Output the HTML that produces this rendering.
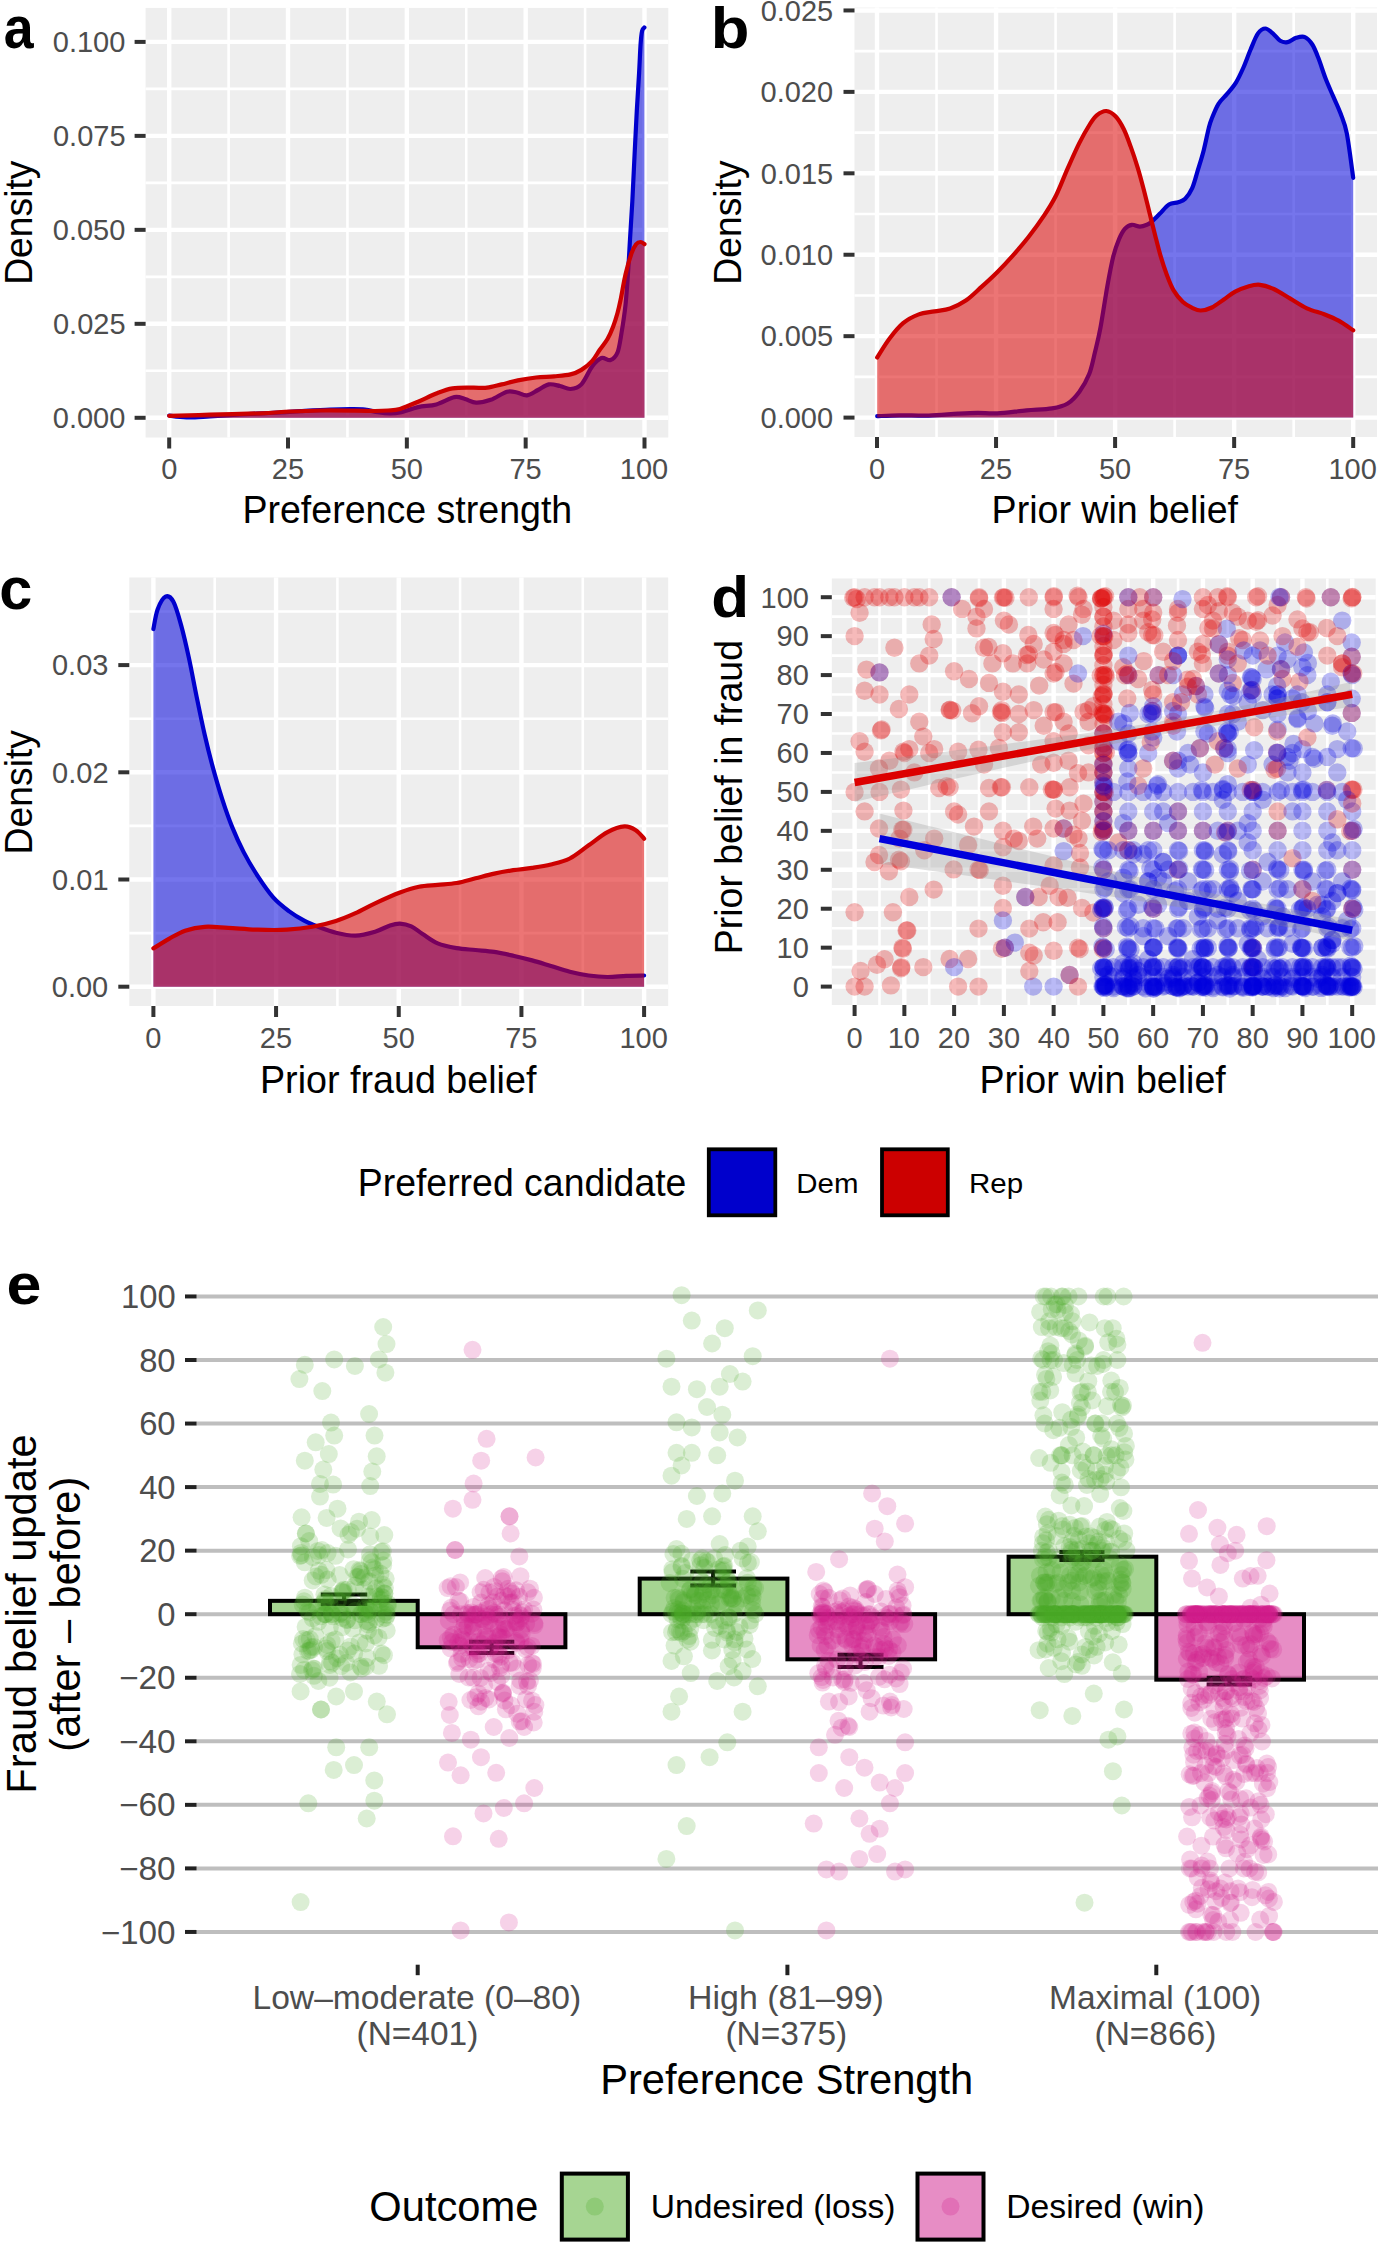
<!DOCTYPE html>
<html><head><meta charset="utf-8"><style>
html,body{margin:0;padding:0;background:#fff;overflow:hidden;}
svg{display:block;}
text{font-family:"Liberation Sans",sans-serif;}
</style></head><body>
<svg width="1378" height="2244" viewBox="0 0 1378 2244">
<rect width="1378" height="2244" fill="#fff"/>
<rect x="145.60" y="7.90" width="522.70" height="429.60" fill="#EEEEEE"/>
<line x1="228.61" y1="7.90" x2="228.61" y2="437.50" stroke="#fff" stroke-width="2.6"/>
<line x1="347.44" y1="7.90" x2="347.44" y2="437.50" stroke="#fff" stroke-width="2.6"/>
<line x1="466.26" y1="7.90" x2="466.26" y2="437.50" stroke="#fff" stroke-width="2.6"/>
<line x1="585.09" y1="7.90" x2="585.09" y2="437.50" stroke="#fff" stroke-width="2.6"/>
<line x1="145.60" y1="370.81" x2="668.30" y2="370.81" stroke="#fff" stroke-width="2.6"/>
<line x1="145.60" y1="276.84" x2="668.30" y2="276.84" stroke="#fff" stroke-width="2.6"/>
<line x1="145.60" y1="182.86" x2="668.30" y2="182.86" stroke="#fff" stroke-width="2.6"/>
<line x1="145.60" y1="88.89" x2="668.30" y2="88.89" stroke="#fff" stroke-width="2.6"/>
<line x1="169.20" y1="7.90" x2="169.20" y2="437.50" stroke="#fff" stroke-width="4.4"/>
<line x1="288.02" y1="7.90" x2="288.02" y2="437.50" stroke="#fff" stroke-width="4.4"/>
<line x1="406.85" y1="7.90" x2="406.85" y2="437.50" stroke="#fff" stroke-width="4.4"/>
<line x1="525.67" y1="7.90" x2="525.67" y2="437.50" stroke="#fff" stroke-width="4.4"/>
<line x1="644.50" y1="7.90" x2="644.50" y2="437.50" stroke="#fff" stroke-width="4.4"/>
<line x1="145.60" y1="417.80" x2="668.30" y2="417.80" stroke="#fff" stroke-width="4.4"/>
<line x1="145.60" y1="323.82" x2="668.30" y2="323.82" stroke="#fff" stroke-width="4.4"/>
<line x1="145.60" y1="229.85" x2="668.30" y2="229.85" stroke="#fff" stroke-width="4.4"/>
<line x1="145.60" y1="135.88" x2="668.30" y2="135.88" stroke="#fff" stroke-width="4.4"/>
<line x1="145.60" y1="41.90" x2="668.30" y2="41.90" stroke="#fff" stroke-width="4.4"/>
<rect x="854.50" y="7.60" width="522.50" height="429.40" fill="#EEEEEE"/>
<line x1="936.52" y1="7.60" x2="936.52" y2="437.00" stroke="#fff" stroke-width="2.6"/>
<line x1="1055.58" y1="7.60" x2="1055.58" y2="437.00" stroke="#fff" stroke-width="2.6"/>
<line x1="1174.62" y1="7.60" x2="1174.62" y2="437.00" stroke="#fff" stroke-width="2.6"/>
<line x1="1293.67" y1="7.60" x2="1293.67" y2="437.00" stroke="#fff" stroke-width="2.6"/>
<line x1="854.50" y1="376.88" x2="1377.00" y2="376.88" stroke="#fff" stroke-width="2.6"/>
<line x1="854.50" y1="295.46" x2="1377.00" y2="295.46" stroke="#fff" stroke-width="2.6"/>
<line x1="854.50" y1="214.03" x2="1377.00" y2="214.03" stroke="#fff" stroke-width="2.6"/>
<line x1="854.50" y1="132.59" x2="1377.00" y2="132.59" stroke="#fff" stroke-width="2.6"/>
<line x1="854.50" y1="51.17" x2="1377.00" y2="51.17" stroke="#fff" stroke-width="2.6"/>
<line x1="877.00" y1="7.60" x2="877.00" y2="437.00" stroke="#fff" stroke-width="4.4"/>
<line x1="996.05" y1="7.60" x2="996.05" y2="437.00" stroke="#fff" stroke-width="4.4"/>
<line x1="1115.10" y1="7.60" x2="1115.10" y2="437.00" stroke="#fff" stroke-width="4.4"/>
<line x1="1234.15" y1="7.60" x2="1234.15" y2="437.00" stroke="#fff" stroke-width="4.4"/>
<line x1="1353.20" y1="7.60" x2="1353.20" y2="437.00" stroke="#fff" stroke-width="4.4"/>
<line x1="854.50" y1="417.60" x2="1377.00" y2="417.60" stroke="#fff" stroke-width="4.4"/>
<line x1="854.50" y1="336.17" x2="1377.00" y2="336.17" stroke="#fff" stroke-width="4.4"/>
<line x1="854.50" y1="254.74" x2="1377.00" y2="254.74" stroke="#fff" stroke-width="4.4"/>
<line x1="854.50" y1="173.31" x2="1377.00" y2="173.31" stroke="#fff" stroke-width="4.4"/>
<line x1="854.50" y1="91.88" x2="1377.00" y2="91.88" stroke="#fff" stroke-width="4.4"/>
<line x1="854.50" y1="10.45" x2="1377.00" y2="10.45" stroke="#fff" stroke-width="4.4"/>
<rect x="129.30" y="577.50" width="538.90" height="428.50" fill="#EEEEEE"/>
<line x1="214.74" y1="577.50" x2="214.74" y2="1006.00" stroke="#fff" stroke-width="2.6"/>
<line x1="337.41" y1="577.50" x2="337.41" y2="1006.00" stroke="#fff" stroke-width="2.6"/>
<line x1="460.09" y1="577.50" x2="460.09" y2="1006.00" stroke="#fff" stroke-width="2.6"/>
<line x1="582.76" y1="577.50" x2="582.76" y2="1006.00" stroke="#fff" stroke-width="2.6"/>
<line x1="129.30" y1="933.10" x2="668.20" y2="933.10" stroke="#fff" stroke-width="2.6"/>
<line x1="129.30" y1="825.90" x2="668.20" y2="825.90" stroke="#fff" stroke-width="2.6"/>
<line x1="129.30" y1="718.70" x2="668.20" y2="718.70" stroke="#fff" stroke-width="2.6"/>
<line x1="129.30" y1="611.50" x2="668.20" y2="611.50" stroke="#fff" stroke-width="2.6"/>
<line x1="153.40" y1="577.50" x2="153.40" y2="1006.00" stroke="#fff" stroke-width="4.4"/>
<line x1="276.07" y1="577.50" x2="276.07" y2="1006.00" stroke="#fff" stroke-width="4.4"/>
<line x1="398.75" y1="577.50" x2="398.75" y2="1006.00" stroke="#fff" stroke-width="4.4"/>
<line x1="521.42" y1="577.50" x2="521.42" y2="1006.00" stroke="#fff" stroke-width="4.4"/>
<line x1="644.10" y1="577.50" x2="644.10" y2="1006.00" stroke="#fff" stroke-width="4.4"/>
<line x1="129.30" y1="986.70" x2="668.20" y2="986.70" stroke="#fff" stroke-width="4.4"/>
<line x1="129.30" y1="879.50" x2="668.20" y2="879.50" stroke="#fff" stroke-width="4.4"/>
<line x1="129.30" y1="772.30" x2="668.20" y2="772.30" stroke="#fff" stroke-width="4.4"/>
<line x1="129.30" y1="665.10" x2="668.20" y2="665.10" stroke="#fff" stroke-width="4.4"/>
<rect x="831.80" y="578.50" width="543.90" height="426.50" fill="#EEEEEE"/>
<line x1="879.48" y1="578.50" x2="879.48" y2="1005.00" stroke="#fff" stroke-width="2.6"/>
<line x1="929.24" y1="578.50" x2="929.24" y2="1005.00" stroke="#fff" stroke-width="2.6"/>
<line x1="979.00" y1="578.50" x2="979.00" y2="1005.00" stroke="#fff" stroke-width="2.6"/>
<line x1="1028.76" y1="578.50" x2="1028.76" y2="1005.00" stroke="#fff" stroke-width="2.6"/>
<line x1="1078.52" y1="578.50" x2="1078.52" y2="1005.00" stroke="#fff" stroke-width="2.6"/>
<line x1="1128.28" y1="578.50" x2="1128.28" y2="1005.00" stroke="#fff" stroke-width="2.6"/>
<line x1="1178.04" y1="578.50" x2="1178.04" y2="1005.00" stroke="#fff" stroke-width="2.6"/>
<line x1="1227.80" y1="578.50" x2="1227.80" y2="1005.00" stroke="#fff" stroke-width="2.6"/>
<line x1="1277.56" y1="578.50" x2="1277.56" y2="1005.00" stroke="#fff" stroke-width="2.6"/>
<line x1="1327.32" y1="578.50" x2="1327.32" y2="1005.00" stroke="#fff" stroke-width="2.6"/>
<line x1="831.80" y1="967.13" x2="1375.70" y2="967.13" stroke="#fff" stroke-width="2.6"/>
<line x1="831.80" y1="928.19" x2="1375.70" y2="928.19" stroke="#fff" stroke-width="2.6"/>
<line x1="831.80" y1="889.25" x2="1375.70" y2="889.25" stroke="#fff" stroke-width="2.6"/>
<line x1="831.80" y1="850.31" x2="1375.70" y2="850.31" stroke="#fff" stroke-width="2.6"/>
<line x1="831.80" y1="811.37" x2="1375.70" y2="811.37" stroke="#fff" stroke-width="2.6"/>
<line x1="831.80" y1="772.43" x2="1375.70" y2="772.43" stroke="#fff" stroke-width="2.6"/>
<line x1="831.80" y1="733.49" x2="1375.70" y2="733.49" stroke="#fff" stroke-width="2.6"/>
<line x1="831.80" y1="694.55" x2="1375.70" y2="694.55" stroke="#fff" stroke-width="2.6"/>
<line x1="831.80" y1="655.61" x2="1375.70" y2="655.61" stroke="#fff" stroke-width="2.6"/>
<line x1="831.80" y1="616.67" x2="1375.70" y2="616.67" stroke="#fff" stroke-width="2.6"/>
<line x1="854.60" y1="578.50" x2="854.60" y2="1005.00" stroke="#fff" stroke-width="4.4"/>
<line x1="904.36" y1="578.50" x2="904.36" y2="1005.00" stroke="#fff" stroke-width="4.4"/>
<line x1="954.12" y1="578.50" x2="954.12" y2="1005.00" stroke="#fff" stroke-width="4.4"/>
<line x1="1003.88" y1="578.50" x2="1003.88" y2="1005.00" stroke="#fff" stroke-width="4.4"/>
<line x1="1053.64" y1="578.50" x2="1053.64" y2="1005.00" stroke="#fff" stroke-width="4.4"/>
<line x1="1103.40" y1="578.50" x2="1103.40" y2="1005.00" stroke="#fff" stroke-width="4.4"/>
<line x1="1153.16" y1="578.50" x2="1153.16" y2="1005.00" stroke="#fff" stroke-width="4.4"/>
<line x1="1202.92" y1="578.50" x2="1202.92" y2="1005.00" stroke="#fff" stroke-width="4.4"/>
<line x1="1252.68" y1="578.50" x2="1252.68" y2="1005.00" stroke="#fff" stroke-width="4.4"/>
<line x1="1302.44" y1="578.50" x2="1302.44" y2="1005.00" stroke="#fff" stroke-width="4.4"/>
<line x1="1352.20" y1="578.50" x2="1352.20" y2="1005.00" stroke="#fff" stroke-width="4.4"/>
<line x1="831.80" y1="986.60" x2="1375.70" y2="986.60" stroke="#fff" stroke-width="4.4"/>
<line x1="831.80" y1="947.66" x2="1375.70" y2="947.66" stroke="#fff" stroke-width="4.4"/>
<line x1="831.80" y1="908.72" x2="1375.70" y2="908.72" stroke="#fff" stroke-width="4.4"/>
<line x1="831.80" y1="869.78" x2="1375.70" y2="869.78" stroke="#fff" stroke-width="4.4"/>
<line x1="831.80" y1="830.84" x2="1375.70" y2="830.84" stroke="#fff" stroke-width="4.4"/>
<line x1="831.80" y1="791.90" x2="1375.70" y2="791.90" stroke="#fff" stroke-width="4.4"/>
<line x1="831.80" y1="752.96" x2="1375.70" y2="752.96" stroke="#fff" stroke-width="4.4"/>
<line x1="831.80" y1="714.02" x2="1375.70" y2="714.02" stroke="#fff" stroke-width="4.4"/>
<line x1="831.80" y1="675.08" x2="1375.70" y2="675.08" stroke="#fff" stroke-width="4.4"/>
<line x1="831.80" y1="636.14" x2="1375.70" y2="636.14" stroke="#fff" stroke-width="4.4"/>
<line x1="831.80" y1="597.20" x2="1375.70" y2="597.20" stroke="#fff" stroke-width="4.4"/>
<path d="M169.20,415.50 C171.00,415.75 175.70,416.67 180.00,417.00 C184.30,417.33 190.00,417.58 195.00,417.50 C200.00,417.42 202.50,417.00 210.00,416.50 C217.50,416.00 230.00,415.08 240.00,414.50 C250.00,413.92 260.00,413.55 270.00,413.00 C280.00,412.45 290.00,411.77 300.00,411.20 C310.00,410.63 321.67,409.93 330.00,409.60 C338.33,409.27 344.17,409.20 350.00,409.20 C355.83,409.20 360.33,409.08 365.00,409.60 C369.67,410.12 373.83,411.65 378.00,412.30 C382.17,412.95 386.33,413.47 390.00,413.50 C393.67,413.53 395.32,413.57 400.00,412.50 C404.68,411.43 412.05,408.45 418.10,407.10 C424.15,405.75 430.25,406.07 436.30,404.40 C442.35,402.73 449.62,398.00 454.40,397.10 C459.18,396.20 461.37,398.08 465.00,399.00 C468.63,399.92 471.92,402.47 476.20,402.60 C480.48,402.73 485.57,401.62 490.70,399.80 C495.83,397.98 502.62,392.92 507.00,391.70 C511.38,390.48 513.67,391.90 517.00,392.50 C520.33,393.10 523.50,395.72 527.00,395.30 C530.50,394.88 534.37,391.82 538.00,390.00 C541.63,388.18 545.13,385.07 548.80,384.40 C552.47,383.73 556.38,385.23 560.00,386.00 C563.62,386.77 566.93,389.27 570.50,389.00 C574.07,388.73 577.77,388.18 581.40,384.40 C585.03,380.62 588.97,370.68 592.30,366.30 C595.63,361.92 598.37,359.15 601.40,358.10 C604.43,357.05 607.82,360.93 610.50,360.00 C613.18,359.07 615.67,357.00 617.50,352.50 C619.33,348.00 620.17,340.92 621.50,333.00 C622.83,325.08 624.38,315.50 625.50,305.00 C626.62,294.50 627.45,280.88 628.20,270.00 C628.95,259.12 629.32,251.07 630.00,239.70 C630.68,228.33 631.55,215.68 632.30,201.80 C633.05,187.92 633.75,171.55 634.50,156.40 C635.25,141.25 636.03,124.80 636.80,110.90 C637.57,97.00 638.47,84.15 639.10,73.00 C639.73,61.85 640.10,51.00 640.60,44.00 C641.10,37.00 641.47,33.75 642.10,31.00 C642.73,28.25 644.02,28.08 644.40,27.50 L644.40,417.80 L169.20,417.80 Z" fill="#0000DC" fill-opacity="0.54"/>
<path d="M169.20,415.50 C171.00,415.75 175.70,416.67 180.00,417.00 C184.30,417.33 190.00,417.58 195.00,417.50 C200.00,417.42 202.50,417.00 210.00,416.50 C217.50,416.00 230.00,415.08 240.00,414.50 C250.00,413.92 260.00,413.55 270.00,413.00 C280.00,412.45 290.00,411.77 300.00,411.20 C310.00,410.63 321.67,409.93 330.00,409.60 C338.33,409.27 344.17,409.20 350.00,409.20 C355.83,409.20 360.33,409.08 365.00,409.60 C369.67,410.12 373.83,411.65 378.00,412.30 C382.17,412.95 386.33,413.47 390.00,413.50 C393.67,413.53 395.32,413.57 400.00,412.50 C404.68,411.43 412.05,408.45 418.10,407.10 C424.15,405.75 430.25,406.07 436.30,404.40 C442.35,402.73 449.62,398.00 454.40,397.10 C459.18,396.20 461.37,398.08 465.00,399.00 C468.63,399.92 471.92,402.47 476.20,402.60 C480.48,402.73 485.57,401.62 490.70,399.80 C495.83,397.98 502.62,392.92 507.00,391.70 C511.38,390.48 513.67,391.90 517.00,392.50 C520.33,393.10 523.50,395.72 527.00,395.30 C530.50,394.88 534.37,391.82 538.00,390.00 C541.63,388.18 545.13,385.07 548.80,384.40 C552.47,383.73 556.38,385.23 560.00,386.00 C563.62,386.77 566.93,389.27 570.50,389.00 C574.07,388.73 577.77,388.18 581.40,384.40 C585.03,380.62 588.97,370.68 592.30,366.30 C595.63,361.92 598.37,359.15 601.40,358.10 C604.43,357.05 607.82,360.93 610.50,360.00 C613.18,359.07 615.67,357.00 617.50,352.50 C619.33,348.00 620.17,340.92 621.50,333.00 C622.83,325.08 624.38,315.50 625.50,305.00 C626.62,294.50 627.45,280.88 628.20,270.00 C628.95,259.12 629.32,251.07 630.00,239.70 C630.68,228.33 631.55,215.68 632.30,201.80 C633.05,187.92 633.75,171.55 634.50,156.40 C635.25,141.25 636.03,124.80 636.80,110.90 C637.57,97.00 638.47,84.15 639.10,73.00 C639.73,61.85 640.10,51.00 640.60,44.00 C641.10,37.00 641.47,33.75 642.10,31.00 C642.73,28.25 644.02,28.08 644.40,27.50" fill="none" stroke="#0000CD" stroke-width="4.2" stroke-linecap="round" stroke-linejoin="round"/>
<path d="M169.20,415.80 C176.00,415.62 194.87,415.12 210.00,414.70 C225.13,414.28 246.67,413.83 260.00,413.30 C273.33,412.77 280.00,411.97 290.00,411.50 C300.00,411.03 309.17,410.65 320.00,410.50 C330.83,410.35 345.83,410.52 355.00,410.60 C364.17,410.68 369.50,411.02 375.00,411.00 C380.50,410.98 383.83,410.85 388.00,410.50 C392.17,410.15 394.98,410.37 400.00,408.90 C405.02,407.43 412.05,404.27 418.10,401.70 C424.15,399.13 430.55,395.72 436.30,393.50 C442.05,391.28 446.55,389.37 452.60,388.40 C458.65,387.43 466.85,387.82 472.60,387.70 C478.35,387.58 482.27,388.25 487.10,387.70 C491.93,387.15 496.47,385.62 501.60,384.40 C506.73,383.18 512.15,381.55 517.90,380.40 C523.65,379.25 530.05,378.18 536.10,377.50 C542.15,376.82 548.47,376.82 554.20,376.30 C559.93,375.78 565.97,375.47 570.50,374.40 C575.03,373.33 577.77,372.17 581.40,369.90 C585.03,367.63 589.27,364.12 592.30,360.80 C595.33,357.48 597.07,353.63 599.60,350.00 C602.13,346.37 605.27,342.83 607.50,339.00 C609.73,335.17 611.33,331.33 613.00,327.00 C614.67,322.67 616.25,317.45 617.50,313.00 C618.75,308.55 619.17,306.72 620.50,300.30 C621.83,293.88 623.67,282.33 625.50,274.50 C627.33,266.67 629.73,258.35 631.50,253.30 C633.27,248.25 634.58,246.08 636.10,244.20 C637.62,242.32 639.20,242.00 640.60,242.00 C642.00,242.00 643.85,243.83 644.50,244.20 L644.50,417.80 L169.20,417.80 Z" fill="#DC0000" fill-opacity="0.54"/>
<path d="M169.20,415.80 C176.00,415.62 194.87,415.12 210.00,414.70 C225.13,414.28 246.67,413.83 260.00,413.30 C273.33,412.77 280.00,411.97 290.00,411.50 C300.00,411.03 309.17,410.65 320.00,410.50 C330.83,410.35 345.83,410.52 355.00,410.60 C364.17,410.68 369.50,411.02 375.00,411.00 C380.50,410.98 383.83,410.85 388.00,410.50 C392.17,410.15 394.98,410.37 400.00,408.90 C405.02,407.43 412.05,404.27 418.10,401.70 C424.15,399.13 430.55,395.72 436.30,393.50 C442.05,391.28 446.55,389.37 452.60,388.40 C458.65,387.43 466.85,387.82 472.60,387.70 C478.35,387.58 482.27,388.25 487.10,387.70 C491.93,387.15 496.47,385.62 501.60,384.40 C506.73,383.18 512.15,381.55 517.90,380.40 C523.65,379.25 530.05,378.18 536.10,377.50 C542.15,376.82 548.47,376.82 554.20,376.30 C559.93,375.78 565.97,375.47 570.50,374.40 C575.03,373.33 577.77,372.17 581.40,369.90 C585.03,367.63 589.27,364.12 592.30,360.80 C595.33,357.48 597.07,353.63 599.60,350.00 C602.13,346.37 605.27,342.83 607.50,339.00 C609.73,335.17 611.33,331.33 613.00,327.00 C614.67,322.67 616.25,317.45 617.50,313.00 C618.75,308.55 619.17,306.72 620.50,300.30 C621.83,293.88 623.67,282.33 625.50,274.50 C627.33,266.67 629.73,258.35 631.50,253.30 C633.27,248.25 634.58,246.08 636.10,244.20 C637.62,242.32 639.20,242.00 640.60,242.00 C642.00,242.00 643.85,243.83 644.50,244.20" fill="none" stroke="#CD0000" stroke-width="4.2" stroke-linecap="round" stroke-linejoin="round"/>
<path d="M877.20,416.20 C880.87,416.05 890.63,415.40 899.20,415.30 C907.77,415.20 918.80,415.87 928.60,415.60 C938.40,415.33 949.83,414.15 958.00,413.70 C966.17,413.25 971.07,412.97 977.60,412.90 C984.13,412.83 989.05,413.72 997.20,413.30 C1005.35,412.88 1017.37,411.22 1026.50,410.40 C1035.63,409.58 1045.13,409.55 1052.00,408.40 C1058.87,407.25 1063.13,406.28 1067.70,403.50 C1072.27,400.72 1075.82,396.60 1079.40,391.70 C1082.98,386.80 1086.60,380.72 1089.20,374.10 C1091.80,367.48 1093.13,359.68 1095.00,352.00 C1096.87,344.32 1098.33,339.03 1100.40,328.00 C1102.47,316.97 1105.27,297.68 1107.40,285.80 C1109.53,273.92 1111.27,264.45 1113.20,256.70 C1115.13,248.95 1117.07,243.93 1119.00,239.30 C1120.93,234.67 1122.67,231.32 1124.80,228.90 C1126.93,226.48 1129.28,225.18 1131.80,224.80 C1134.32,224.42 1137.38,226.60 1139.90,226.60 C1142.42,226.60 1144.97,225.58 1146.90,224.80 C1148.83,224.02 1149.37,223.73 1151.50,221.90 C1153.63,220.07 1156.78,216.70 1159.70,213.80 C1162.62,210.90 1165.92,206.43 1169.00,204.50 C1172.08,202.57 1175.50,203.17 1178.20,202.20 C1180.90,201.23 1182.87,201.03 1185.20,198.70 C1187.53,196.37 1190.07,193.03 1192.20,188.20 C1194.33,183.37 1196.07,176.08 1198.00,169.70 C1199.93,163.32 1201.97,157.02 1203.80,149.90 C1205.63,142.78 1207.58,132.43 1209.00,127.00 C1210.42,121.57 1210.72,121.17 1212.30,117.30 C1213.88,113.43 1216.03,107.70 1218.50,103.80 C1220.97,99.90 1224.22,97.40 1227.10,93.90 C1229.98,90.40 1233.12,87.12 1235.80,82.80 C1238.48,78.48 1240.73,73.55 1243.20,68.00 C1245.67,62.45 1248.13,55.27 1250.60,49.50 C1253.07,43.73 1255.53,36.90 1258.00,33.40 C1260.47,29.90 1262.93,28.50 1265.40,28.50 C1267.87,28.50 1270.33,31.35 1272.80,33.40 C1275.27,35.45 1277.73,39.35 1280.20,40.80 C1282.67,42.25 1284.93,42.60 1287.60,42.10 C1290.27,41.60 1293.32,38.63 1296.20,37.80 C1299.08,36.97 1302.22,35.98 1304.90,37.10 C1307.58,38.22 1310.05,41.00 1312.30,44.50 C1314.55,48.00 1316.15,52.33 1318.40,58.10 C1320.65,63.87 1323.33,72.72 1325.80,79.10 C1328.27,85.48 1330.73,90.65 1333.20,96.40 C1335.67,102.15 1338.33,107.43 1340.60,113.60 C1342.87,119.77 1344.70,122.70 1346.80,133.40 C1348.90,144.10 1352.13,170.40 1353.20,177.80 L1353.20,417.60 L877.20,417.60 Z" fill="#0000DC" fill-opacity="0.54"/>
<path d="M877.20,416.20 C880.87,416.05 890.63,415.40 899.20,415.30 C907.77,415.20 918.80,415.87 928.60,415.60 C938.40,415.33 949.83,414.15 958.00,413.70 C966.17,413.25 971.07,412.97 977.60,412.90 C984.13,412.83 989.05,413.72 997.20,413.30 C1005.35,412.88 1017.37,411.22 1026.50,410.40 C1035.63,409.58 1045.13,409.55 1052.00,408.40 C1058.87,407.25 1063.13,406.28 1067.70,403.50 C1072.27,400.72 1075.82,396.60 1079.40,391.70 C1082.98,386.80 1086.60,380.72 1089.20,374.10 C1091.80,367.48 1093.13,359.68 1095.00,352.00 C1096.87,344.32 1098.33,339.03 1100.40,328.00 C1102.47,316.97 1105.27,297.68 1107.40,285.80 C1109.53,273.92 1111.27,264.45 1113.20,256.70 C1115.13,248.95 1117.07,243.93 1119.00,239.30 C1120.93,234.67 1122.67,231.32 1124.80,228.90 C1126.93,226.48 1129.28,225.18 1131.80,224.80 C1134.32,224.42 1137.38,226.60 1139.90,226.60 C1142.42,226.60 1144.97,225.58 1146.90,224.80 C1148.83,224.02 1149.37,223.73 1151.50,221.90 C1153.63,220.07 1156.78,216.70 1159.70,213.80 C1162.62,210.90 1165.92,206.43 1169.00,204.50 C1172.08,202.57 1175.50,203.17 1178.20,202.20 C1180.90,201.23 1182.87,201.03 1185.20,198.70 C1187.53,196.37 1190.07,193.03 1192.20,188.20 C1194.33,183.37 1196.07,176.08 1198.00,169.70 C1199.93,163.32 1201.97,157.02 1203.80,149.90 C1205.63,142.78 1207.58,132.43 1209.00,127.00 C1210.42,121.57 1210.72,121.17 1212.30,117.30 C1213.88,113.43 1216.03,107.70 1218.50,103.80 C1220.97,99.90 1224.22,97.40 1227.10,93.90 C1229.98,90.40 1233.12,87.12 1235.80,82.80 C1238.48,78.48 1240.73,73.55 1243.20,68.00 C1245.67,62.45 1248.13,55.27 1250.60,49.50 C1253.07,43.73 1255.53,36.90 1258.00,33.40 C1260.47,29.90 1262.93,28.50 1265.40,28.50 C1267.87,28.50 1270.33,31.35 1272.80,33.40 C1275.27,35.45 1277.73,39.35 1280.20,40.80 C1282.67,42.25 1284.93,42.60 1287.60,42.10 C1290.27,41.60 1293.32,38.63 1296.20,37.80 C1299.08,36.97 1302.22,35.98 1304.90,37.10 C1307.58,38.22 1310.05,41.00 1312.30,44.50 C1314.55,48.00 1316.15,52.33 1318.40,58.10 C1320.65,63.87 1323.33,72.72 1325.80,79.10 C1328.27,85.48 1330.73,90.65 1333.20,96.40 C1335.67,102.15 1338.33,107.43 1340.60,113.60 C1342.87,119.77 1344.70,122.70 1346.80,133.40 C1348.90,144.10 1352.13,170.40 1353.20,177.80" fill="none" stroke="#0000CD" stroke-width="4.2" stroke-linecap="round" stroke-linejoin="round"/>
<path d="M877.20,357.50 C879.23,354.38 885.08,344.52 889.40,338.80 C893.72,333.08 898.20,327.27 903.10,323.20 C908.00,319.13 913.57,316.37 918.80,314.40 C924.03,312.43 929.28,312.38 934.50,311.40 C939.72,310.42 944.88,310.30 950.10,308.50 C955.32,306.70 960.57,304.20 965.80,300.60 C971.03,297.00 976.27,291.63 981.50,286.90 C986.73,282.17 991.98,277.42 997.20,272.20 C1002.42,266.98 1007.58,261.47 1012.80,255.60 C1018.02,249.73 1023.27,243.70 1028.50,237.00 C1033.73,230.30 1039.63,222.27 1044.20,215.40 C1048.77,208.53 1051.98,203.63 1055.90,195.80 C1059.82,187.97 1063.78,177.22 1067.70,168.40 C1071.62,159.58 1075.68,150.30 1079.40,142.90 C1083.12,135.50 1087.07,128.63 1090.00,124.00 C1092.93,119.37 1094.28,117.27 1097.00,115.10 C1099.72,112.93 1103.22,110.80 1106.30,111.00 C1109.38,111.20 1112.60,113.30 1115.50,116.30 C1118.40,119.30 1121.18,123.98 1123.70,129.00 C1126.22,134.02 1128.28,140.02 1130.60,146.40 C1132.92,152.78 1135.47,160.33 1137.60,167.30 C1139.73,174.27 1141.47,180.83 1143.40,188.20 C1145.33,195.57 1147.27,203.75 1149.20,211.50 C1151.13,219.25 1153.07,227.17 1155.00,234.70 C1156.93,242.23 1158.87,250.12 1160.80,256.70 C1162.73,263.28 1164.47,268.58 1166.60,274.20 C1168.73,279.82 1170.88,285.77 1173.60,290.40 C1176.32,295.03 1179.80,299.10 1182.90,302.00 C1186.00,304.90 1189.23,306.38 1192.20,307.80 C1195.17,309.22 1197.42,310.55 1200.70,310.50 C1203.98,310.45 1208.10,309.30 1211.90,307.50 C1215.70,305.70 1219.62,302.33 1223.50,299.70 C1227.38,297.07 1230.97,293.95 1235.20,291.70 C1239.43,289.45 1244.77,287.35 1248.90,286.20 C1253.03,285.05 1255.85,284.33 1260.00,284.80 C1264.15,285.27 1268.75,286.70 1273.80,289.00 C1278.85,291.30 1284.78,295.38 1290.30,298.60 C1295.82,301.82 1301.15,305.65 1306.90,308.30 C1312.65,310.95 1319.52,312.43 1324.80,314.50 C1330.08,316.57 1333.87,318.07 1338.60,320.70 C1343.33,323.33 1350.77,328.70 1353.20,330.30 L1353.20,417.60 L877.20,417.60 Z" fill="#DC0000" fill-opacity="0.54"/>
<path d="M877.20,357.50 C879.23,354.38 885.08,344.52 889.40,338.80 C893.72,333.08 898.20,327.27 903.10,323.20 C908.00,319.13 913.57,316.37 918.80,314.40 C924.03,312.43 929.28,312.38 934.50,311.40 C939.72,310.42 944.88,310.30 950.10,308.50 C955.32,306.70 960.57,304.20 965.80,300.60 C971.03,297.00 976.27,291.63 981.50,286.90 C986.73,282.17 991.98,277.42 997.20,272.20 C1002.42,266.98 1007.58,261.47 1012.80,255.60 C1018.02,249.73 1023.27,243.70 1028.50,237.00 C1033.73,230.30 1039.63,222.27 1044.20,215.40 C1048.77,208.53 1051.98,203.63 1055.90,195.80 C1059.82,187.97 1063.78,177.22 1067.70,168.40 C1071.62,159.58 1075.68,150.30 1079.40,142.90 C1083.12,135.50 1087.07,128.63 1090.00,124.00 C1092.93,119.37 1094.28,117.27 1097.00,115.10 C1099.72,112.93 1103.22,110.80 1106.30,111.00 C1109.38,111.20 1112.60,113.30 1115.50,116.30 C1118.40,119.30 1121.18,123.98 1123.70,129.00 C1126.22,134.02 1128.28,140.02 1130.60,146.40 C1132.92,152.78 1135.47,160.33 1137.60,167.30 C1139.73,174.27 1141.47,180.83 1143.40,188.20 C1145.33,195.57 1147.27,203.75 1149.20,211.50 C1151.13,219.25 1153.07,227.17 1155.00,234.70 C1156.93,242.23 1158.87,250.12 1160.80,256.70 C1162.73,263.28 1164.47,268.58 1166.60,274.20 C1168.73,279.82 1170.88,285.77 1173.60,290.40 C1176.32,295.03 1179.80,299.10 1182.90,302.00 C1186.00,304.90 1189.23,306.38 1192.20,307.80 C1195.17,309.22 1197.42,310.55 1200.70,310.50 C1203.98,310.45 1208.10,309.30 1211.90,307.50 C1215.70,305.70 1219.62,302.33 1223.50,299.70 C1227.38,297.07 1230.97,293.95 1235.20,291.70 C1239.43,289.45 1244.77,287.35 1248.90,286.20 C1253.03,285.05 1255.85,284.33 1260.00,284.80 C1264.15,285.27 1268.75,286.70 1273.80,289.00 C1278.85,291.30 1284.78,295.38 1290.30,298.60 C1295.82,301.82 1301.15,305.65 1306.90,308.30 C1312.65,310.95 1319.52,312.43 1324.80,314.50 C1330.08,316.57 1333.87,318.07 1338.60,320.70 C1343.33,323.33 1350.77,328.70 1353.20,330.30" fill="none" stroke="#CD0000" stroke-width="4.2" stroke-linecap="round" stroke-linejoin="round"/>
<path d="M153.40,629.00 C154.10,625.73 155.58,614.78 157.60,609.40 C159.62,604.02 162.88,598.00 165.50,596.70 C168.12,595.40 170.70,596.87 173.30,601.60 C175.90,606.33 178.48,615.63 181.10,625.10 C183.72,634.57 186.38,646.32 189.00,658.40 C191.62,670.48 194.18,684.87 196.80,697.60 C199.42,710.33 202.08,723.38 204.70,734.80 C207.32,746.22 209.57,755.33 212.50,766.10 C215.43,776.87 219.03,789.27 222.30,799.40 C225.57,809.53 228.52,818.07 232.10,826.90 C235.68,835.73 239.55,844.23 243.80,852.40 C248.05,860.57 252.70,868.40 257.60,875.90 C262.50,883.40 267.98,891.53 273.20,897.40 C278.42,903.27 283.67,907.18 288.90,911.10 C294.13,915.02 299.70,918.28 304.60,920.90 C309.50,923.52 313.08,924.83 318.30,926.80 C323.52,928.77 329.70,931.23 335.90,932.70 C342.10,934.17 348.97,935.77 355.50,935.60 C362.03,935.43 369.35,933.38 375.10,931.70 C380.85,930.02 385.85,926.85 390.00,925.50 C394.15,924.15 396.45,923.45 400.00,923.60 C403.55,923.75 407.53,924.67 411.30,926.40 C415.07,928.13 418.20,931.17 422.60,934.00 C427.00,936.83 432.03,941.05 437.70,943.40 C443.37,945.75 450.30,947.00 456.60,948.10 C462.90,949.20 469.22,949.37 475.50,950.00 C481.78,950.63 488.02,950.95 494.30,951.90 C500.58,952.85 506.90,954.28 513.20,955.70 C519.50,957.12 525.82,958.68 532.10,960.40 C538.38,962.12 544.62,964.12 550.90,966.00 C557.18,967.88 563.50,970.12 569.80,971.70 C576.10,973.28 582.42,974.62 588.70,975.50 C594.98,976.38 601.22,976.95 607.50,977.00 C613.78,977.05 620.30,976.05 626.40,975.80 C632.50,975.55 641.15,975.55 644.10,975.50 L644.10,986.70 L153.40,986.70 Z" fill="#0000DC" fill-opacity="0.54"/>
<path d="M153.40,629.00 C154.10,625.73 155.58,614.78 157.60,609.40 C159.62,604.02 162.88,598.00 165.50,596.70 C168.12,595.40 170.70,596.87 173.30,601.60 C175.90,606.33 178.48,615.63 181.10,625.10 C183.72,634.57 186.38,646.32 189.00,658.40 C191.62,670.48 194.18,684.87 196.80,697.60 C199.42,710.33 202.08,723.38 204.70,734.80 C207.32,746.22 209.57,755.33 212.50,766.10 C215.43,776.87 219.03,789.27 222.30,799.40 C225.57,809.53 228.52,818.07 232.10,826.90 C235.68,835.73 239.55,844.23 243.80,852.40 C248.05,860.57 252.70,868.40 257.60,875.90 C262.50,883.40 267.98,891.53 273.20,897.40 C278.42,903.27 283.67,907.18 288.90,911.10 C294.13,915.02 299.70,918.28 304.60,920.90 C309.50,923.52 313.08,924.83 318.30,926.80 C323.52,928.77 329.70,931.23 335.90,932.70 C342.10,934.17 348.97,935.77 355.50,935.60 C362.03,935.43 369.35,933.38 375.10,931.70 C380.85,930.02 385.85,926.85 390.00,925.50 C394.15,924.15 396.45,923.45 400.00,923.60 C403.55,923.75 407.53,924.67 411.30,926.40 C415.07,928.13 418.20,931.17 422.60,934.00 C427.00,936.83 432.03,941.05 437.70,943.40 C443.37,945.75 450.30,947.00 456.60,948.10 C462.90,949.20 469.22,949.37 475.50,950.00 C481.78,950.63 488.02,950.95 494.30,951.90 C500.58,952.85 506.90,954.28 513.20,955.70 C519.50,957.12 525.82,958.68 532.10,960.40 C538.38,962.12 544.62,964.12 550.90,966.00 C557.18,967.88 563.50,970.12 569.80,971.70 C576.10,973.28 582.42,974.62 588.70,975.50 C594.98,976.38 601.22,976.95 607.50,977.00 C613.78,977.05 620.30,976.05 626.40,975.80 C632.50,975.55 641.15,975.55 644.10,975.50" fill="none" stroke="#0000CD" stroke-width="4.2" stroke-linecap="round" stroke-linejoin="round"/>
<path d="M153.40,948.40 C156.07,946.77 164.12,941.55 169.40,938.60 C174.68,935.65 179.22,932.67 185.10,930.70 C190.98,928.73 197.52,927.28 204.70,926.80 C211.88,926.32 219.38,927.32 228.20,927.80 C237.02,928.28 247.80,929.38 257.60,929.70 C267.40,930.02 277.87,930.18 287.00,929.70 C296.13,929.22 304.25,928.27 312.40,926.80 C320.55,925.33 328.72,923.18 335.90,920.90 C343.08,918.62 348.97,916.03 355.50,913.10 C362.03,910.17 367.68,906.73 375.10,903.30 C382.52,899.87 392.70,895.25 400.00,892.50 C407.30,889.75 412.62,888.07 418.90,886.80 C425.18,885.53 431.42,885.53 437.70,884.90 C443.98,884.27 450.30,884.10 456.60,883.00 C462.90,881.90 469.22,879.87 475.50,878.30 C481.78,876.73 488.02,874.95 494.30,873.60 C500.58,872.25 506.90,871.15 513.20,870.20 C519.50,869.25 525.82,868.85 532.10,867.90 C538.38,866.95 544.62,866.07 550.90,864.50 C557.18,862.93 563.50,861.70 569.80,858.50 C576.10,855.30 582.42,849.70 588.70,845.30 C594.98,840.90 601.53,835.25 607.50,832.10 C613.47,828.95 619.78,826.72 624.50,826.40 C629.22,826.08 632.53,828.15 635.80,830.20 C639.07,832.25 642.72,837.28 644.10,838.70 L644.10,986.70 L153.40,986.70 Z" fill="#DC0000" fill-opacity="0.54"/>
<path d="M153.40,948.40 C156.07,946.77 164.12,941.55 169.40,938.60 C174.68,935.65 179.22,932.67 185.10,930.70 C190.98,928.73 197.52,927.28 204.70,926.80 C211.88,926.32 219.38,927.32 228.20,927.80 C237.02,928.28 247.80,929.38 257.60,929.70 C267.40,930.02 277.87,930.18 287.00,929.70 C296.13,929.22 304.25,928.27 312.40,926.80 C320.55,925.33 328.72,923.18 335.90,920.90 C343.08,918.62 348.97,916.03 355.50,913.10 C362.03,910.17 367.68,906.73 375.10,903.30 C382.52,899.87 392.70,895.25 400.00,892.50 C407.30,889.75 412.62,888.07 418.90,886.80 C425.18,885.53 431.42,885.53 437.70,884.90 C443.98,884.27 450.30,884.10 456.60,883.00 C462.90,881.90 469.22,879.87 475.50,878.30 C481.78,876.73 488.02,874.95 494.30,873.60 C500.58,872.25 506.90,871.15 513.20,870.20 C519.50,869.25 525.82,868.85 532.10,867.90 C538.38,866.95 544.62,866.07 550.90,864.50 C557.18,862.93 563.50,861.70 569.80,858.50 C576.10,855.30 582.42,849.70 588.70,845.30 C594.98,840.90 601.53,835.25 607.50,832.10 C613.47,828.95 619.78,826.72 624.50,826.40 C629.22,826.08 632.53,828.15 635.80,830.20 C639.07,832.25 642.72,837.28 644.10,838.70" fill="none" stroke="#CD0000" stroke-width="4.2" stroke-linecap="round" stroke-linejoin="round"/>
<g>
<circle cx="1153.2" cy="597.2" r="9.2" fill="#0000DC" fill-opacity="0.27"/>
<circle cx="1068.6" cy="624.5" r="9.2" fill="#DC0000" fill-opacity="0.27"/>
<circle cx="1003.9" cy="597.2" r="9.2" fill="#DC0000" fill-opacity="0.27"/>
<circle cx="1352.2" cy="967.1" r="9.2" fill="#0000DC" fill-opacity="0.27"/>
<circle cx="1138.2" cy="679.0" r="9.2" fill="#DC0000" fill-opacity="0.27"/>
<circle cx="1103.6" cy="692.9" r="9.2" fill="#DC0000" fill-opacity="0.27"/>
<circle cx="1123.3" cy="986.6" r="9.2" fill="#0000DC" fill-opacity="0.27"/>
<circle cx="1277.6" cy="889.2" r="9.2" fill="#0000DC" fill-opacity="0.27"/>
<circle cx="1128.3" cy="850.3" r="9.2" fill="#0000DC" fill-opacity="0.27"/>
<circle cx="929.2" cy="597.2" r="9.2" fill="#DC0000" fill-opacity="0.27"/>
<circle cx="1227.8" cy="947.7" r="9.2" fill="#0000DC" fill-opacity="0.27"/>
<circle cx="1178.0" cy="889.2" r="9.2" fill="#0000DC" fill-opacity="0.27"/>
<circle cx="1242.7" cy="967.1" r="9.2" fill="#0000DC" fill-opacity="0.27"/>
<circle cx="1193.0" cy="679.0" r="9.2" fill="#DC0000" fill-opacity="0.27"/>
<circle cx="1325.6" cy="969.0" r="9.2" fill="#0000DC" fill-opacity="0.27"/>
<circle cx="1353.7" cy="748.4" r="9.2" fill="#0000DC" fill-opacity="0.27"/>
<circle cx="1113.4" cy="620.6" r="9.2" fill="#DC0000" fill-opacity="0.27"/>
<circle cx="1218.8" cy="611.2" r="9.2" fill="#DC0000" fill-opacity="0.27"/>
<circle cx="1093.4" cy="912.6" r="9.2" fill="#DC0000" fill-opacity="0.27"/>
<circle cx="1128.3" cy="753.0" r="9.2" fill="#0000DC" fill-opacity="0.27"/>
<circle cx="929.2" cy="753.0" r="9.2" fill="#DC0000" fill-opacity="0.27"/>
<circle cx="1129.6" cy="967.8" r="9.2" fill="#0000DC" fill-opacity="0.27"/>
<circle cx="1342.2" cy="986.6" r="9.2" fill="#0000DC" fill-opacity="0.27"/>
<circle cx="984.0" cy="764.6" r="9.2" fill="#DC0000" fill-opacity="0.27"/>
<circle cx="854.6" cy="912.2" r="9.2" fill="#DC0000" fill-opacity="0.27"/>
<circle cx="1232.8" cy="986.6" r="9.2" fill="#0000DC" fill-opacity="0.27"/>
<circle cx="1202.9" cy="791.9" r="9.2" fill="#0000DC" fill-opacity="0.27"/>
<circle cx="1212.9" cy="986.6" r="9.2" fill="#0000DC" fill-opacity="0.27"/>
<circle cx="1148.2" cy="753.0" r="9.2" fill="#0000DC" fill-opacity="0.27"/>
<circle cx="1302.4" cy="967.1" r="9.2" fill="#0000DC" fill-opacity="0.27"/>
<circle cx="1191.6" cy="985.6" r="9.2" fill="#0000DC" fill-opacity="0.27"/>
<circle cx="1289.5" cy="760.7" r="9.2" fill="#0000DC" fill-opacity="0.27"/>
<circle cx="1329.2" cy="986.4" r="9.2" fill="#0000DC" fill-opacity="0.27"/>
<circle cx="1337.3" cy="749.1" r="9.2" fill="#0000DC" fill-opacity="0.27"/>
<circle cx="1103.4" cy="772.4" r="9.2" fill="#DC0000" fill-opacity="0.27"/>
<circle cx="1205.7" cy="985.9" r="9.2" fill="#0000DC" fill-opacity="0.27"/>
<circle cx="1002.0" cy="712.9" r="9.2" fill="#DC0000" fill-opacity="0.27"/>
<circle cx="1302.4" cy="811.4" r="9.2" fill="#0000DC" fill-opacity="0.27"/>
<circle cx="1103.4" cy="830.8" r="9.2" fill="#DC0000" fill-opacity="0.27"/>
<circle cx="1078.5" cy="597.2" r="9.2" fill="#DC0000" fill-opacity="0.27"/>
<circle cx="1250.8" cy="948.3" r="9.2" fill="#0000DC" fill-opacity="0.27"/>
<circle cx="1158.1" cy="904.8" r="9.2" fill="#0000DC" fill-opacity="0.27"/>
<circle cx="1177.0" cy="987.2" r="9.2" fill="#0000DC" fill-opacity="0.27"/>
<circle cx="1205.5" cy="987.7" r="9.2" fill="#0000DC" fill-opacity="0.27"/>
<circle cx="1302.4" cy="908.7" r="9.2" fill="#0000DC" fill-opacity="0.27"/>
<circle cx="1143.2" cy="768.5" r="9.2" fill="#DC0000" fill-opacity="0.27"/>
<circle cx="1069.6" cy="974.9" r="9.2" fill="#0000DC" fill-opacity="0.27"/>
<circle cx="1227.8" cy="651.7" r="9.2" fill="#DC0000" fill-opacity="0.27"/>
<circle cx="1073.5" cy="640.0" r="9.2" fill="#DC0000" fill-opacity="0.27"/>
<circle cx="1237.8" cy="928.2" r="9.2" fill="#0000DC" fill-opacity="0.27"/>
<circle cx="1272.6" cy="615.5" r="9.2" fill="#DC0000" fill-opacity="0.27"/>
<circle cx="1053.6" cy="651.7" r="9.2" fill="#DC0000" fill-opacity="0.27"/>
<circle cx="1352.2" cy="790.0" r="9.2" fill="#DC0000" fill-opacity="0.27"/>
<circle cx="1252.7" cy="694.5" r="9.2" fill="#0000DC" fill-opacity="0.27"/>
<circle cx="1000.9" cy="787.2" r="9.2" fill="#DC0000" fill-opacity="0.27"/>
<circle cx="1350.5" cy="986.3" r="9.2" fill="#0000DC" fill-opacity="0.27"/>
<circle cx="1083.5" cy="712.1" r="9.2" fill="#DC0000" fill-opacity="0.27"/>
<circle cx="1058.6" cy="897.0" r="9.2" fill="#DC0000" fill-opacity="0.27"/>
<circle cx="1105.5" cy="713.6" r="9.2" fill="#DC0000" fill-opacity="0.27"/>
<circle cx="1254.2" cy="750.2" r="9.2" fill="#0000DC" fill-opacity="0.27"/>
<circle cx="919.3" cy="721.8" r="9.2" fill="#DC0000" fill-opacity="0.27"/>
<circle cx="1330.8" cy="597.2" r="9.2" fill="#0000DC" fill-opacity="0.27"/>
<circle cx="1197.9" cy="982.7" r="9.2" fill="#0000DC" fill-opacity="0.27"/>
<circle cx="1326.1" cy="946.9" r="9.2" fill="#0000DC" fill-opacity="0.27"/>
<circle cx="1005.5" cy="597.8" r="9.2" fill="#DC0000" fill-opacity="0.27"/>
<circle cx="1272.6" cy="764.6" r="9.2" fill="#0000DC" fill-opacity="0.27"/>
<circle cx="1230.2" cy="869.0" r="9.2" fill="#0000DC" fill-opacity="0.27"/>
<circle cx="1204.4" cy="985.3" r="9.2" fill="#0000DC" fill-opacity="0.27"/>
<circle cx="1277.6" cy="986.6" r="9.2" fill="#0000DC" fill-opacity="0.27"/>
<circle cx="1304.0" cy="869.7" r="9.2" fill="#0000DC" fill-opacity="0.27"/>
<circle cx="1277.6" cy="655.6" r="9.2" fill="#0000DC" fill-opacity="0.27"/>
<circle cx="909.3" cy="694.5" r="9.2" fill="#DC0000" fill-opacity="0.27"/>
<circle cx="1103.4" cy="733.5" r="9.2" fill="#DC0000" fill-opacity="0.27"/>
<circle cx="1228.3" cy="851.1" r="9.2" fill="#0000DC" fill-opacity="0.27"/>
<circle cx="1312.4" cy="791.9" r="9.2" fill="#0000DC" fill-opacity="0.27"/>
<circle cx="1332.3" cy="939.9" r="9.2" fill="#0000DC" fill-opacity="0.27"/>
<circle cx="1018.8" cy="732.3" r="9.2" fill="#DC0000" fill-opacity="0.27"/>
<circle cx="1102.4" cy="828.5" r="9.2" fill="#DC0000" fill-opacity="0.27"/>
<circle cx="1201.0" cy="929.1" r="9.2" fill="#0000DC" fill-opacity="0.27"/>
<circle cx="1226.3" cy="965.7" r="9.2" fill="#0000DC" fill-opacity="0.27"/>
<circle cx="1352.2" cy="947.7" r="9.2" fill="#0000DC" fill-opacity="0.27"/>
<circle cx="988.5" cy="647.0" r="9.2" fill="#DC0000" fill-opacity="0.27"/>
<circle cx="1307.4" cy="675.1" r="9.2" fill="#0000DC" fill-opacity="0.27"/>
<circle cx="1178.6" cy="948.4" r="9.2" fill="#0000DC" fill-opacity="0.27"/>
<circle cx="1207.9" cy="947.7" r="9.2" fill="#0000DC" fill-opacity="0.27"/>
<circle cx="1063.6" cy="643.9" r="9.2" fill="#DC0000" fill-opacity="0.27"/>
<circle cx="1207.9" cy="889.2" r="9.2" fill="#0000DC" fill-opacity="0.27"/>
<circle cx="1251.7" cy="689.9" r="9.2" fill="#DC0000" fill-opacity="0.27"/>
<circle cx="1232.8" cy="893.1" r="9.2" fill="#0000DC" fill-opacity="0.27"/>
<circle cx="1153.2" cy="830.8" r="9.2" fill="#DC0000" fill-opacity="0.27"/>
<circle cx="1153.2" cy="869.8" r="9.2" fill="#0000DC" fill-opacity="0.27"/>
<circle cx="1277.6" cy="830.8" r="9.2" fill="#0000DC" fill-opacity="0.27"/>
<circle cx="1202.0" cy="967.5" r="9.2" fill="#0000DC" fill-opacity="0.27"/>
<circle cx="1227.3" cy="946.0" r="9.2" fill="#0000DC" fill-opacity="0.27"/>
<circle cx="1287.5" cy="756.9" r="9.2" fill="#0000DC" fill-opacity="0.27"/>
<circle cx="1158.6" cy="675.1" r="9.2" fill="#0000DC" fill-opacity="0.27"/>
<circle cx="1000.9" cy="712.1" r="9.2" fill="#DC0000" fill-opacity="0.27"/>
<circle cx="1232.8" cy="714.0" r="9.2" fill="#0000DC" fill-opacity="0.27"/>
<circle cx="1277.1" cy="768.5" r="9.2" fill="#DC0000" fill-opacity="0.27"/>
<circle cx="1281.0" cy="790.0" r="9.2" fill="#0000DC" fill-opacity="0.27"/>
<circle cx="1300.9" cy="929.4" r="9.2" fill="#0000DC" fill-opacity="0.27"/>
<circle cx="1291.5" cy="985.7" r="9.2" fill="#0000DC" fill-opacity="0.27"/>
<circle cx="898.9" cy="709.0" r="9.2" fill="#DC0000" fill-opacity="0.27"/>
<circle cx="1277.6" cy="694.5" r="9.2" fill="#0000DC" fill-opacity="0.27"/>
<circle cx="1043.7" cy="725.7" r="9.2" fill="#DC0000" fill-opacity="0.27"/>
<circle cx="1178.0" cy="612.8" r="9.2" fill="#DC0000" fill-opacity="0.27"/>
<circle cx="1302.4" cy="986.6" r="9.2" fill="#0000DC" fill-opacity="0.27"/>
<circle cx="1299.8" cy="909.4" r="9.2" fill="#0000DC" fill-opacity="0.27"/>
<circle cx="1342.2" cy="976.9" r="9.2" fill="#0000DC" fill-opacity="0.27"/>
<circle cx="1327.3" cy="869.8" r="9.2" fill="#0000DC" fill-opacity="0.27"/>
<circle cx="1287.5" cy="889.2" r="9.2" fill="#0000DC" fill-opacity="0.27"/>
<circle cx="1193.0" cy="959.3" r="9.2" fill="#0000DC" fill-opacity="0.27"/>
<circle cx="1262.6" cy="791.9" r="9.2" fill="#0000DC" fill-opacity="0.27"/>
<circle cx="914.3" cy="772.4" r="9.2" fill="#DC0000" fill-opacity="0.27"/>
<circle cx="1155.5" cy="928.7" r="9.2" fill="#0000DC" fill-opacity="0.27"/>
<circle cx="1277.1" cy="752.6" r="9.2" fill="#DC0000" fill-opacity="0.27"/>
<circle cx="1103.4" cy="606.9" r="9.2" fill="#DC0000" fill-opacity="0.27"/>
<circle cx="1053.6" cy="673.5" r="9.2" fill="#DC0000" fill-opacity="0.27"/>
<circle cx="1173.1" cy="702.3" r="9.2" fill="#DC0000" fill-opacity="0.27"/>
<circle cx="1351.7" cy="656.8" r="9.2" fill="#0000DC" fill-opacity="0.27"/>
<circle cx="1202.9" cy="967.1" r="9.2" fill="#0000DC" fill-opacity="0.27"/>
<circle cx="946.7" cy="786.2" r="9.2" fill="#DC0000" fill-opacity="0.27"/>
<circle cx="1033.2" cy="826.6" r="9.2" fill="#DC0000" fill-opacity="0.27"/>
<circle cx="1139.7" cy="597.2" r="9.2" fill="#DC0000" fill-opacity="0.27"/>
<circle cx="1128.9" cy="987.9" r="9.2" fill="#0000DC" fill-opacity="0.27"/>
<circle cx="1252.2" cy="889.4" r="9.2" fill="#0000DC" fill-opacity="0.27"/>
<circle cx="1173.1" cy="974.9" r="9.2" fill="#0000DC" fill-opacity="0.27"/>
<circle cx="1327.3" cy="702.3" r="9.2" fill="#0000DC" fill-opacity="0.27"/>
<circle cx="1255.5" cy="926.8" r="9.2" fill="#0000DC" fill-opacity="0.27"/>
<circle cx="1212.9" cy="889.2" r="9.2" fill="#0000DC" fill-opacity="0.27"/>
<circle cx="1352.2" cy="889.2" r="9.2" fill="#0000DC" fill-opacity="0.27"/>
<circle cx="1299.5" cy="681.7" r="9.2" fill="#DC0000" fill-opacity="0.27"/>
<circle cx="1337.3" cy="893.1" r="9.2" fill="#0000DC" fill-opacity="0.27"/>
<circle cx="1222.8" cy="976.9" r="9.2" fill="#0000DC" fill-opacity="0.27"/>
<circle cx="1274.5" cy="769.7" r="9.2" fill="#DC0000" fill-opacity="0.27"/>
<circle cx="1173.1" cy="978.8" r="9.2" fill="#0000DC" fill-opacity="0.27"/>
<circle cx="954.1" cy="811.4" r="9.2" fill="#DC0000" fill-opacity="0.27"/>
<circle cx="1302.4" cy="986.6" r="9.2" fill="#0000DC" fill-opacity="0.27"/>
<circle cx="1280.2" cy="870.3" r="9.2" fill="#0000DC" fill-opacity="0.27"/>
<circle cx="1150.4" cy="868.3" r="9.2" fill="#0000DC" fill-opacity="0.27"/>
<circle cx="1300.0" cy="985.6" r="9.2" fill="#0000DC" fill-opacity="0.27"/>
<circle cx="909.3" cy="749.1" r="9.2" fill="#DC0000" fill-opacity="0.27"/>
<circle cx="1232.8" cy="682.9" r="9.2" fill="#DC0000" fill-opacity="0.27"/>
<circle cx="1256.2" cy="621.7" r="9.2" fill="#DC0000" fill-opacity="0.27"/>
<circle cx="1218.8" cy="644.3" r="9.2" fill="#DC0000" fill-opacity="0.27"/>
<circle cx="1103.4" cy="753.0" r="9.2" fill="#DC0000" fill-opacity="0.27"/>
<circle cx="1352.2" cy="908.7" r="9.2" fill="#0000DC" fill-opacity="0.27"/>
<circle cx="1252.7" cy="791.9" r="9.2" fill="#0000DC" fill-opacity="0.27"/>
<circle cx="1342.2" cy="620.6" r="9.2" fill="#0000DC" fill-opacity="0.27"/>
<circle cx="1342.2" cy="663.4" r="9.2" fill="#DC0000" fill-opacity="0.27"/>
<circle cx="1252.9" cy="985.8" r="9.2" fill="#0000DC" fill-opacity="0.27"/>
<circle cx="1227.7" cy="966.0" r="9.2" fill="#0000DC" fill-opacity="0.27"/>
<circle cx="1173.1" cy="760.7" r="9.2" fill="#0000DC" fill-opacity="0.27"/>
<circle cx="1130.3" cy="889.0" r="9.2" fill="#0000DC" fill-opacity="0.27"/>
<circle cx="1153.2" cy="967.1" r="9.2" fill="#0000DC" fill-opacity="0.27"/>
<circle cx="1262.6" cy="976.9" r="9.2" fill="#0000DC" fill-opacity="0.27"/>
<circle cx="1327.3" cy="850.3" r="9.2" fill="#0000DC" fill-opacity="0.27"/>
<circle cx="1292.5" cy="858.1" r="9.2" fill="#DC0000" fill-opacity="0.27"/>
<circle cx="1103.4" cy="743.2" r="9.2" fill="#DC0000" fill-opacity="0.27"/>
<circle cx="1103.4" cy="675.1" r="9.2" fill="#DC0000" fill-opacity="0.27"/>
<circle cx="1325.4" cy="870.7" r="9.2" fill="#0000DC" fill-opacity="0.27"/>
<circle cx="1326.8" cy="628.0" r="9.2" fill="#DC0000" fill-opacity="0.27"/>
<circle cx="1127.3" cy="673.5" r="9.2" fill="#DC0000" fill-opacity="0.27"/>
<circle cx="1258.0" cy="620.1" r="9.2" fill="#DC0000" fill-opacity="0.27"/>
<circle cx="1254.3" cy="910.7" r="9.2" fill="#0000DC" fill-opacity="0.27"/>
<circle cx="903.4" cy="829.7" r="9.2" fill="#DC0000" fill-opacity="0.27"/>
<circle cx="1133.3" cy="976.9" r="9.2" fill="#0000DC" fill-opacity="0.27"/>
<circle cx="1143.2" cy="936.0" r="9.2" fill="#0000DC" fill-opacity="0.27"/>
<circle cx="949.6" cy="787.2" r="9.2" fill="#DC0000" fill-opacity="0.27"/>
<circle cx="1053.6" cy="950.8" r="9.2" fill="#DC0000" fill-opacity="0.27"/>
<circle cx="1103.4" cy="733.5" r="9.2" fill="#0000DC" fill-opacity="0.27"/>
<circle cx="1253.7" cy="791.7" r="9.2" fill="#0000DC" fill-opacity="0.27"/>
<circle cx="1055.8" cy="712.1" r="9.2" fill="#DC0000" fill-opacity="0.27"/>
<circle cx="1301.9" cy="790.0" r="9.2" fill="#0000DC" fill-opacity="0.27"/>
<circle cx="1183.0" cy="986.6" r="9.2" fill="#0000DC" fill-opacity="0.27"/>
<circle cx="1138.2" cy="785.7" r="9.2" fill="#DC0000" fill-opacity="0.27"/>
<circle cx="1277.6" cy="605.0" r="9.2" fill="#DC0000" fill-opacity="0.27"/>
<circle cx="1102.3" cy="712.6" r="9.2" fill="#DC0000" fill-opacity="0.27"/>
<circle cx="1276.1" cy="908.9" r="9.2" fill="#0000DC" fill-opacity="0.27"/>
<circle cx="1352.2" cy="869.8" r="9.2" fill="#DC0000" fill-opacity="0.27"/>
<circle cx="1153.2" cy="694.5" r="9.2" fill="#DC0000" fill-opacity="0.27"/>
<circle cx="1354.3" cy="946.1" r="9.2" fill="#0000DC" fill-opacity="0.27"/>
<circle cx="1278.5" cy="926.7" r="9.2" fill="#0000DC" fill-opacity="0.27"/>
<circle cx="902.2" cy="829.8" r="9.2" fill="#DC0000" fill-opacity="0.27"/>
<circle cx="1347.2" cy="731.5" r="9.2" fill="#0000DC" fill-opacity="0.27"/>
<circle cx="1038.7" cy="897.0" r="9.2" fill="#DC0000" fill-opacity="0.27"/>
<circle cx="1163.1" cy="967.1" r="9.2" fill="#0000DC" fill-opacity="0.27"/>
<circle cx="1104.4" cy="987.9" r="9.2" fill="#0000DC" fill-opacity="0.27"/>
<circle cx="1217.8" cy="908.7" r="9.2" fill="#0000DC" fill-opacity="0.27"/>
<circle cx="1337.3" cy="967.1" r="9.2" fill="#0000DC" fill-opacity="0.27"/>
<circle cx="1352.2" cy="928.2" r="9.2" fill="#0000DC" fill-opacity="0.27"/>
<circle cx="1302.4" cy="850.3" r="9.2" fill="#0000DC" fill-opacity="0.27"/>
<circle cx="1292.5" cy="986.6" r="9.2" fill="#0000DC" fill-opacity="0.27"/>
<circle cx="1302.4" cy="628.4" r="9.2" fill="#DC0000" fill-opacity="0.27"/>
<circle cx="1230.4" cy="694.8" r="9.2" fill="#0000DC" fill-opacity="0.27"/>
<circle cx="901.4" cy="967.1" r="9.2" fill="#DC0000" fill-opacity="0.27"/>
<circle cx="1242.7" cy="640.0" r="9.2" fill="#DC0000" fill-opacity="0.27"/>
<circle cx="1179.9" cy="987.6" r="9.2" fill="#0000DC" fill-opacity="0.27"/>
<circle cx="1193.0" cy="986.6" r="9.2" fill="#0000DC" fill-opacity="0.27"/>
<circle cx="914.3" cy="597.2" r="9.2" fill="#DC0000" fill-opacity="0.27"/>
<circle cx="864.6" cy="597.2" r="9.2" fill="#DC0000" fill-opacity="0.27"/>
<circle cx="1293.5" cy="744.0" r="9.2" fill="#0000DC" fill-opacity="0.27"/>
<circle cx="1312.4" cy="986.6" r="9.2" fill="#0000DC" fill-opacity="0.27"/>
<circle cx="1226.9" cy="968.3" r="9.2" fill="#0000DC" fill-opacity="0.27"/>
<circle cx="1133.3" cy="967.1" r="9.2" fill="#0000DC" fill-opacity="0.27"/>
<circle cx="1104.6" cy="715.4" r="9.2" fill="#DC0000" fill-opacity="0.27"/>
<circle cx="1312.4" cy="976.9" r="9.2" fill="#0000DC" fill-opacity="0.27"/>
<circle cx="1285.0" cy="642.4" r="9.2" fill="#0000DC" fill-opacity="0.27"/>
<circle cx="1193.0" cy="791.9" r="9.2" fill="#0000DC" fill-opacity="0.27"/>
<circle cx="1053.6" cy="986.6" r="9.2" fill="#0000DC" fill-opacity="0.27"/>
<circle cx="1202.9" cy="608.9" r="9.2" fill="#DC0000" fill-opacity="0.27"/>
<circle cx="1105.6" cy="984.8" r="9.2" fill="#0000DC" fill-opacity="0.27"/>
<circle cx="1103.4" cy="655.6" r="9.2" fill="#DC0000" fill-opacity="0.27"/>
<circle cx="1101.8" cy="696.2" r="9.2" fill="#DC0000" fill-opacity="0.27"/>
<circle cx="1202.9" cy="889.2" r="9.2" fill="#0000DC" fill-opacity="0.27"/>
<circle cx="1328.5" cy="926.4" r="9.2" fill="#0000DC" fill-opacity="0.27"/>
<circle cx="1337.3" cy="893.1" r="9.2" fill="#0000DC" fill-opacity="0.27"/>
<circle cx="1251.7" cy="677.4" r="9.2" fill="#0000DC" fill-opacity="0.27"/>
<circle cx="1133.3" cy="986.6" r="9.2" fill="#0000DC" fill-opacity="0.27"/>
<circle cx="1002.9" cy="597.6" r="9.2" fill="#DC0000" fill-opacity="0.27"/>
<circle cx="1152.9" cy="947.6" r="9.2" fill="#0000DC" fill-opacity="0.27"/>
<circle cx="901.1" cy="968.3" r="9.2" fill="#DC0000" fill-opacity="0.27"/>
<circle cx="1337.3" cy="986.6" r="9.2" fill="#0000DC" fill-opacity="0.27"/>
<circle cx="1041.2" cy="764.6" r="9.2" fill="#DC0000" fill-opacity="0.27"/>
<circle cx="1297.5" cy="717.9" r="9.2" fill="#0000DC" fill-opacity="0.27"/>
<circle cx="1104.2" cy="967.9" r="9.2" fill="#0000DC" fill-opacity="0.27"/>
<circle cx="1225.8" cy="985.5" r="9.2" fill="#0000DC" fill-opacity="0.27"/>
<circle cx="984.0" cy="608.9" r="9.2" fill="#DC0000" fill-opacity="0.27"/>
<circle cx="1352.2" cy="675.1" r="9.2" fill="#0000DC" fill-opacity="0.27"/>
<circle cx="1302.4" cy="869.8" r="9.2" fill="#0000DC" fill-opacity="0.27"/>
<circle cx="1063.6" cy="828.5" r="9.2" fill="#0000DC" fill-opacity="0.27"/>
<circle cx="1001.9" cy="948.8" r="9.2" fill="#DC0000" fill-opacity="0.27"/>
<circle cx="1228.8" cy="947.6" r="9.2" fill="#0000DC" fill-opacity="0.27"/>
<circle cx="903.4" cy="751.8" r="9.2" fill="#DC0000" fill-opacity="0.27"/>
<circle cx="1202.4" cy="967.5" r="9.2" fill="#0000DC" fill-opacity="0.27"/>
<circle cx="1277.6" cy="694.5" r="9.2" fill="#0000DC" fill-opacity="0.27"/>
<circle cx="1002.9" cy="907.9" r="9.2" fill="#DC0000" fill-opacity="0.27"/>
<circle cx="1254.2" cy="727.3" r="9.2" fill="#DC0000" fill-opacity="0.27"/>
<circle cx="1073.5" cy="683.6" r="9.2" fill="#DC0000" fill-opacity="0.27"/>
<circle cx="1307.9" cy="710.9" r="9.2" fill="#0000DC" fill-opacity="0.27"/>
<circle cx="1103.4" cy="967.6" r="9.2" fill="#0000DC" fill-opacity="0.27"/>
<circle cx="1232.8" cy="612.8" r="9.2" fill="#DC0000" fill-opacity="0.27"/>
<circle cx="1256.2" cy="597.2" r="9.2" fill="#DC0000" fill-opacity="0.27"/>
<circle cx="1227.8" cy="675.1" r="9.2" fill="#0000DC" fill-opacity="0.27"/>
<circle cx="1262.6" cy="916.5" r="9.2" fill="#0000DC" fill-opacity="0.27"/>
<circle cx="1127.0" cy="910.4" r="9.2" fill="#0000DC" fill-opacity="0.27"/>
<circle cx="1252.7" cy="790.0" r="9.2" fill="#0000DC" fill-opacity="0.27"/>
<circle cx="1148.2" cy="881.5" r="9.2" fill="#0000DC" fill-opacity="0.27"/>
<circle cx="1183.9" cy="985.4" r="9.2" fill="#0000DC" fill-opacity="0.27"/>
<circle cx="1227.8" cy="830.8" r="9.2" fill="#DC0000" fill-opacity="0.27"/>
<circle cx="1204.9" cy="850.5" r="9.2" fill="#0000DC" fill-opacity="0.27"/>
<circle cx="1262.6" cy="986.6" r="9.2" fill="#0000DC" fill-opacity="0.27"/>
<circle cx="1232.8" cy="976.9" r="9.2" fill="#0000DC" fill-opacity="0.27"/>
<circle cx="1027.3" cy="663.4" r="9.2" fill="#DC0000" fill-opacity="0.27"/>
<circle cx="951.6" cy="597.2" r="9.2" fill="#DC0000" fill-opacity="0.27"/>
<circle cx="1103.9" cy="985.0" r="9.2" fill="#0000DC" fill-opacity="0.27"/>
<circle cx="1350.6" cy="888.4" r="9.2" fill="#0000DC" fill-opacity="0.27"/>
<circle cx="1113.4" cy="640.0" r="9.2" fill="#DC0000" fill-opacity="0.27"/>
<circle cx="1104.8" cy="792.5" r="9.2" fill="#DC0000" fill-opacity="0.27"/>
<circle cx="1063.6" cy="721.8" r="9.2" fill="#DC0000" fill-opacity="0.27"/>
<circle cx="923.3" cy="736.6" r="9.2" fill="#DC0000" fill-opacity="0.27"/>
<circle cx="1183.0" cy="967.1" r="9.2" fill="#0000DC" fill-opacity="0.27"/>
<circle cx="1227.8" cy="753.0" r="9.2" fill="#0000DC" fill-opacity="0.27"/>
<circle cx="1143.2" cy="976.9" r="9.2" fill="#0000DC" fill-opacity="0.27"/>
<circle cx="1105.9" cy="752.1" r="9.2" fill="#DC0000" fill-opacity="0.27"/>
<circle cx="1322.3" cy="947.7" r="9.2" fill="#0000DC" fill-opacity="0.27"/>
<circle cx="1053.6" cy="828.5" r="9.2" fill="#DC0000" fill-opacity="0.27"/>
<circle cx="1145.6" cy="988.2" r="9.2" fill="#0000DC" fill-opacity="0.27"/>
<circle cx="1103.4" cy="762.7" r="9.2" fill="#DC0000" fill-opacity="0.27"/>
<circle cx="1347.2" cy="920.4" r="9.2" fill="#0000DC" fill-opacity="0.27"/>
<circle cx="1103.4" cy="714.0" r="9.2" fill="#DC0000" fill-opacity="0.27"/>
<circle cx="904.4" cy="597.2" r="9.2" fill="#DC0000" fill-opacity="0.27"/>
<circle cx="979.0" cy="597.2" r="9.2" fill="#DC0000" fill-opacity="0.27"/>
<circle cx="1277.1" cy="868.3" r="9.2" fill="#0000DC" fill-opacity="0.27"/>
<circle cx="1103.4" cy="616.7" r="9.2" fill="#DC0000" fill-opacity="0.27"/>
<circle cx="1078.5" cy="838.6" r="9.2" fill="#DC0000" fill-opacity="0.27"/>
<circle cx="1183.0" cy="986.6" r="9.2" fill="#0000DC" fill-opacity="0.27"/>
<circle cx="881.0" cy="730.4" r="9.2" fill="#DC0000" fill-opacity="0.27"/>
<circle cx="1163.1" cy="976.9" r="9.2" fill="#0000DC" fill-opacity="0.27"/>
<circle cx="1309.9" cy="632.2" r="9.2" fill="#DC0000" fill-opacity="0.27"/>
<circle cx="884.5" cy="959.3" r="9.2" fill="#DC0000" fill-opacity="0.27"/>
<circle cx="1227.8" cy="733.5" r="9.2" fill="#0000DC" fill-opacity="0.27"/>
<circle cx="1103.4" cy="723.8" r="9.2" fill="#DC0000" fill-opacity="0.27"/>
<circle cx="1253.5" cy="986.1" r="9.2" fill="#0000DC" fill-opacity="0.27"/>
<circle cx="1103.4" cy="753.0" r="9.2" fill="#DC0000" fill-opacity="0.27"/>
<circle cx="1197.9" cy="916.5" r="9.2" fill="#0000DC" fill-opacity="0.27"/>
<circle cx="1207.9" cy="928.2" r="9.2" fill="#0000DC" fill-opacity="0.27"/>
<circle cx="1183.0" cy="976.9" r="9.2" fill="#0000DC" fill-opacity="0.27"/>
<circle cx="1287.5" cy="659.5" r="9.2" fill="#0000DC" fill-opacity="0.27"/>
<circle cx="1202.9" cy="986.6" r="9.2" fill="#0000DC" fill-opacity="0.27"/>
<circle cx="1193.0" cy="967.1" r="9.2" fill="#0000DC" fill-opacity="0.27"/>
<circle cx="1153.2" cy="986.6" r="9.2" fill="#0000DC" fill-opacity="0.27"/>
<circle cx="1001.9" cy="787.3" r="9.2" fill="#DC0000" fill-opacity="0.27"/>
<circle cx="1303.5" cy="986.5" r="9.2" fill="#0000DC" fill-opacity="0.27"/>
<circle cx="1277.6" cy="791.9" r="9.2" fill="#0000DC" fill-opacity="0.27"/>
<circle cx="1043.2" cy="922.3" r="9.2" fill="#DC0000" fill-opacity="0.27"/>
<circle cx="1063.6" cy="640.0" r="9.2" fill="#DC0000" fill-opacity="0.27"/>
<circle cx="1173.1" cy="986.6" r="9.2" fill="#0000DC" fill-opacity="0.27"/>
<circle cx="1002.9" cy="691.8" r="9.2" fill="#DC0000" fill-opacity="0.27"/>
<circle cx="1129.6" cy="870.9" r="9.2" fill="#0000DC" fill-opacity="0.27"/>
<circle cx="1252.7" cy="967.1" r="9.2" fill="#0000DC" fill-opacity="0.27"/>
<circle cx="1128.3" cy="749.1" r="9.2" fill="#0000DC" fill-opacity="0.27"/>
<circle cx="1078.0" cy="673.5" r="9.2" fill="#0000DC" fill-opacity="0.27"/>
<circle cx="1302.4" cy="749.1" r="9.2" fill="#0000DC" fill-opacity="0.27"/>
<circle cx="1088.5" cy="710.1" r="9.2" fill="#DC0000" fill-opacity="0.27"/>
<circle cx="1178.0" cy="768.5" r="9.2" fill="#0000DC" fill-opacity="0.27"/>
<circle cx="1277.1" cy="698.4" r="9.2" fill="#0000DC" fill-opacity="0.27"/>
<circle cx="1281.0" cy="669.2" r="9.2" fill="#DC0000" fill-opacity="0.27"/>
<circle cx="1197.9" cy="694.5" r="9.2" fill="#DC0000" fill-opacity="0.27"/>
<circle cx="1351.8" cy="986.7" r="9.2" fill="#0000DC" fill-opacity="0.27"/>
<circle cx="1158.6" cy="675.1" r="9.2" fill="#DC0000" fill-opacity="0.27"/>
<circle cx="1303.9" cy="907.0" r="9.2" fill="#0000DC" fill-opacity="0.27"/>
<circle cx="1103.4" cy="782.2" r="9.2" fill="#DC0000" fill-opacity="0.27"/>
<circle cx="1205.2" cy="870.0" r="9.2" fill="#0000DC" fill-opacity="0.27"/>
<circle cx="1082.0" cy="614.7" r="9.2" fill="#DC0000" fill-opacity="0.27"/>
<circle cx="1267.6" cy="986.6" r="9.2" fill="#0000DC" fill-opacity="0.27"/>
<circle cx="1297.5" cy="619.4" r="9.2" fill="#DC0000" fill-opacity="0.27"/>
<circle cx="1252.7" cy="811.4" r="9.2" fill="#0000DC" fill-opacity="0.27"/>
<circle cx="1262.6" cy="710.1" r="9.2" fill="#0000DC" fill-opacity="0.27"/>
<circle cx="1352.0" cy="890.3" r="9.2" fill="#0000DC" fill-opacity="0.27"/>
<circle cx="1279.9" cy="888.1" r="9.2" fill="#0000DC" fill-opacity="0.27"/>
<circle cx="1163.1" cy="982.7" r="9.2" fill="#0000DC" fill-opacity="0.27"/>
<circle cx="1302.1" cy="985.7" r="9.2" fill="#0000DC" fill-opacity="0.27"/>
<circle cx="879.5" cy="597.2" r="9.2" fill="#DC0000" fill-opacity="0.27"/>
<circle cx="1227.8" cy="869.8" r="9.2" fill="#0000DC" fill-opacity="0.27"/>
<circle cx="1171.8" cy="985.9" r="9.2" fill="#0000DC" fill-opacity="0.27"/>
<circle cx="903.4" cy="810.6" r="9.2" fill="#DC0000" fill-opacity="0.27"/>
<circle cx="1025.3" cy="897.0" r="9.2" fill="#DC0000" fill-opacity="0.27"/>
<circle cx="1001.7" cy="710.2" r="9.2" fill="#DC0000" fill-opacity="0.27"/>
<circle cx="1153.2" cy="706.2" r="9.2" fill="#0000DC" fill-opacity="0.27"/>
<circle cx="1329.7" cy="985.8" r="9.2" fill="#0000DC" fill-opacity="0.27"/>
<circle cx="1123.3" cy="978.8" r="9.2" fill="#0000DC" fill-opacity="0.27"/>
<circle cx="1113.4" cy="986.6" r="9.2" fill="#0000DC" fill-opacity="0.27"/>
<circle cx="1103.4" cy="791.9" r="9.2" fill="#0000DC" fill-opacity="0.27"/>
<circle cx="1352.2" cy="597.2" r="9.2" fill="#DC0000" fill-opacity="0.27"/>
<circle cx="1266.6" cy="669.2" r="9.2" fill="#0000DC" fill-opacity="0.27"/>
<circle cx="1302.4" cy="967.1" r="9.2" fill="#0000DC" fill-opacity="0.27"/>
<circle cx="1101.0" cy="598.7" r="9.2" fill="#DC0000" fill-opacity="0.27"/>
<circle cx="874.5" cy="597.2" r="9.2" fill="#DC0000" fill-opacity="0.27"/>
<circle cx="864.6" cy="690.7" r="9.2" fill="#DC0000" fill-opacity="0.27"/>
<circle cx="1327.3" cy="702.3" r="9.2" fill="#0000DC" fill-opacity="0.27"/>
<circle cx="1104.7" cy="907.1" r="9.2" fill="#0000DC" fill-opacity="0.27"/>
<circle cx="1188.0" cy="881.5" r="9.2" fill="#0000DC" fill-opacity="0.27"/>
<circle cx="1306.5" cy="598.6" r="9.2" fill="#DC0000" fill-opacity="0.27"/>
<circle cx="1213.1" cy="988.1" r="9.2" fill="#0000DC" fill-opacity="0.27"/>
<circle cx="1101.2" cy="968.2" r="9.2" fill="#0000DC" fill-opacity="0.27"/>
<circle cx="1196.0" cy="686.0" r="9.2" fill="#0000DC" fill-opacity="0.27"/>
<circle cx="1292.5" cy="698.4" r="9.2" fill="#0000DC" fill-opacity="0.27"/>
<circle cx="1113.6" cy="988.1" r="9.2" fill="#0000DC" fill-opacity="0.27"/>
<circle cx="1037.2" cy="838.6" r="9.2" fill="#DC0000" fill-opacity="0.27"/>
<circle cx="1153.2" cy="928.2" r="9.2" fill="#0000DC" fill-opacity="0.27"/>
<circle cx="1351.7" cy="642.4" r="9.2" fill="#0000DC" fill-opacity="0.27"/>
<circle cx="1025.3" cy="897.0" r="9.2" fill="#0000DC" fill-opacity="0.27"/>
<circle cx="1103.9" cy="828.9" r="9.2" fill="#DC0000" fill-opacity="0.27"/>
<circle cx="1102.4" cy="946.5" r="9.2" fill="#0000DC" fill-opacity="0.27"/>
<circle cx="1178.5" cy="966.2" r="9.2" fill="#0000DC" fill-opacity="0.27"/>
<circle cx="879.5" cy="672.4" r="9.2" fill="#DC0000" fill-opacity="0.27"/>
<circle cx="1153.2" cy="976.9" r="9.2" fill="#0000DC" fill-opacity="0.27"/>
<circle cx="1352.2" cy="811.4" r="9.2" fill="#0000DC" fill-opacity="0.27"/>
<circle cx="1229.8" cy="731.7" r="9.2" fill="#0000DC" fill-opacity="0.27"/>
<circle cx="1202.9" cy="643.9" r="9.2" fill="#DC0000" fill-opacity="0.27"/>
<circle cx="1073.5" cy="834.7" r="9.2" fill="#DC0000" fill-opacity="0.27"/>
<circle cx="1230.2" cy="889.0" r="9.2" fill="#0000DC" fill-opacity="0.27"/>
<circle cx="1252.7" cy="967.1" r="9.2" fill="#DC0000" fill-opacity="0.27"/>
<circle cx="1326.8" cy="790.0" r="9.2" fill="#DC0000" fill-opacity="0.27"/>
<circle cx="1053.6" cy="865.5" r="9.2" fill="#DC0000" fill-opacity="0.27"/>
<circle cx="1183.0" cy="928.2" r="9.2" fill="#0000DC" fill-opacity="0.27"/>
<circle cx="859.6" cy="741.3" r="9.2" fill="#DC0000" fill-opacity="0.27"/>
<circle cx="854.6" cy="986.6" r="9.2" fill="#DC0000" fill-opacity="0.27"/>
<circle cx="1322.3" cy="986.6" r="9.2" fill="#0000DC" fill-opacity="0.27"/>
<circle cx="1229.7" cy="988.5" r="9.2" fill="#0000DC" fill-opacity="0.27"/>
<circle cx="1252.7" cy="790.0" r="9.2" fill="#DC0000" fill-opacity="0.27"/>
<circle cx="1232.8" cy="967.1" r="9.2" fill="#0000DC" fill-opacity="0.27"/>
<circle cx="907.3" cy="930.5" r="9.2" fill="#DC0000" fill-opacity="0.27"/>
<circle cx="1277.6" cy="811.4" r="9.2" fill="#DC0000" fill-opacity="0.27"/>
<circle cx="1350.3" cy="946.9" r="9.2" fill="#0000DC" fill-opacity="0.27"/>
<circle cx="1279.3" cy="927.5" r="9.2" fill="#0000DC" fill-opacity="0.27"/>
<circle cx="1103.4" cy="655.6" r="9.2" fill="#DC0000" fill-opacity="0.27"/>
<circle cx="1103.4" cy="597.2" r="9.2" fill="#DC0000" fill-opacity="0.27"/>
<circle cx="1252.7" cy="986.6" r="9.2" fill="#0000DC" fill-opacity="0.27"/>
<circle cx="1069.6" cy="810.6" r="9.2" fill="#DC0000" fill-opacity="0.27"/>
<circle cx="1125.0" cy="675.3" r="9.2" fill="#DC0000" fill-opacity="0.27"/>
<circle cx="1152.7" cy="966.3" r="9.2" fill="#0000DC" fill-opacity="0.27"/>
<circle cx="1148.2" cy="850.3" r="9.2" fill="#0000DC" fill-opacity="0.27"/>
<circle cx="1138.2" cy="974.9" r="9.2" fill="#0000DC" fill-opacity="0.27"/>
<circle cx="1352.2" cy="986.6" r="9.2" fill="#0000DC" fill-opacity="0.27"/>
<circle cx="1143.2" cy="620.6" r="9.2" fill="#DC0000" fill-opacity="0.27"/>
<circle cx="1228.6" cy="985.2" r="9.2" fill="#0000DC" fill-opacity="0.27"/>
<circle cx="1302.4" cy="889.2" r="9.2" fill="#0000DC" fill-opacity="0.27"/>
<circle cx="1205.4" cy="968.5" r="9.2" fill="#0000DC" fill-opacity="0.27"/>
<circle cx="1151.6" cy="967.9" r="9.2" fill="#0000DC" fill-opacity="0.27"/>
<circle cx="1272.6" cy="967.1" r="9.2" fill="#0000DC" fill-opacity="0.27"/>
<circle cx="1179.7" cy="969.0" r="9.2" fill="#0000DC" fill-opacity="0.27"/>
<circle cx="1118.3" cy="842.5" r="9.2" fill="#DC0000" fill-opacity="0.27"/>
<circle cx="1203.9" cy="986.5" r="9.2" fill="#0000DC" fill-opacity="0.27"/>
<circle cx="889.4" cy="597.2" r="9.2" fill="#DC0000" fill-opacity="0.27"/>
<circle cx="1183.0" cy="694.5" r="9.2" fill="#0000DC" fill-opacity="0.27"/>
<circle cx="1168.1" cy="936.0" r="9.2" fill="#0000DC" fill-opacity="0.27"/>
<circle cx="1122.0" cy="986.0" r="9.2" fill="#0000DC" fill-opacity="0.27"/>
<circle cx="1153.2" cy="612.8" r="9.2" fill="#DC0000" fill-opacity="0.27"/>
<circle cx="1225.0" cy="832.4" r="9.2" fill="#DC0000" fill-opacity="0.27"/>
<circle cx="1168.1" cy="823.1" r="9.2" fill="#0000DC" fill-opacity="0.27"/>
<circle cx="1103.4" cy="616.7" r="9.2" fill="#DC0000" fill-opacity="0.27"/>
<circle cx="1227.8" cy="986.6" r="9.2" fill="#0000DC" fill-opacity="0.27"/>
<circle cx="1275.3" cy="985.3" r="9.2" fill="#0000DC" fill-opacity="0.27"/>
<circle cx="1178.0" cy="811.4" r="9.2" fill="#DC0000" fill-opacity="0.27"/>
<circle cx="969.0" cy="679.0" r="9.2" fill="#DC0000" fill-opacity="0.27"/>
<circle cx="1178.0" cy="967.1" r="9.2" fill="#0000DC" fill-opacity="0.27"/>
<circle cx="1279.3" cy="988.4" r="9.2" fill="#0000DC" fill-opacity="0.27"/>
<circle cx="1083.5" cy="803.6" r="9.2" fill="#DC0000" fill-opacity="0.27"/>
<circle cx="1108.4" cy="850.3" r="9.2" fill="#0000DC" fill-opacity="0.27"/>
<circle cx="1252.7" cy="869.8" r="9.2" fill="#DC0000" fill-opacity="0.27"/>
<circle cx="1128.3" cy="753.0" r="9.2" fill="#0000DC" fill-opacity="0.27"/>
<circle cx="1307.4" cy="737.4" r="9.2" fill="#DC0000" fill-opacity="0.27"/>
<circle cx="1278.6" cy="985.3" r="9.2" fill="#0000DC" fill-opacity="0.27"/>
<circle cx="866.5" cy="669.6" r="9.2" fill="#DC0000" fill-opacity="0.27"/>
<circle cx="1222.8" cy="854.2" r="9.2" fill="#0000DC" fill-opacity="0.27"/>
<circle cx="1287.5" cy="772.4" r="9.2" fill="#0000DC" fill-opacity="0.27"/>
<circle cx="1153.2" cy="737.4" r="9.2" fill="#0000DC" fill-opacity="0.27"/>
<circle cx="1143.7" cy="661.1" r="9.2" fill="#DC0000" fill-opacity="0.27"/>
<circle cx="1227.8" cy="850.3" r="9.2" fill="#0000DC" fill-opacity="0.27"/>
<circle cx="1152.0" cy="906.9" r="9.2" fill="#0000DC" fill-opacity="0.27"/>
<circle cx="1281.0" cy="597.2" r="9.2" fill="#0000DC" fill-opacity="0.27"/>
<circle cx="1204.4" cy="694.5" r="9.2" fill="#0000DC" fill-opacity="0.27"/>
<circle cx="1178.0" cy="655.6" r="9.2" fill="#0000DC" fill-opacity="0.27"/>
<circle cx="1262.6" cy="986.6" r="9.2" fill="#0000DC" fill-opacity="0.27"/>
<circle cx="1327.1" cy="985.3" r="9.2" fill="#0000DC" fill-opacity="0.27"/>
<circle cx="934.2" cy="838.6" r="9.2" fill="#DC0000" fill-opacity="0.27"/>
<circle cx="1168.1" cy="869.8" r="9.2" fill="#0000DC" fill-opacity="0.27"/>
<circle cx="1103.4" cy="947.7" r="9.2" fill="#DC0000" fill-opacity="0.27"/>
<circle cx="1242.7" cy="976.9" r="9.2" fill="#0000DC" fill-opacity="0.27"/>
<circle cx="1133.3" cy="963.2" r="9.2" fill="#0000DC" fill-opacity="0.27"/>
<circle cx="1274.7" cy="985.3" r="9.2" fill="#0000DC" fill-opacity="0.27"/>
<circle cx="1202.9" cy="772.4" r="9.2" fill="#0000DC" fill-opacity="0.27"/>
<circle cx="1153.2" cy="597.2" r="9.2" fill="#DC0000" fill-opacity="0.27"/>
<circle cx="1143.2" cy="967.1" r="9.2" fill="#0000DC" fill-opacity="0.27"/>
<circle cx="1152.2" cy="710.9" r="9.2" fill="#DC0000" fill-opacity="0.27"/>
<circle cx="1227.8" cy="655.6" r="9.2" fill="#DC0000" fill-opacity="0.27"/>
<circle cx="1274.6" cy="949.0" r="9.2" fill="#0000DC" fill-opacity="0.27"/>
<circle cx="998.9" cy="747.9" r="9.2" fill="#DC0000" fill-opacity="0.27"/>
<circle cx="1203.1" cy="909.9" r="9.2" fill="#0000DC" fill-opacity="0.27"/>
<circle cx="1013.8" cy="838.6" r="9.2" fill="#DC0000" fill-opacity="0.27"/>
<circle cx="1128.3" cy="597.2" r="9.2" fill="#DC0000" fill-opacity="0.27"/>
<circle cx="853.2" cy="597.7" r="9.2" fill="#DC0000" fill-opacity="0.27"/>
<circle cx="1297.5" cy="694.5" r="9.2" fill="#0000DC" fill-opacity="0.27"/>
<circle cx="1222.8" cy="799.7" r="9.2" fill="#0000DC" fill-opacity="0.27"/>
<circle cx="1128.3" cy="908.7" r="9.2" fill="#0000DC" fill-opacity="0.27"/>
<circle cx="1053.9" cy="596.1" r="9.2" fill="#DC0000" fill-opacity="0.27"/>
<circle cx="1163.1" cy="986.6" r="9.2" fill="#0000DC" fill-opacity="0.27"/>
<circle cx="1322.3" cy="904.8" r="9.2" fill="#0000DC" fill-opacity="0.27"/>
<circle cx="1227.8" cy="889.2" r="9.2" fill="#0000DC" fill-opacity="0.27"/>
<circle cx="1103.4" cy="645.9" r="9.2" fill="#DC0000" fill-opacity="0.27"/>
<circle cx="1150.7" cy="742.1" r="9.2" fill="#DC0000" fill-opacity="0.27"/>
<circle cx="904.4" cy="753.0" r="9.2" fill="#DC0000" fill-opacity="0.27"/>
<circle cx="1227.8" cy="659.5" r="9.2" fill="#0000DC" fill-opacity="0.27"/>
<circle cx="1267.6" cy="862.0" r="9.2" fill="#0000DC" fill-opacity="0.27"/>
<circle cx="1202.9" cy="908.7" r="9.2" fill="#0000DC" fill-opacity="0.27"/>
<circle cx="1351.7" cy="712.9" r="9.2" fill="#0000DC" fill-opacity="0.27"/>
<circle cx="1155.8" cy="987.1" r="9.2" fill="#0000DC" fill-opacity="0.27"/>
<circle cx="1152.2" cy="619.4" r="9.2" fill="#DC0000" fill-opacity="0.27"/>
<circle cx="1237.8" cy="721.8" r="9.2" fill="#0000DC" fill-opacity="0.27"/>
<circle cx="1218.8" cy="673.5" r="9.2" fill="#DC0000" fill-opacity="0.27"/>
<circle cx="1143.2" cy="791.9" r="9.2" fill="#0000DC" fill-opacity="0.27"/>
<circle cx="1014.8" cy="942.6" r="9.2" fill="#0000DC" fill-opacity="0.27"/>
<circle cx="1239.2" cy="638.1" r="9.2" fill="#DC0000" fill-opacity="0.27"/>
<circle cx="1103.4" cy="811.4" r="9.2" fill="#DC0000" fill-opacity="0.27"/>
<circle cx="1126.5" cy="987.0" r="9.2" fill="#0000DC" fill-opacity="0.27"/>
<circle cx="1133.3" cy="978.8" r="9.2" fill="#0000DC" fill-opacity="0.27"/>
<circle cx="1292.5" cy="811.4" r="9.2" fill="#0000DC" fill-opacity="0.27"/>
<circle cx="1227.8" cy="830.8" r="9.2" fill="#0000DC" fill-opacity="0.27"/>
<circle cx="1178.0" cy="608.9" r="9.2" fill="#DC0000" fill-opacity="0.27"/>
<circle cx="1327.3" cy="655.6" r="9.2" fill="#DC0000" fill-opacity="0.27"/>
<circle cx="1350.2" cy="830.9" r="9.2" fill="#DC0000" fill-opacity="0.27"/>
<circle cx="1228.5" cy="948.3" r="9.2" fill="#0000DC" fill-opacity="0.27"/>
<circle cx="1028.3" cy="635.0" r="9.2" fill="#DC0000" fill-opacity="0.27"/>
<circle cx="1127.3" cy="698.4" r="9.2" fill="#DC0000" fill-opacity="0.27"/>
<circle cx="1103.4" cy="967.1" r="9.2" fill="#0000DC" fill-opacity="0.27"/>
<circle cx="1153.2" cy="967.1" r="9.2" fill="#0000DC" fill-opacity="0.27"/>
<circle cx="1103.4" cy="821.1" r="9.2" fill="#DC0000" fill-opacity="0.27"/>
<circle cx="1277.6" cy="830.8" r="9.2" fill="#DC0000" fill-opacity="0.27"/>
<circle cx="923.3" cy="967.1" r="9.2" fill="#DC0000" fill-opacity="0.27"/>
<circle cx="1349.8" cy="985.3" r="9.2" fill="#0000DC" fill-opacity="0.27"/>
<circle cx="949.6" cy="710.1" r="9.2" fill="#DC0000" fill-opacity="0.27"/>
<circle cx="1327.3" cy="908.7" r="9.2" fill="#0000DC" fill-opacity="0.27"/>
<circle cx="931.7" cy="624.5" r="9.2" fill="#DC0000" fill-opacity="0.27"/>
<circle cx="1113.4" cy="967.1" r="9.2" fill="#0000DC" fill-opacity="0.27"/>
<circle cx="1088.5" cy="721.8" r="9.2" fill="#DC0000" fill-opacity="0.27"/>
<circle cx="1103.4" cy="636.1" r="9.2" fill="#DC0000" fill-opacity="0.27"/>
<circle cx="1234.1" cy="985.9" r="9.2" fill="#0000DC" fill-opacity="0.27"/>
<circle cx="1153.2" cy="830.8" r="9.2" fill="#0000DC" fill-opacity="0.27"/>
<circle cx="1003.9" cy="620.6" r="9.2" fill="#DC0000" fill-opacity="0.27"/>
<circle cx="1103.4" cy="801.6" r="9.2" fill="#0000DC" fill-opacity="0.27"/>
<circle cx="1250.0" cy="870.7" r="9.2" fill="#0000DC" fill-opacity="0.27"/>
<circle cx="1173.1" cy="976.9" r="9.2" fill="#0000DC" fill-opacity="0.27"/>
<circle cx="1260.1" cy="650.5" r="9.2" fill="#0000DC" fill-opacity="0.27"/>
<circle cx="1033.2" cy="986.6" r="9.2" fill="#0000DC" fill-opacity="0.27"/>
<circle cx="1125.8" cy="927.0" r="9.2" fill="#0000DC" fill-opacity="0.27"/>
<circle cx="1204.8" cy="907.4" r="9.2" fill="#0000DC" fill-opacity="0.27"/>
<circle cx="1153.2" cy="889.2" r="9.2" fill="#0000DC" fill-opacity="0.27"/>
<circle cx="1104.6" cy="908.0" r="9.2" fill="#0000DC" fill-opacity="0.27"/>
<circle cx="1351.7" cy="673.5" r="9.2" fill="#DC0000" fill-opacity="0.27"/>
<circle cx="1243.1" cy="987.8" r="9.2" fill="#0000DC" fill-opacity="0.27"/>
<circle cx="1128.3" cy="675.1" r="9.2" fill="#0000DC" fill-opacity="0.27"/>
<circle cx="950.0" cy="709.8" r="9.2" fill="#DC0000" fill-opacity="0.27"/>
<circle cx="1275.3" cy="907.5" r="9.2" fill="#0000DC" fill-opacity="0.27"/>
<circle cx="1152.2" cy="710.9" r="9.2" fill="#0000DC" fill-opacity="0.27"/>
<circle cx="881.6" cy="729.5" r="9.2" fill="#DC0000" fill-opacity="0.27"/>
<circle cx="951.6" cy="597.2" r="9.2" fill="#0000DC" fill-opacity="0.27"/>
<circle cx="1104.7" cy="887.8" r="9.2" fill="#0000DC" fill-opacity="0.27"/>
<circle cx="1105.1" cy="674.6" r="9.2" fill="#DC0000" fill-opacity="0.27"/>
<circle cx="1342.2" cy="663.4" r="9.2" fill="#DC0000" fill-opacity="0.27"/>
<circle cx="1168.1" cy="978.8" r="9.2" fill="#0000DC" fill-opacity="0.27"/>
<circle cx="1282.5" cy="679.0" r="9.2" fill="#DC0000" fill-opacity="0.27"/>
<circle cx="1100.7" cy="675.6" r="9.2" fill="#DC0000" fill-opacity="0.27"/>
<circle cx="958.1" cy="814.5" r="9.2" fill="#DC0000" fill-opacity="0.27"/>
<circle cx="1103.4" cy="801.6" r="9.2" fill="#DC0000" fill-opacity="0.27"/>
<circle cx="1272.6" cy="976.9" r="9.2" fill="#0000DC" fill-opacity="0.27"/>
<circle cx="1342.2" cy="928.2" r="9.2" fill="#0000DC" fill-opacity="0.27"/>
<circle cx="1118.3" cy="721.8" r="9.2" fill="#0000DC" fill-opacity="0.27"/>
<circle cx="1202.9" cy="967.1" r="9.2" fill="#0000DC" fill-opacity="0.27"/>
<circle cx="1103.4" cy="633.8" r="9.2" fill="#0000DC" fill-opacity="0.27"/>
<circle cx="1326.2" cy="909.8" r="9.2" fill="#0000DC" fill-opacity="0.27"/>
<circle cx="1353.2" cy="906.9" r="9.2" fill="#0000DC" fill-opacity="0.27"/>
<circle cx="902.9" cy="948.7" r="9.2" fill="#DC0000" fill-opacity="0.27"/>
<circle cx="1103.4" cy="967.1" r="9.2" fill="#0000DC" fill-opacity="0.27"/>
<circle cx="1188.0" cy="900.9" r="9.2" fill="#0000DC" fill-opacity="0.27"/>
<circle cx="1332.8" cy="723.4" r="9.2" fill="#0000DC" fill-opacity="0.27"/>
<circle cx="1322.3" cy="976.9" r="9.2" fill="#0000DC" fill-opacity="0.27"/>
<circle cx="1103.4" cy="772.4" r="9.2" fill="#0000DC" fill-opacity="0.27"/>
<circle cx="1326.8" cy="946.3" r="9.2" fill="#0000DC" fill-opacity="0.27"/>
<circle cx="1127.3" cy="781.4" r="9.2" fill="#0000DC" fill-opacity="0.27"/>
<circle cx="1201.9" cy="869.2" r="9.2" fill="#0000DC" fill-opacity="0.27"/>
<circle cx="1212.9" cy="967.1" r="9.2" fill="#0000DC" fill-opacity="0.27"/>
<circle cx="1197.9" cy="651.7" r="9.2" fill="#DC0000" fill-opacity="0.27"/>
<circle cx="1227.8" cy="811.4" r="9.2" fill="#0000DC" fill-opacity="0.27"/>
<circle cx="1103.4" cy="748.3" r="9.2" fill="#0000DC" fill-opacity="0.27"/>
<circle cx="1029.3" cy="928.6" r="9.2" fill="#DC0000" fill-opacity="0.27"/>
<circle cx="1163.1" cy="862.0" r="9.2" fill="#0000DC" fill-opacity="0.27"/>
<circle cx="1178.0" cy="655.6" r="9.2" fill="#0000DC" fill-opacity="0.27"/>
<circle cx="874.5" cy="862.0" r="9.2" fill="#DC0000" fill-opacity="0.27"/>
<circle cx="1053.6" cy="712.1" r="9.2" fill="#DC0000" fill-opacity="0.27"/>
<circle cx="1222.8" cy="967.1" r="9.2" fill="#0000DC" fill-opacity="0.27"/>
<circle cx="976.5" cy="616.7" r="9.2" fill="#DC0000" fill-opacity="0.27"/>
<circle cx="1212.9" cy="791.9" r="9.2" fill="#0000DC" fill-opacity="0.27"/>
<circle cx="1352.2" cy="986.6" r="9.2" fill="#0000DC" fill-opacity="0.27"/>
<circle cx="1217.8" cy="741.3" r="9.2" fill="#DC0000" fill-opacity="0.27"/>
<circle cx="1302.8" cy="907.4" r="9.2" fill="#0000DC" fill-opacity="0.27"/>
<circle cx="1273.5" cy="988.1" r="9.2" fill="#0000DC" fill-opacity="0.27"/>
<circle cx="1105.8" cy="986.3" r="9.2" fill="#0000DC" fill-opacity="0.27"/>
<circle cx="1101.5" cy="598.4" r="9.2" fill="#DC0000" fill-opacity="0.27"/>
<circle cx="1252.7" cy="850.3" r="9.2" fill="#0000DC" fill-opacity="0.27"/>
<circle cx="854.6" cy="597.2" r="9.2" fill="#DC0000" fill-opacity="0.27"/>
<circle cx="1105.1" cy="596.3" r="9.2" fill="#DC0000" fill-opacity="0.27"/>
<circle cx="1224.9" cy="907.8" r="9.2" fill="#0000DC" fill-opacity="0.27"/>
<circle cx="1103.4" cy="684.8" r="9.2" fill="#DC0000" fill-opacity="0.27"/>
<circle cx="1204.8" cy="947.1" r="9.2" fill="#0000DC" fill-opacity="0.27"/>
<circle cx="1347.2" cy="986.6" r="9.2" fill="#0000DC" fill-opacity="0.27"/>
<circle cx="962.1" cy="608.9" r="9.2" fill="#DC0000" fill-opacity="0.27"/>
<circle cx="1103.4" cy="748.3" r="9.2" fill="#DC0000" fill-opacity="0.27"/>
<circle cx="1252.7" cy="889.2" r="9.2" fill="#0000DC" fill-opacity="0.27"/>
<circle cx="968.1" cy="959.0" r="9.2" fill="#DC0000" fill-opacity="0.27"/>
<circle cx="1153.2" cy="908.7" r="9.2" fill="#DC0000" fill-opacity="0.27"/>
<circle cx="1002.9" cy="847.2" r="9.2" fill="#DC0000" fill-opacity="0.27"/>
<circle cx="1305.3" cy="967.5" r="9.2" fill="#0000DC" fill-opacity="0.27"/>
<circle cx="1051.8" cy="789.4" r="9.2" fill="#DC0000" fill-opacity="0.27"/>
<circle cx="1207.9" cy="733.5" r="9.2" fill="#0000DC" fill-opacity="0.27"/>
<circle cx="1069.6" cy="787.2" r="9.2" fill="#DC0000" fill-opacity="0.27"/>
<circle cx="1292.5" cy="978.8" r="9.2" fill="#0000DC" fill-opacity="0.27"/>
<circle cx="1053.6" cy="608.9" r="9.2" fill="#DC0000" fill-opacity="0.27"/>
<circle cx="1237.8" cy="663.4" r="9.2" fill="#DC0000" fill-opacity="0.27"/>
<circle cx="1250.7" cy="790.0" r="9.2" fill="#DC0000" fill-opacity="0.27"/>
<circle cx="1128.3" cy="967.1" r="9.2" fill="#0000DC" fill-opacity="0.27"/>
<circle cx="1302.4" cy="830.8" r="9.2" fill="#0000DC" fill-opacity="0.27"/>
<circle cx="1332.3" cy="943.8" r="9.2" fill="#0000DC" fill-opacity="0.27"/>
<circle cx="1106.1" cy="987.0" r="9.2" fill="#0000DC" fill-opacity="0.27"/>
<circle cx="949.6" cy="959.0" r="9.2" fill="#DC0000" fill-opacity="0.27"/>
<circle cx="1063.6" cy="851.1" r="9.2" fill="#0000DC" fill-opacity="0.27"/>
<circle cx="1250.0" cy="910.2" r="9.2" fill="#0000DC" fill-opacity="0.27"/>
<circle cx="1163.1" cy="791.9" r="9.2" fill="#0000DC" fill-opacity="0.27"/>
<circle cx="1325.2" cy="984.7" r="9.2" fill="#0000DC" fill-opacity="0.27"/>
<circle cx="1349.3" cy="987.2" r="9.2" fill="#0000DC" fill-opacity="0.27"/>
<circle cx="1103.4" cy="986.6" r="9.2" fill="#0000DC" fill-opacity="0.27"/>
<circle cx="1153.2" cy="850.3" r="9.2" fill="#0000DC" fill-opacity="0.27"/>
<circle cx="900.9" cy="789.6" r="9.2" fill="#DC0000" fill-opacity="0.27"/>
<circle cx="1303.0" cy="986.4" r="9.2" fill="#0000DC" fill-opacity="0.27"/>
<circle cx="1302.4" cy="772.4" r="9.2" fill="#0000DC" fill-opacity="0.27"/>
<circle cx="1078.0" cy="986.6" r="9.2" fill="#DC0000" fill-opacity="0.27"/>
<circle cx="1351.7" cy="748.3" r="9.2" fill="#0000DC" fill-opacity="0.27"/>
<circle cx="1123.3" cy="667.3" r="9.2" fill="#DC0000" fill-opacity="0.27"/>
<circle cx="1103.4" cy="694.5" r="9.2" fill="#DC0000" fill-opacity="0.27"/>
<circle cx="1176.2" cy="986.9" r="9.2" fill="#0000DC" fill-opacity="0.27"/>
<circle cx="1252.7" cy="830.8" r="9.2" fill="#0000DC" fill-opacity="0.27"/>
<circle cx="1281.0" cy="597.2" r="9.2" fill="#DC0000" fill-opacity="0.27"/>
<circle cx="1154.0" cy="947.3" r="9.2" fill="#0000DC" fill-opacity="0.27"/>
<circle cx="1277.6" cy="869.8" r="9.2" fill="#0000DC" fill-opacity="0.27"/>
<circle cx="1168.1" cy="675.1" r="9.2" fill="#DC0000" fill-opacity="0.27"/>
<circle cx="1292.5" cy="976.9" r="9.2" fill="#0000DC" fill-opacity="0.27"/>
<circle cx="1176.9" cy="987.7" r="9.2" fill="#0000DC" fill-opacity="0.27"/>
<circle cx="1352.2" cy="869.8" r="9.2" fill="#0000DC" fill-opacity="0.27"/>
<circle cx="1133.3" cy="986.6" r="9.2" fill="#0000DC" fill-opacity="0.27"/>
<circle cx="854.6" cy="791.9" r="9.2" fill="#DC0000" fill-opacity="0.27"/>
<circle cx="1128.3" cy="608.9" r="9.2" fill="#DC0000" fill-opacity="0.27"/>
<circle cx="1312.4" cy="881.5" r="9.2" fill="#0000DC" fill-opacity="0.27"/>
<circle cx="1252.7" cy="947.7" r="9.2" fill="#DC0000" fill-opacity="0.27"/>
<circle cx="859.6" cy="612.8" r="9.2" fill="#DC0000" fill-opacity="0.27"/>
<circle cx="1327.3" cy="791.9" r="9.2" fill="#0000DC" fill-opacity="0.27"/>
<circle cx="933.7" cy="889.6" r="9.2" fill="#DC0000" fill-opacity="0.27"/>
<circle cx="1227.8" cy="597.2" r="9.2" fill="#DC0000" fill-opacity="0.27"/>
<circle cx="1173.1" cy="967.1" r="9.2" fill="#0000DC" fill-opacity="0.27"/>
<circle cx="1237.8" cy="900.9" r="9.2" fill="#0000DC" fill-opacity="0.27"/>
<circle cx="1068.6" cy="733.5" r="9.2" fill="#DC0000" fill-opacity="0.27"/>
<circle cx="1128.3" cy="633.0" r="9.2" fill="#DC0000" fill-opacity="0.27"/>
<circle cx="1068.6" cy="760.7" r="9.2" fill="#DC0000" fill-opacity="0.27"/>
<circle cx="1267.6" cy="928.2" r="9.2" fill="#0000DC" fill-opacity="0.27"/>
<circle cx="1275.2" cy="947.3" r="9.2" fill="#0000DC" fill-opacity="0.27"/>
<circle cx="1302.4" cy="976.9" r="9.2" fill="#0000DC" fill-opacity="0.27"/>
<circle cx="953.6" cy="869.4" r="9.2" fill="#DC0000" fill-opacity="0.27"/>
<circle cx="1128.3" cy="655.6" r="9.2" fill="#0000DC" fill-opacity="0.27"/>
<circle cx="1327.3" cy="811.4" r="9.2" fill="#0000DC" fill-opacity="0.27"/>
<circle cx="1277.1" cy="752.6" r="9.2" fill="#0000DC" fill-opacity="0.27"/>
<circle cx="1230.3" cy="887.7" r="9.2" fill="#0000DC" fill-opacity="0.27"/>
<circle cx="1337.3" cy="636.1" r="9.2" fill="#DC0000" fill-opacity="0.27"/>
<circle cx="877.0" cy="964.8" r="9.2" fill="#DC0000" fill-opacity="0.27"/>
<circle cx="1029.3" cy="787.2" r="9.2" fill="#DC0000" fill-opacity="0.27"/>
<circle cx="906.6" cy="930.4" r="9.2" fill="#DC0000" fill-opacity="0.27"/>
<circle cx="978.5" cy="869.4" r="9.2" fill="#DC0000" fill-opacity="0.27"/>
<circle cx="1157.9" cy="784.2" r="9.2" fill="#0000DC" fill-opacity="0.27"/>
<circle cx="1262.6" cy="967.1" r="9.2" fill="#0000DC" fill-opacity="0.27"/>
<circle cx="1217.8" cy="597.2" r="9.2" fill="#DC0000" fill-opacity="0.27"/>
<circle cx="1227.8" cy="784.1" r="9.2" fill="#0000DC" fill-opacity="0.27"/>
<circle cx="1105.5" cy="984.7" r="9.2" fill="#0000DC" fill-opacity="0.27"/>
<circle cx="1252.4" cy="987.6" r="9.2" fill="#0000DC" fill-opacity="0.27"/>
<circle cx="1130.5" cy="949.4" r="9.2" fill="#0000DC" fill-opacity="0.27"/>
<circle cx="1103.4" cy="665.3" r="9.2" fill="#DC0000" fill-opacity="0.27"/>
<circle cx="1103.4" cy="597.2" r="9.2" fill="#DC0000" fill-opacity="0.27"/>
<circle cx="1173.1" cy="725.7" r="9.2" fill="#DC0000" fill-opacity="0.27"/>
<circle cx="1251.6" cy="948.4" r="9.2" fill="#0000DC" fill-opacity="0.27"/>
<circle cx="1250.9" cy="677.0" r="9.2" fill="#0000DC" fill-opacity="0.27"/>
<circle cx="1178.0" cy="850.3" r="9.2" fill="#0000DC" fill-opacity="0.27"/>
<circle cx="1033.7" cy="955.4" r="9.2" fill="#DC0000" fill-opacity="0.27"/>
<circle cx="1123.3" cy="823.1" r="9.2" fill="#0000DC" fill-opacity="0.27"/>
<circle cx="1103.4" cy="850.3" r="9.2" fill="#0000DC" fill-opacity="0.27"/>
<circle cx="1353.6" cy="829.0" r="9.2" fill="#0000DC" fill-opacity="0.27"/>
<circle cx="1188.0" cy="686.8" r="9.2" fill="#DC0000" fill-opacity="0.27"/>
<circle cx="1292.5" cy="791.9" r="9.2" fill="#0000DC" fill-opacity="0.27"/>
<circle cx="1127.1" cy="988.2" r="9.2" fill="#0000DC" fill-opacity="0.27"/>
<circle cx="1153.2" cy="791.9" r="9.2" fill="#0000DC" fill-opacity="0.27"/>
<circle cx="1152.2" cy="731.5" r="9.2" fill="#0000DC" fill-opacity="0.27"/>
<circle cx="1129.0" cy="968.9" r="9.2" fill="#0000DC" fill-opacity="0.27"/>
<circle cx="1128.3" cy="811.4" r="9.2" fill="#0000DC" fill-opacity="0.27"/>
<circle cx="1178.0" cy="928.2" r="9.2" fill="#0000DC" fill-opacity="0.27"/>
<circle cx="1227.8" cy="733.5" r="9.2" fill="#0000DC" fill-opacity="0.27"/>
<circle cx="1152.7" cy="986.3" r="9.2" fill="#0000DC" fill-opacity="0.27"/>
<circle cx="1321.2" cy="987.9" r="9.2" fill="#0000DC" fill-opacity="0.27"/>
<circle cx="1178.0" cy="811.4" r="9.2" fill="#0000DC" fill-opacity="0.27"/>
<circle cx="1314.4" cy="723.4" r="9.2" fill="#0000DC" fill-opacity="0.27"/>
<circle cx="1188.0" cy="753.0" r="9.2" fill="#0000DC" fill-opacity="0.27"/>
<circle cx="1128.3" cy="947.7" r="9.2" fill="#0000DC" fill-opacity="0.27"/>
<circle cx="1083.0" cy="636.1" r="9.2" fill="#0000DC" fill-opacity="0.27"/>
<circle cx="1351.1" cy="967.4" r="9.2" fill="#0000DC" fill-opacity="0.27"/>
<circle cx="968.1" cy="844.9" r="9.2" fill="#DC0000" fill-opacity="0.27"/>
<circle cx="1153.9" cy="988.3" r="9.2" fill="#0000DC" fill-opacity="0.27"/>
<circle cx="1128.3" cy="986.6" r="9.2" fill="#0000DC" fill-opacity="0.27"/>
<circle cx="1103.4" cy="636.1" r="9.2" fill="#DC0000" fill-opacity="0.27"/>
<circle cx="1002.9" cy="653.3" r="9.2" fill="#DC0000" fill-opacity="0.27"/>
<circle cx="1272.6" cy="694.5" r="9.2" fill="#0000DC" fill-opacity="0.27"/>
<circle cx="879.0" cy="828.5" r="9.2" fill="#DC0000" fill-opacity="0.27"/>
<circle cx="1156.0" cy="986.5" r="9.2" fill="#0000DC" fill-opacity="0.27"/>
<circle cx="1123.3" cy="723.4" r="9.2" fill="#0000DC" fill-opacity="0.27"/>
<circle cx="1153.2" cy="986.6" r="9.2" fill="#0000DC" fill-opacity="0.27"/>
<circle cx="1018.8" cy="714.0" r="9.2" fill="#DC0000" fill-opacity="0.27"/>
<circle cx="1254.4" cy="967.6" r="9.2" fill="#0000DC" fill-opacity="0.27"/>
<circle cx="1277.6" cy="729.6" r="9.2" fill="#0000DC" fill-opacity="0.27"/>
<circle cx="1287.5" cy="928.2" r="9.2" fill="#0000DC" fill-opacity="0.27"/>
<circle cx="1207.9" cy="605.0" r="9.2" fill="#DC0000" fill-opacity="0.27"/>
<circle cx="856.8" cy="599.0" r="9.2" fill="#DC0000" fill-opacity="0.27"/>
<circle cx="1105.7" cy="676.5" r="9.2" fill="#DC0000" fill-opacity="0.27"/>
<circle cx="1247.7" cy="764.6" r="9.2" fill="#0000DC" fill-opacity="0.27"/>
<circle cx="1153.2" cy="714.0" r="9.2" fill="#0000DC" fill-opacity="0.27"/>
<circle cx="1279.5" cy="597.0" r="9.2" fill="#0000DC" fill-opacity="0.27"/>
<circle cx="1332.3" cy="967.1" r="9.2" fill="#0000DC" fill-opacity="0.27"/>
<circle cx="1102.5" cy="986.3" r="9.2" fill="#0000DC" fill-opacity="0.27"/>
<circle cx="1148.2" cy="632.2" r="9.2" fill="#DC0000" fill-opacity="0.27"/>
<circle cx="1103.1" cy="926.5" r="9.2" fill="#0000DC" fill-opacity="0.27"/>
<circle cx="1104.3" cy="636.4" r="9.2" fill="#DC0000" fill-opacity="0.27"/>
<circle cx="1178.0" cy="760.7" r="9.2" fill="#0000DC" fill-opacity="0.27"/>
<circle cx="924.3" cy="850.3" r="9.2" fill="#DC0000" fill-opacity="0.27"/>
<circle cx="1202.9" cy="986.6" r="9.2" fill="#0000DC" fill-opacity="0.27"/>
<circle cx="1237.8" cy="830.8" r="9.2" fill="#0000DC" fill-opacity="0.27"/>
<circle cx="1102.8" cy="949.0" r="9.2" fill="#DC0000" fill-opacity="0.27"/>
<circle cx="1138.2" cy="904.8" r="9.2" fill="#0000DC" fill-opacity="0.27"/>
<circle cx="1163.1" cy="651.7" r="9.2" fill="#DC0000" fill-opacity="0.27"/>
<circle cx="1128.3" cy="850.3" r="9.2" fill="#DC0000" fill-opacity="0.27"/>
<circle cx="879.5" cy="791.9" r="9.2" fill="#DC0000" fill-opacity="0.27"/>
<circle cx="1233.3" cy="696.1" r="9.2" fill="#0000DC" fill-opacity="0.27"/>
<circle cx="1251.8" cy="947.1" r="9.2" fill="#0000DC" fill-opacity="0.27"/>
<circle cx="1143.2" cy="986.6" r="9.2" fill="#0000DC" fill-opacity="0.27"/>
<circle cx="1350.3" cy="929.1" r="9.2" fill="#0000DC" fill-opacity="0.27"/>
<circle cx="1285.1" cy="988.0" r="9.2" fill="#0000DC" fill-opacity="0.27"/>
<circle cx="1279.8" cy="968.4" r="9.2" fill="#0000DC" fill-opacity="0.27"/>
<circle cx="919.3" cy="597.2" r="9.2" fill="#DC0000" fill-opacity="0.27"/>
<circle cx="1082.0" cy="820.7" r="9.2" fill="#DC0000" fill-opacity="0.27"/>
<circle cx="1018.8" cy="841.0" r="9.2" fill="#DC0000" fill-opacity="0.27"/>
<circle cx="1251.3" cy="889.1" r="9.2" fill="#0000DC" fill-opacity="0.27"/>
<circle cx="1177.0" cy="731.5" r="9.2" fill="#0000DC" fill-opacity="0.27"/>
<circle cx="1279.2" cy="968.9" r="9.2" fill="#0000DC" fill-opacity="0.27"/>
<circle cx="1350.7" cy="965.7" r="9.2" fill="#0000DC" fill-opacity="0.27"/>
<circle cx="1352.2" cy="850.3" r="9.2" fill="#0000DC" fill-opacity="0.27"/>
<circle cx="1118.3" cy="741.3" r="9.2" fill="#0000DC" fill-opacity="0.27"/>
<circle cx="1237.8" cy="616.7" r="9.2" fill="#DC0000" fill-opacity="0.27"/>
<circle cx="979.8" cy="869.9" r="9.2" fill="#DC0000" fill-opacity="0.27"/>
<circle cx="1277.6" cy="947.7" r="9.2" fill="#0000DC" fill-opacity="0.27"/>
<circle cx="1351.7" cy="656.8" r="9.2" fill="#DC0000" fill-opacity="0.27"/>
<circle cx="1163.1" cy="881.5" r="9.2" fill="#0000DC" fill-opacity="0.27"/>
<circle cx="1028.8" cy="654.1" r="9.2" fill="#DC0000" fill-opacity="0.27"/>
<circle cx="1123.3" cy="893.1" r="9.2" fill="#0000DC" fill-opacity="0.27"/>
<circle cx="1353.4" cy="789.8" r="9.2" fill="#DC0000" fill-opacity="0.27"/>
<circle cx="1204.4" cy="706.6" r="9.2" fill="#0000DC" fill-opacity="0.27"/>
<circle cx="1325.4" cy="967.7" r="9.2" fill="#0000DC" fill-opacity="0.27"/>
<circle cx="1157.1" cy="785.7" r="9.2" fill="#0000DC" fill-opacity="0.27"/>
<circle cx="1079.7" cy="949.0" r="9.2" fill="#DC0000" fill-opacity="0.27"/>
<circle cx="1317.4" cy="904.8" r="9.2" fill="#0000DC" fill-opacity="0.27"/>
<circle cx="1227.3" cy="596.3" r="9.2" fill="#DC0000" fill-opacity="0.27"/>
<circle cx="1252.7" cy="869.8" r="9.2" fill="#0000DC" fill-opacity="0.27"/>
<circle cx="1012.8" cy="663.4" r="9.2" fill="#DC0000" fill-opacity="0.27"/>
<circle cx="1104.5" cy="984.9" r="9.2" fill="#0000DC" fill-opacity="0.27"/>
<circle cx="1103.4" cy="733.5" r="9.2" fill="#DC0000" fill-opacity="0.27"/>
<circle cx="1103.4" cy="947.7" r="9.2" fill="#0000DC" fill-opacity="0.27"/>
<circle cx="1123.3" cy="967.1" r="9.2" fill="#0000DC" fill-opacity="0.27"/>
<circle cx="1101.7" cy="832.1" r="9.2" fill="#DC0000" fill-opacity="0.27"/>
<circle cx="1178.0" cy="869.8" r="9.2" fill="#DC0000" fill-opacity="0.27"/>
<circle cx="1275.1" cy="968.7" r="9.2" fill="#0000DC" fill-opacity="0.27"/>
<circle cx="1330.8" cy="681.7" r="9.2" fill="#0000DC" fill-opacity="0.27"/>
<circle cx="1252.7" cy="908.7" r="9.2" fill="#0000DC" fill-opacity="0.27"/>
<circle cx="1282.5" cy="976.9" r="9.2" fill="#0000DC" fill-opacity="0.27"/>
<circle cx="1212.9" cy="976.9" r="9.2" fill="#0000DC" fill-opacity="0.27"/>
<circle cx="1063.6" cy="663.4" r="9.2" fill="#DC0000" fill-opacity="0.27"/>
<circle cx="1205.2" cy="984.7" r="9.2" fill="#0000DC" fill-opacity="0.27"/>
<circle cx="1027.0" cy="655.0" r="9.2" fill="#DC0000" fill-opacity="0.27"/>
<circle cx="1123.3" cy="877.6" r="9.2" fill="#0000DC" fill-opacity="0.27"/>
<circle cx="1057.6" cy="922.3" r="9.2" fill="#DC0000" fill-opacity="0.27"/>
<circle cx="1128.3" cy="791.9" r="9.2" fill="#0000DC" fill-opacity="0.27"/>
<circle cx="1130.4" cy="926.3" r="9.2" fill="#0000DC" fill-opacity="0.27"/>
<circle cx="1277.6" cy="967.1" r="9.2" fill="#0000DC" fill-opacity="0.27"/>
<circle cx="1193.0" cy="976.9" r="9.2" fill="#0000DC" fill-opacity="0.27"/>
<circle cx="1153.2" cy="811.4" r="9.2" fill="#0000DC" fill-opacity="0.27"/>
<circle cx="1227.8" cy="791.9" r="9.2" fill="#0000DC" fill-opacity="0.27"/>
<circle cx="1253.2" cy="948.2" r="9.2" fill="#0000DC" fill-opacity="0.27"/>
<circle cx="1342.2" cy="881.5" r="9.2" fill="#0000DC" fill-opacity="0.27"/>
<circle cx="1069.6" cy="974.9" r="9.2" fill="#DC0000" fill-opacity="0.27"/>
<circle cx="1250.2" cy="928.2" r="9.2" fill="#0000DC" fill-opacity="0.27"/>
<circle cx="1133.3" cy="982.7" r="9.2" fill="#0000DC" fill-opacity="0.27"/>
<circle cx="1103.4" cy="791.9" r="9.2" fill="#DC0000" fill-opacity="0.27"/>
<circle cx="1304.9" cy="986.5" r="9.2" fill="#0000DC" fill-opacity="0.27"/>
<circle cx="1262.6" cy="799.7" r="9.2" fill="#0000DC" fill-opacity="0.27"/>
<circle cx="1128.3" cy="624.5" r="9.2" fill="#DC0000" fill-opacity="0.27"/>
<circle cx="1123.3" cy="986.6" r="9.2" fill="#0000DC" fill-opacity="0.27"/>
<circle cx="1128.3" cy="928.2" r="9.2" fill="#0000DC" fill-opacity="0.27"/>
<circle cx="1277.6" cy="698.4" r="9.2" fill="#0000DC" fill-opacity="0.27"/>
<circle cx="1104.2" cy="787.0" r="9.2" fill="#0000DC" fill-opacity="0.27"/>
<circle cx="1179.1" cy="850.9" r="9.2" fill="#0000DC" fill-opacity="0.27"/>
<circle cx="1252.7" cy="985.8" r="9.2" fill="#0000DC" fill-opacity="0.27"/>
<circle cx="1155.8" cy="967.1" r="9.2" fill="#0000DC" fill-opacity="0.27"/>
<circle cx="1332.3" cy="976.9" r="9.2" fill="#0000DC" fill-opacity="0.27"/>
<circle cx="1103.4" cy="811.4" r="9.2" fill="#0000DC" fill-opacity="0.27"/>
<circle cx="1327.2" cy="967.6" r="9.2" fill="#0000DC" fill-opacity="0.27"/>
<circle cx="1267.6" cy="986.6" r="9.2" fill="#0000DC" fill-opacity="0.27"/>
<circle cx="1103.4" cy="782.2" r="9.2" fill="#0000DC" fill-opacity="0.27"/>
<circle cx="978.5" cy="749.8" r="9.2" fill="#DC0000" fill-opacity="0.27"/>
<circle cx="1128.3" cy="675.1" r="9.2" fill="#DC0000" fill-opacity="0.27"/>
<circle cx="1113.4" cy="791.9" r="9.2" fill="#0000DC" fill-opacity="0.27"/>
<circle cx="1128.3" cy="830.8" r="9.2" fill="#DC0000" fill-opacity="0.27"/>
<circle cx="1242.7" cy="986.6" r="9.2" fill="#0000DC" fill-opacity="0.27"/>
<circle cx="1237.8" cy="768.5" r="9.2" fill="#DC0000" fill-opacity="0.27"/>
<circle cx="1049.7" cy="885.7" r="9.2" fill="#DC0000" fill-opacity="0.27"/>
<circle cx="989.0" cy="811.4" r="9.2" fill="#DC0000" fill-opacity="0.27"/>
<circle cx="1351.7" cy="712.9" r="9.2" fill="#DC0000" fill-opacity="0.27"/>
<circle cx="1150.7" cy="712.9" r="9.2" fill="#0000DC" fill-opacity="0.27"/>
<circle cx="1153.5" cy="947.2" r="9.2" fill="#0000DC" fill-opacity="0.27"/>
<circle cx="1303.9" cy="652.5" r="9.2" fill="#0000DC" fill-opacity="0.27"/>
<circle cx="1252.7" cy="947.7" r="9.2" fill="#0000DC" fill-opacity="0.27"/>
<circle cx="1128.3" cy="869.8" r="9.2" fill="#0000DC" fill-opacity="0.27"/>
<circle cx="864.6" cy="751.8" r="9.2" fill="#DC0000" fill-opacity="0.27"/>
<circle cx="1302.4" cy="947.7" r="9.2" fill="#0000DC" fill-opacity="0.27"/>
<circle cx="929.2" cy="655.6" r="9.2" fill="#DC0000" fill-opacity="0.27"/>
<circle cx="1292.5" cy="943.8" r="9.2" fill="#0000DC" fill-opacity="0.27"/>
<circle cx="1188.0" cy="986.6" r="9.2" fill="#0000DC" fill-opacity="0.27"/>
<circle cx="1033.7" cy="643.9" r="9.2" fill="#DC0000" fill-opacity="0.27"/>
<circle cx="1330.8" cy="597.2" r="9.2" fill="#DC0000" fill-opacity="0.27"/>
<circle cx="1128.3" cy="889.2" r="9.2" fill="#0000DC" fill-opacity="0.27"/>
<circle cx="972.0" cy="713.2" r="9.2" fill="#DC0000" fill-opacity="0.27"/>
<circle cx="1164.7" cy="985.6" r="9.2" fill="#0000DC" fill-opacity="0.27"/>
<circle cx="1029.3" cy="971.0" r="9.2" fill="#DC0000" fill-opacity="0.27"/>
<circle cx="1053.6" cy="762.7" r="9.2" fill="#DC0000" fill-opacity="0.27"/>
<circle cx="1178.0" cy="714.0" r="9.2" fill="#0000DC" fill-opacity="0.27"/>
<circle cx="1322.3" cy="967.1" r="9.2" fill="#0000DC" fill-opacity="0.27"/>
<circle cx="1152.2" cy="635.0" r="9.2" fill="#DC0000" fill-opacity="0.27"/>
<circle cx="1337.3" cy="850.3" r="9.2" fill="#0000DC" fill-opacity="0.27"/>
<circle cx="1088.5" cy="772.4" r="9.2" fill="#DC0000" fill-opacity="0.27"/>
<circle cx="1202.9" cy="663.4" r="9.2" fill="#DC0000" fill-opacity="0.27"/>
<circle cx="1103.4" cy="830.8" r="9.2" fill="#DC0000" fill-opacity="0.27"/>
<circle cx="1228.0" cy="985.4" r="9.2" fill="#0000DC" fill-opacity="0.27"/>
<circle cx="1053.6" cy="597.2" r="9.2" fill="#DC0000" fill-opacity="0.27"/>
<circle cx="1224.3" cy="748.3" r="9.2" fill="#DC0000" fill-opacity="0.27"/>
<circle cx="1163.1" cy="862.0" r="9.2" fill="#0000DC" fill-opacity="0.27"/>
<circle cx="1128.3" cy="768.5" r="9.2" fill="#0000DC" fill-opacity="0.27"/>
<circle cx="1342.2" cy="667.3" r="9.2" fill="#DC0000" fill-opacity="0.27"/>
<circle cx="1230.3" cy="985.4" r="9.2" fill="#0000DC" fill-opacity="0.27"/>
<circle cx="1352.2" cy="830.8" r="9.2" fill="#DC0000" fill-opacity="0.27"/>
<circle cx="1133.3" cy="854.2" r="9.2" fill="#0000DC" fill-opacity="0.27"/>
<circle cx="1002.9" cy="920.4" r="9.2" fill="#0000DC" fill-opacity="0.27"/>
<circle cx="1113.4" cy="976.9" r="9.2" fill="#0000DC" fill-opacity="0.27"/>
<circle cx="1004.9" cy="947.7" r="9.2" fill="#DC0000" fill-opacity="0.27"/>
<circle cx="1226.8" cy="731.5" r="9.2" fill="#0000DC" fill-opacity="0.27"/>
<circle cx="1300.9" cy="947.2" r="9.2" fill="#0000DC" fill-opacity="0.27"/>
<circle cx="1154.3" cy="635.2" r="9.2" fill="#DC0000" fill-opacity="0.27"/>
<circle cx="1250.4" cy="929.9" r="9.2" fill="#0000DC" fill-opacity="0.27"/>
<circle cx="1218.8" cy="644.3" r="9.2" fill="#0000DC" fill-opacity="0.27"/>
<circle cx="1226.2" cy="832.5" r="9.2" fill="#0000DC" fill-opacity="0.27"/>
<circle cx="1187.5" cy="679.8" r="9.2" fill="#DC0000" fill-opacity="0.27"/>
<circle cx="1262.6" cy="978.8" r="9.2" fill="#0000DC" fill-opacity="0.27"/>
<circle cx="1152.2" cy="689.9" r="9.2" fill="#DC0000" fill-opacity="0.27"/>
<circle cx="900.9" cy="861.2" r="9.2" fill="#DC0000" fill-opacity="0.27"/>
<circle cx="1327.3" cy="928.2" r="9.2" fill="#0000DC" fill-opacity="0.27"/>
<circle cx="952.3" cy="710.6" r="9.2" fill="#DC0000" fill-opacity="0.27"/>
<circle cx="1327.3" cy="830.8" r="9.2" fill="#0000DC" fill-opacity="0.27"/>
<circle cx="890.9" cy="985.4" r="9.2" fill="#DC0000" fill-opacity="0.27"/>
<circle cx="1178.0" cy="640.0" r="9.2" fill="#DC0000" fill-opacity="0.27"/>
<circle cx="1055.5" cy="672.0" r="9.2" fill="#DC0000" fill-opacity="0.27"/>
<circle cx="1179.2" cy="988.2" r="9.2" fill="#0000DC" fill-opacity="0.27"/>
<circle cx="1128.3" cy="597.2" r="9.2" fill="#0000DC" fill-opacity="0.27"/>
<circle cx="1204.4" cy="731.5" r="9.2" fill="#0000DC" fill-opacity="0.27"/>
<circle cx="1351.7" cy="789.4" r="9.2" fill="#DC0000" fill-opacity="0.27"/>
<circle cx="1351.7" cy="673.5" r="9.2" fill="#0000DC" fill-opacity="0.27"/>
<circle cx="1103.4" cy="764.6" r="9.2" fill="#DC0000" fill-opacity="0.27"/>
<circle cx="1130.6" cy="965.3" r="9.2" fill="#0000DC" fill-opacity="0.27"/>
<circle cx="1242.7" cy="791.9" r="9.2" fill="#0000DC" fill-opacity="0.27"/>
<circle cx="1332.3" cy="986.6" r="9.2" fill="#0000DC" fill-opacity="0.27"/>
<circle cx="1128.3" cy="830.8" r="9.2" fill="#0000DC" fill-opacity="0.27"/>
<circle cx="1243.7" cy="650.5" r="9.2" fill="#0000DC" fill-opacity="0.27"/>
<circle cx="1226.8" cy="628.7" r="9.2" fill="#0000DC" fill-opacity="0.27"/>
<circle cx="1103.4" cy="830.8" r="9.2" fill="#0000DC" fill-opacity="0.27"/>
<circle cx="1053.8" cy="789.7" r="9.2" fill="#DC0000" fill-opacity="0.27"/>
<circle cx="1229.7" cy="871.6" r="9.2" fill="#0000DC" fill-opacity="0.27"/>
<circle cx="854.6" cy="636.1" r="9.2" fill="#DC0000" fill-opacity="0.27"/>
<circle cx="1250.1" cy="986.9" r="9.2" fill="#0000DC" fill-opacity="0.27"/>
<circle cx="958.1" cy="751.8" r="9.2" fill="#DC0000" fill-opacity="0.27"/>
<circle cx="1327.3" cy="889.2" r="9.2" fill="#0000DC" fill-opacity="0.27"/>
<circle cx="1327.3" cy="986.6" r="9.2" fill="#0000DC" fill-opacity="0.27"/>
<circle cx="1002.9" cy="830.8" r="9.2" fill="#DC0000" fill-opacity="0.27"/>
<circle cx="1277.1" cy="686.0" r="9.2" fill="#0000DC" fill-opacity="0.27"/>
<circle cx="1250.4" cy="966.9" r="9.2" fill="#0000DC" fill-opacity="0.27"/>
<circle cx="1251.9" cy="966.7" r="9.2" fill="#0000DC" fill-opacity="0.27"/>
<circle cx="1325.5" cy="888.9" r="9.2" fill="#0000DC" fill-opacity="0.27"/>
<circle cx="1204.7" cy="948.3" r="9.2" fill="#0000DC" fill-opacity="0.27"/>
<circle cx="1103.4" cy="976.9" r="9.2" fill="#0000DC" fill-opacity="0.27"/>
<circle cx="1178.0" cy="791.9" r="9.2" fill="#0000DC" fill-opacity="0.27"/>
<circle cx="1103.4" cy="714.0" r="9.2" fill="#DC0000" fill-opacity="0.27"/>
<circle cx="1312.4" cy="900.9" r="9.2" fill="#DC0000" fill-opacity="0.27"/>
<circle cx="1279.0" cy="947.4" r="9.2" fill="#0000DC" fill-opacity="0.27"/>
<circle cx="974.0" cy="826.6" r="9.2" fill="#DC0000" fill-opacity="0.27"/>
<circle cx="1337.3" cy="819.2" r="9.2" fill="#DC0000" fill-opacity="0.27"/>
<circle cx="1326.3" cy="966.1" r="9.2" fill="#0000DC" fill-opacity="0.27"/>
<circle cx="1247.7" cy="620.6" r="9.2" fill="#DC0000" fill-opacity="0.27"/>
<circle cx="1103.4" cy="908.7" r="9.2" fill="#DC0000" fill-opacity="0.27"/>
<circle cx="1327.2" cy="986.2" r="9.2" fill="#0000DC" fill-opacity="0.27"/>
<circle cx="1252.7" cy="967.1" r="9.2" fill="#0000DC" fill-opacity="0.27"/>
<circle cx="1327.3" cy="756.9" r="9.2" fill="#0000DC" fill-opacity="0.27"/>
<circle cx="1002.9" cy="732.3" r="9.2" fill="#DC0000" fill-opacity="0.27"/>
<circle cx="1053.6" cy="633.0" r="9.2" fill="#DC0000" fill-opacity="0.27"/>
<circle cx="1322.3" cy="916.5" r="9.2" fill="#0000DC" fill-opacity="0.27"/>
<circle cx="1128.9" cy="988.4" r="9.2" fill="#0000DC" fill-opacity="0.27"/>
<circle cx="1067.6" cy="897.8" r="9.2" fill="#DC0000" fill-opacity="0.27"/>
<circle cx="1002.9" cy="885.7" r="9.2" fill="#DC0000" fill-opacity="0.27"/>
<circle cx="1177.0" cy="625.6" r="9.2" fill="#DC0000" fill-opacity="0.27"/>
<circle cx="1247.7" cy="842.5" r="9.2" fill="#0000DC" fill-opacity="0.27"/>
<circle cx="864.6" cy="811.4" r="9.2" fill="#DC0000" fill-opacity="0.27"/>
<circle cx="892.9" cy="912.2" r="9.2" fill="#DC0000" fill-opacity="0.27"/>
<circle cx="1102.4" cy="907.9" r="9.2" fill="#0000DC" fill-opacity="0.27"/>
<circle cx="1127.7" cy="949.0" r="9.2" fill="#0000DC" fill-opacity="0.27"/>
<circle cx="1250.2" cy="968.4" r="9.2" fill="#0000DC" fill-opacity="0.27"/>
<circle cx="1178.0" cy="830.8" r="9.2" fill="#DC0000" fill-opacity="0.27"/>
<circle cx="1352.4" cy="596.9" r="9.2" fill="#DC0000" fill-opacity="0.27"/>
<circle cx="1176.8" cy="967.6" r="9.2" fill="#0000DC" fill-opacity="0.27"/>
<circle cx="1305.9" cy="597.2" r="9.2" fill="#DC0000" fill-opacity="0.27"/>
<circle cx="1138.2" cy="971.0" r="9.2" fill="#0000DC" fill-opacity="0.27"/>
<circle cx="1303.9" cy="968.5" r="9.2" fill="#0000DC" fill-opacity="0.27"/>
<circle cx="1251.7" cy="689.9" r="9.2" fill="#0000DC" fill-opacity="0.27"/>
<circle cx="1133.3" cy="850.3" r="9.2" fill="#0000DC" fill-opacity="0.27"/>
<circle cx="1262.6" cy="986.6" r="9.2" fill="#0000DC" fill-opacity="0.27"/>
<circle cx="1252.7" cy="928.2" r="9.2" fill="#0000DC" fill-opacity="0.27"/>
<circle cx="1202.9" cy="850.3" r="9.2" fill="#0000DC" fill-opacity="0.27"/>
<circle cx="1351.6" cy="598.4" r="9.2" fill="#DC0000" fill-opacity="0.27"/>
<circle cx="1177.3" cy="947.3" r="9.2" fill="#0000DC" fill-opacity="0.27"/>
<circle cx="1301.9" cy="702.3" r="9.2" fill="#0000DC" fill-opacity="0.27"/>
<circle cx="1322.3" cy="947.7" r="9.2" fill="#0000DC" fill-opacity="0.27"/>
<circle cx="1352.2" cy="967.1" r="9.2" fill="#0000DC" fill-opacity="0.27"/>
<circle cx="1212.9" cy="628.4" r="9.2" fill="#DC0000" fill-opacity="0.27"/>
<circle cx="1063.6" cy="828.5" r="9.2" fill="#DC0000" fill-opacity="0.27"/>
<circle cx="1163.1" cy="811.4" r="9.2" fill="#0000DC" fill-opacity="0.27"/>
<circle cx="1252.2" cy="985.8" r="9.2" fill="#0000DC" fill-opacity="0.27"/>
<circle cx="1128.3" cy="984.7" r="9.2" fill="#0000DC" fill-opacity="0.27"/>
<circle cx="1028.8" cy="597.2" r="9.2" fill="#DC0000" fill-opacity="0.27"/>
<circle cx="1281.0" cy="669.2" r="9.2" fill="#0000DC" fill-opacity="0.27"/>
<circle cx="1103.4" cy="694.5" r="9.2" fill="#DC0000" fill-opacity="0.27"/>
<circle cx="1179.3" cy="868.9" r="9.2" fill="#0000DC" fill-opacity="0.27"/>
<circle cx="1307.9" cy="663.0" r="9.2" fill="#0000DC" fill-opacity="0.27"/>
<circle cx="1252.3" cy="987.1" r="9.2" fill="#0000DC" fill-opacity="0.27"/>
<circle cx="1205.2" cy="708.3" r="9.2" fill="#0000DC" fill-opacity="0.27"/>
<circle cx="1222.8" cy="987.2" r="9.2" fill="#0000DC" fill-opacity="0.27"/>
<circle cx="1282.5" cy="916.5" r="9.2" fill="#0000DC" fill-opacity="0.27"/>
<circle cx="1232.8" cy="974.9" r="9.2" fill="#0000DC" fill-opacity="0.27"/>
<circle cx="1103.4" cy="811.4" r="9.2" fill="#DC0000" fill-opacity="0.27"/>
<circle cx="1332.3" cy="939.9" r="9.2" fill="#0000DC" fill-opacity="0.27"/>
<circle cx="1317.4" cy="978.8" r="9.2" fill="#0000DC" fill-opacity="0.27"/>
<circle cx="1312.4" cy="967.1" r="9.2" fill="#0000DC" fill-opacity="0.27"/>
<circle cx="1176.6" cy="928.4" r="9.2" fill="#0000DC" fill-opacity="0.27"/>
<circle cx="934.2" cy="749.1" r="9.2" fill="#DC0000" fill-opacity="0.27"/>
<circle cx="1148.2" cy="959.3" r="9.2" fill="#0000DC" fill-opacity="0.27"/>
<circle cx="1103.4" cy="772.4" r="9.2" fill="#DC0000" fill-opacity="0.27"/>
<circle cx="1202.9" cy="830.8" r="9.2" fill="#DC0000" fill-opacity="0.27"/>
<circle cx="894.4" cy="597.2" r="9.2" fill="#DC0000" fill-opacity="0.27"/>
<circle cx="1148.2" cy="881.5" r="9.2" fill="#0000DC" fill-opacity="0.27"/>
<circle cx="1282.5" cy="967.1" r="9.2" fill="#0000DC" fill-opacity="0.27"/>
<circle cx="1080.0" cy="853.0" r="9.2" fill="#DC0000" fill-opacity="0.27"/>
<circle cx="1201.9" cy="654.8" r="9.2" fill="#DC0000" fill-opacity="0.27"/>
<circle cx="1353.2" cy="673.6" r="9.2" fill="#DC0000" fill-opacity="0.27"/>
<circle cx="1282.5" cy="636.1" r="9.2" fill="#DC0000" fill-opacity="0.27"/>
<circle cx="984.0" cy="647.8" r="9.2" fill="#DC0000" fill-opacity="0.27"/>
<circle cx="1202.9" cy="830.8" r="9.2" fill="#0000DC" fill-opacity="0.27"/>
<circle cx="933.7" cy="638.9" r="9.2" fill="#DC0000" fill-opacity="0.27"/>
<circle cx="1153.2" cy="947.7" r="9.2" fill="#0000DC" fill-opacity="0.27"/>
<circle cx="1280.3" cy="986.3" r="9.2" fill="#0000DC" fill-opacity="0.27"/>
<circle cx="1202.9" cy="928.2" r="9.2" fill="#0000DC" fill-opacity="0.27"/>
<circle cx="1225.8" cy="929.0" r="9.2" fill="#0000DC" fill-opacity="0.27"/>
<circle cx="1303.5" cy="789.6" r="9.2" fill="#0000DC" fill-opacity="0.27"/>
<circle cx="1197.9" cy="967.1" r="9.2" fill="#0000DC" fill-opacity="0.27"/>
<circle cx="1143.2" cy="854.2" r="9.2" fill="#0000DC" fill-opacity="0.27"/>
<circle cx="1201.7" cy="987.2" r="9.2" fill="#0000DC" fill-opacity="0.27"/>
<circle cx="1302.4" cy="928.2" r="9.2" fill="#0000DC" fill-opacity="0.27"/>
<circle cx="1224.3" cy="748.3" r="9.2" fill="#0000DC" fill-opacity="0.27"/>
<circle cx="1103.8" cy="653.8" r="9.2" fill="#DC0000" fill-opacity="0.27"/>
<circle cx="1304.8" cy="988.0" r="9.2" fill="#0000DC" fill-opacity="0.27"/>
<circle cx="1227.8" cy="928.2" r="9.2" fill="#0000DC" fill-opacity="0.27"/>
<circle cx="1201.3" cy="890.7" r="9.2" fill="#0000DC" fill-opacity="0.27"/>
<circle cx="1103.4" cy="821.1" r="9.2" fill="#0000DC" fill-opacity="0.27"/>
<circle cx="1272.6" cy="986.6" r="9.2" fill="#0000DC" fill-opacity="0.27"/>
<circle cx="1103.4" cy="764.6" r="9.2" fill="#0000DC" fill-opacity="0.27"/>
<circle cx="1302.4" cy="667.3" r="9.2" fill="#0000DC" fill-opacity="0.27"/>
<circle cx="1018.8" cy="694.5" r="9.2" fill="#DC0000" fill-opacity="0.27"/>
<circle cx="1322.3" cy="974.9" r="9.2" fill="#0000DC" fill-opacity="0.27"/>
<circle cx="1327.3" cy="947.7" r="9.2" fill="#0000DC" fill-opacity="0.27"/>
<circle cx="1202.9" cy="597.2" r="9.2" fill="#DC0000" fill-opacity="0.27"/>
<circle cx="1148.2" cy="714.0" r="9.2" fill="#0000DC" fill-opacity="0.27"/>
<circle cx="1130.9" cy="985.1" r="9.2" fill="#0000DC" fill-opacity="0.27"/>
<circle cx="1055.6" cy="808.6" r="9.2" fill="#DC0000" fill-opacity="0.27"/>
<circle cx="1314.4" cy="758.8" r="9.2" fill="#0000DC" fill-opacity="0.27"/>
<circle cx="976.5" cy="628.4" r="9.2" fill="#DC0000" fill-opacity="0.27"/>
<circle cx="1158.1" cy="877.6" r="9.2" fill="#0000DC" fill-opacity="0.27"/>
<circle cx="1178.0" cy="947.7" r="9.2" fill="#0000DC" fill-opacity="0.27"/>
<circle cx="989.0" cy="788.0" r="9.2" fill="#DC0000" fill-opacity="0.27"/>
<circle cx="1301.5" cy="948.0" r="9.2" fill="#0000DC" fill-opacity="0.27"/>
<circle cx="1201.9" cy="790.0" r="9.2" fill="#0000DC" fill-opacity="0.27"/>
<circle cx="1227.8" cy="690.7" r="9.2" fill="#0000DC" fill-opacity="0.27"/>
<circle cx="1101.1" cy="598.1" r="9.2" fill="#DC0000" fill-opacity="0.27"/>
<circle cx="1277.6" cy="850.3" r="9.2" fill="#0000DC" fill-opacity="0.27"/>
<circle cx="1123.3" cy="963.2" r="9.2" fill="#0000DC" fill-opacity="0.27"/>
<circle cx="1173.1" cy="721.8" r="9.2" fill="#DC0000" fill-opacity="0.27"/>
<circle cx="1103.4" cy="986.6" r="9.2" fill="#0000DC" fill-opacity="0.27"/>
<circle cx="1105.7" cy="949.2" r="9.2" fill="#0000DC" fill-opacity="0.27"/>
<circle cx="1202.9" cy="811.4" r="9.2" fill="#0000DC" fill-opacity="0.27"/>
<circle cx="1329.4" cy="987.0" r="9.2" fill="#0000DC" fill-opacity="0.27"/>
<circle cx="1078.0" cy="773.2" r="9.2" fill="#DC0000" fill-opacity="0.27"/>
<circle cx="1217.8" cy="830.8" r="9.2" fill="#0000DC" fill-opacity="0.27"/>
<circle cx="1242.7" cy="986.6" r="9.2" fill="#0000DC" fill-opacity="0.27"/>
<circle cx="909.3" cy="897.0" r="9.2" fill="#DC0000" fill-opacity="0.27"/>
<circle cx="1100.6" cy="636.1" r="9.2" fill="#DC0000" fill-opacity="0.27"/>
<circle cx="1254.5" cy="986.1" r="9.2" fill="#0000DC" fill-opacity="0.27"/>
<circle cx="1103.4" cy="908.7" r="9.2" fill="#0000DC" fill-opacity="0.27"/>
<circle cx="1143.2" cy="608.9" r="9.2" fill="#DC0000" fill-opacity="0.27"/>
<circle cx="1307.4" cy="908.7" r="9.2" fill="#0000DC" fill-opacity="0.27"/>
<circle cx="1252.7" cy="679.0" r="9.2" fill="#0000DC" fill-opacity="0.27"/>
<circle cx="1260.7" cy="985.1" r="9.2" fill="#0000DC" fill-opacity="0.27"/>
<circle cx="1352.7" cy="985.9" r="9.2" fill="#0000DC" fill-opacity="0.27"/>
<circle cx="1303.6" cy="966.1" r="9.2" fill="#0000DC" fill-opacity="0.27"/>
<circle cx="1227.8" cy="714.0" r="9.2" fill="#0000DC" fill-opacity="0.27"/>
<circle cx="1297.5" cy="646.7" r="9.2" fill="#DC0000" fill-opacity="0.27"/>
<circle cx="939.2" cy="788.0" r="9.2" fill="#DC0000" fill-opacity="0.27"/>
<circle cx="992.4" cy="663.4" r="9.2" fill="#DC0000" fill-opacity="0.27"/>
<circle cx="1347.2" cy="799.7" r="9.2" fill="#0000DC" fill-opacity="0.27"/>
<circle cx="1332.3" cy="725.7" r="9.2" fill="#0000DC" fill-opacity="0.27"/>
<circle cx="958.1" cy="986.6" r="9.2" fill="#DC0000" fill-opacity="0.27"/>
<circle cx="1292.5" cy="967.1" r="9.2" fill="#0000DC" fill-opacity="0.27"/>
<circle cx="899.4" cy="838.6" r="9.2" fill="#DC0000" fill-opacity="0.27"/>
<circle cx="894.4" cy="647.8" r="9.2" fill="#DC0000" fill-opacity="0.27"/>
<circle cx="1103.4" cy="928.2" r="9.2" fill="#DC0000" fill-opacity="0.27"/>
<circle cx="1200.7" cy="948.5" r="9.2" fill="#0000DC" fill-opacity="0.27"/>
<circle cx="1353.6" cy="968.7" r="9.2" fill="#0000DC" fill-opacity="0.27"/>
<circle cx="1217.8" cy="974.9" r="9.2" fill="#0000DC" fill-opacity="0.27"/>
<circle cx="1103.4" cy="889.2" r="9.2" fill="#0000DC" fill-opacity="0.27"/>
<circle cx="1103.4" cy="791.9" r="9.2" fill="#DC0000" fill-opacity="0.27"/>
<circle cx="1227.8" cy="967.1" r="9.2" fill="#0000DC" fill-opacity="0.27"/>
<circle cx="1277.1" cy="731.5" r="9.2" fill="#DC0000" fill-opacity="0.27"/>
<circle cx="1080.0" cy="867.4" r="9.2" fill="#DC0000" fill-opacity="0.27"/>
<circle cx="1178.0" cy="986.6" r="9.2" fill="#0000DC" fill-opacity="0.27"/>
<circle cx="1102.4" cy="849.1" r="9.2" fill="#0000DC" fill-opacity="0.27"/>
<circle cx="860.6" cy="971.0" r="9.2" fill="#DC0000" fill-opacity="0.27"/>
<circle cx="1208.4" cy="628.0" r="9.2" fill="#DC0000" fill-opacity="0.27"/>
<circle cx="1218.8" cy="673.5" r="9.2" fill="#0000DC" fill-opacity="0.27"/>
<circle cx="1252.7" cy="986.6" r="9.2" fill="#0000DC" fill-opacity="0.27"/>
<circle cx="1103.4" cy="704.3" r="9.2" fill="#DC0000" fill-opacity="0.27"/>
<circle cx="1307.4" cy="632.2" r="9.2" fill="#DC0000" fill-opacity="0.27"/>
<circle cx="1083.5" cy="608.9" r="9.2" fill="#DC0000" fill-opacity="0.27"/>
<circle cx="1351.7" cy="698.4" r="9.2" fill="#0000DC" fill-opacity="0.27"/>
<circle cx="1223.0" cy="789.0" r="9.2" fill="#0000DC" fill-opacity="0.27"/>
<circle cx="919.3" cy="663.4" r="9.2" fill="#DC0000" fill-opacity="0.27"/>
<circle cx="1150.3" cy="986.1" r="9.2" fill="#0000DC" fill-opacity="0.27"/>
<circle cx="1262.6" cy="881.5" r="9.2" fill="#0000DC" fill-opacity="0.27"/>
<circle cx="1178.0" cy="908.7" r="9.2" fill="#0000DC" fill-opacity="0.27"/>
<circle cx="989.0" cy="682.9" r="9.2" fill="#DC0000" fill-opacity="0.27"/>
<circle cx="1302.4" cy="791.9" r="9.2" fill="#0000DC" fill-opacity="0.27"/>
<circle cx="1196.0" cy="686.0" r="9.2" fill="#DC0000" fill-opacity="0.27"/>
<circle cx="1008.9" cy="624.5" r="9.2" fill="#DC0000" fill-opacity="0.27"/>
<circle cx="1353.6" cy="987.1" r="9.2" fill="#0000DC" fill-opacity="0.27"/>
<circle cx="1103.4" cy="675.1" r="9.2" fill="#DC0000" fill-opacity="0.27"/>
<circle cx="1197.9" cy="982.7" r="9.2" fill="#0000DC" fill-opacity="0.27"/>
<circle cx="1123.3" cy="850.3" r="9.2" fill="#0000DC" fill-opacity="0.27"/>
<circle cx="1193.0" cy="986.6" r="9.2" fill="#0000DC" fill-opacity="0.27"/>
<circle cx="1217.8" cy="920.4" r="9.2" fill="#0000DC" fill-opacity="0.27"/>
<circle cx="1204.7" cy="948.6" r="9.2" fill="#0000DC" fill-opacity="0.27"/>
<circle cx="1173.1" cy="675.1" r="9.2" fill="#0000DC" fill-opacity="0.27"/>
<circle cx="1254.0" cy="967.6" r="9.2" fill="#0000DC" fill-opacity="0.27"/>
<circle cx="1277.6" cy="908.7" r="9.2" fill="#0000DC" fill-opacity="0.27"/>
<circle cx="954.1" cy="967.1" r="9.2" fill="#0000DC" fill-opacity="0.27"/>
<circle cx="1108.4" cy="974.9" r="9.2" fill="#0000DC" fill-opacity="0.27"/>
<circle cx="1332.3" cy="842.5" r="9.2" fill="#0000DC" fill-opacity="0.27"/>
<circle cx="1153.2" cy="908.7" r="9.2" fill="#0000DC" fill-opacity="0.27"/>
<circle cx="1214.9" cy="764.6" r="9.2" fill="#DC0000" fill-opacity="0.27"/>
<circle cx="1202.9" cy="947.7" r="9.2" fill="#0000DC" fill-opacity="0.27"/>
<circle cx="1313.3" cy="986.8" r="9.2" fill="#0000DC" fill-opacity="0.27"/>
<circle cx="1178.0" cy="655.6" r="9.2" fill="#0000DC" fill-opacity="0.27"/>
<circle cx="1202.9" cy="869.8" r="9.2" fill="#0000DC" fill-opacity="0.27"/>
<circle cx="1093.4" cy="706.2" r="9.2" fill="#DC0000" fill-opacity="0.27"/>
<circle cx="1354.3" cy="909.7" r="9.2" fill="#0000DC" fill-opacity="0.27"/>
<circle cx="1127.0" cy="946.6" r="9.2" fill="#0000DC" fill-opacity="0.27"/>
<circle cx="1182.5" cy="599.1" r="9.2" fill="#0000DC" fill-opacity="0.27"/>
<circle cx="1258.0" cy="596.2" r="9.2" fill="#DC0000" fill-opacity="0.27"/>
<circle cx="1277.6" cy="714.0" r="9.2" fill="#0000DC" fill-opacity="0.27"/>
<circle cx="899.0" cy="859.7" r="9.2" fill="#DC0000" fill-opacity="0.27"/>
<circle cx="1173.1" cy="760.7" r="9.2" fill="#DC0000" fill-opacity="0.27"/>
<circle cx="1004.9" cy="947.7" r="9.2" fill="#0000DC" fill-opacity="0.27"/>
<circle cx="1102.8" cy="907.5" r="9.2" fill="#0000DC" fill-opacity="0.27"/>
<circle cx="1257.7" cy="959.3" r="9.2" fill="#0000DC" fill-opacity="0.27"/>
<circle cx="1352.2" cy="976.9" r="9.2" fill="#0000DC" fill-opacity="0.27"/>
<circle cx="1177.2" cy="948.4" r="9.2" fill="#0000DC" fill-opacity="0.27"/>
<circle cx="1178.0" cy="869.8" r="9.2" fill="#0000DC" fill-opacity="0.27"/>
<circle cx="888.9" cy="871.3" r="9.2" fill="#DC0000" fill-opacity="0.27"/>
<circle cx="1173.1" cy="710.9" r="9.2" fill="#0000DC" fill-opacity="0.27"/>
<circle cx="1300.0" cy="967.1" r="9.2" fill="#0000DC" fill-opacity="0.27"/>
<circle cx="1277.6" cy="928.2" r="9.2" fill="#0000DC" fill-opacity="0.27"/>
<circle cx="1326.8" cy="790.0" r="9.2" fill="#0000DC" fill-opacity="0.27"/>
<circle cx="864.6" cy="986.6" r="9.2" fill="#DC0000" fill-opacity="0.27"/>
<circle cx="1043.7" cy="659.5" r="9.2" fill="#DC0000" fill-opacity="0.27"/>
<circle cx="1352.2" cy="908.7" r="9.2" fill="#DC0000" fill-opacity="0.27"/>
<circle cx="1304.0" cy="948.1" r="9.2" fill="#0000DC" fill-opacity="0.27"/>
<circle cx="1342.2" cy="791.9" r="9.2" fill="#0000DC" fill-opacity="0.27"/>
<circle cx="1212.9" cy="620.6" r="9.2" fill="#DC0000" fill-opacity="0.27"/>
<circle cx="1029.3" cy="952.7" r="9.2" fill="#DC0000" fill-opacity="0.27"/>
<circle cx="1181.0" cy="702.3" r="9.2" fill="#DC0000" fill-opacity="0.27"/>
<circle cx="1332.3" cy="900.9" r="9.2" fill="#0000DC" fill-opacity="0.27"/>
<circle cx="1173.1" cy="661.1" r="9.2" fill="#DC0000" fill-opacity="0.27"/>
<circle cx="1088.5" cy="745.2" r="9.2" fill="#DC0000" fill-opacity="0.27"/>
<circle cx="1077.6" cy="595.8" r="9.2" fill="#DC0000" fill-opacity="0.27"/>
<circle cx="1327.8" cy="948.6" r="9.2" fill="#0000DC" fill-opacity="0.27"/>
<circle cx="979.0" cy="598.2" r="9.2" fill="#DC0000" fill-opacity="0.27"/>
<circle cx="1039.2" cy="685.6" r="9.2" fill="#DC0000" fill-opacity="0.27"/>
<circle cx="1302.3" cy="986.0" r="9.2" fill="#0000DC" fill-opacity="0.27"/>
<circle cx="879.0" cy="768.5" r="9.2" fill="#DC0000" fill-opacity="0.27"/>
<circle cx="1337.3" cy="772.4" r="9.2" fill="#0000DC" fill-opacity="0.27"/>
<circle cx="954.1" cy="671.2" r="9.2" fill="#DC0000" fill-opacity="0.27"/>
<circle cx="1352.2" cy="803.6" r="9.2" fill="#DC0000" fill-opacity="0.27"/>
<circle cx="1200.0" cy="965.4" r="9.2" fill="#0000DC" fill-opacity="0.27"/>
<circle cx="1053.6" cy="789.6" r="9.2" fill="#DC0000" fill-opacity="0.27"/>
<circle cx="1327.3" cy="967.1" r="9.2" fill="#0000DC" fill-opacity="0.27"/>
<circle cx="1222.8" cy="986.6" r="9.2" fill="#0000DC" fill-opacity="0.27"/>
<circle cx="1153.4" cy="988.5" r="9.2" fill="#0000DC" fill-opacity="0.27"/>
<circle cx="979.0" cy="706.2" r="9.2" fill="#DC0000" fill-opacity="0.27"/>
<circle cx="1282.5" cy="986.6" r="9.2" fill="#0000DC" fill-opacity="0.27"/>
<circle cx="1055.3" cy="634.9" r="9.2" fill="#DC0000" fill-opacity="0.27"/>
<circle cx="1190.0" cy="764.6" r="9.2" fill="#0000DC" fill-opacity="0.27"/>
<circle cx="1227.8" cy="749.1" r="9.2" fill="#0000DC" fill-opacity="0.27"/>
<circle cx="902.4" cy="947.7" r="9.2" fill="#DC0000" fill-opacity="0.27"/>
<circle cx="1128.3" cy="733.5" r="9.2" fill="#0000DC" fill-opacity="0.27"/>
<circle cx="978.5" cy="928.6" r="9.2" fill="#DC0000" fill-opacity="0.27"/>
<circle cx="1351.0" cy="987.2" r="9.2" fill="#0000DC" fill-opacity="0.27"/>
<circle cx="1252.7" cy="655.6" r="9.2" fill="#0000DC" fill-opacity="0.27"/>
<circle cx="1103.4" cy="626.4" r="9.2" fill="#DC0000" fill-opacity="0.27"/>
<circle cx="1327.2" cy="985.7" r="9.2" fill="#0000DC" fill-opacity="0.27"/>
<circle cx="1103.4" cy="869.8" r="9.2" fill="#0000DC" fill-opacity="0.27"/>
<circle cx="1078.0" cy="947.7" r="9.2" fill="#DC0000" fill-opacity="0.27"/>
<circle cx="1103.4" cy="785.7" r="9.2" fill="#0000DC" fill-opacity="0.27"/>
<circle cx="1302.4" cy="889.2" r="9.2" fill="#DC0000" fill-opacity="0.27"/>
<circle cx="1301.6" cy="948.1" r="9.2" fill="#0000DC" fill-opacity="0.27"/>
<circle cx="1250.2" cy="690.9" r="9.2" fill="#0000DC" fill-opacity="0.27"/>
<circle cx="1178.0" cy="830.8" r="9.2" fill="#0000DC" fill-opacity="0.27"/>
<circle cx="1199.9" cy="748.3" r="9.2" fill="#0000DC" fill-opacity="0.27"/>
<circle cx="1205.0" cy="851.6" r="9.2" fill="#0000DC" fill-opacity="0.27"/>
<circle cx="879.5" cy="672.4" r="9.2" fill="#0000DC" fill-opacity="0.27"/>
<circle cx="1153.9" cy="986.7" r="9.2" fill="#0000DC" fill-opacity="0.27"/>
<circle cx="1260.1" cy="640.4" r="9.2" fill="#DC0000" fill-opacity="0.27"/>
<circle cx="1103.4" cy="928.2" r="9.2" fill="#0000DC" fill-opacity="0.27"/>
<circle cx="1175.2" cy="891.0" r="9.2" fill="#0000DC" fill-opacity="0.27"/>
<circle cx="1343.8" cy="986.4" r="9.2" fill="#0000DC" fill-opacity="0.27"/>
<circle cx="1247.7" cy="702.3" r="9.2" fill="#0000DC" fill-opacity="0.27"/>
<circle cx="1327.3" cy="694.5" r="9.2" fill="#0000DC" fill-opacity="0.27"/>
<circle cx="1127.3" cy="750.2" r="9.2" fill="#0000DC" fill-opacity="0.27"/>
<circle cx="1252.7" cy="791.9" r="9.2" fill="#0000DC" fill-opacity="0.27"/>
<circle cx="1143.2" cy="928.2" r="9.2" fill="#0000DC" fill-opacity="0.27"/>
<circle cx="978.5" cy="986.6" r="9.2" fill="#DC0000" fill-opacity="0.27"/>
<circle cx="1252.7" cy="976.9" r="9.2" fill="#0000DC" fill-opacity="0.27"/>
<circle cx="879.0" cy="855.0" r="9.2" fill="#DC0000" fill-opacity="0.27"/>
<circle cx="1123.3" cy="976.9" r="9.2" fill="#0000DC" fill-opacity="0.27"/>
<circle cx="1202.9" cy="976.9" r="9.2" fill="#0000DC" fill-opacity="0.27"/>
<circle cx="1101.2" cy="909.8" r="9.2" fill="#0000DC" fill-opacity="0.27"/>
<circle cx="1227.8" cy="908.7" r="9.2" fill="#0000DC" fill-opacity="0.27"/>
<circle cx="1277.6" cy="753.0" r="9.2" fill="#0000DC" fill-opacity="0.27"/>
<circle cx="1202.5" cy="984.8" r="9.2" fill="#0000DC" fill-opacity="0.27"/>
<circle cx="1292.5" cy="753.0" r="9.2" fill="#0000DC" fill-opacity="0.27"/>
<circle cx="1303.7" cy="871.3" r="9.2" fill="#0000DC" fill-opacity="0.27"/>
<circle cx="1352.2" cy="830.8" r="9.2" fill="#0000DC" fill-opacity="0.27"/>
<circle cx="1082.0" cy="907.9" r="9.2" fill="#DC0000" fill-opacity="0.27"/>
<circle cx="879.5" cy="694.5" r="9.2" fill="#DC0000" fill-opacity="0.27"/>
<circle cx="1179.1" cy="906.9" r="9.2" fill="#0000DC" fill-opacity="0.27"/>
<circle cx="1247.7" cy="823.1" r="9.2" fill="#0000DC" fill-opacity="0.27"/>
<circle cx="1247.7" cy="943.8" r="9.2" fill="#0000DC" fill-opacity="0.27"/>
<circle cx="1297.5" cy="719.1" r="9.2" fill="#0000DC" fill-opacity="0.27"/>
<circle cx="1103.4" cy="869.8" r="9.2" fill="#DC0000" fill-opacity="0.27"/>
<circle cx="1033.7" cy="710.1" r="9.2" fill="#DC0000" fill-opacity="0.27"/>
<circle cx="1222.8" cy="790.0" r="9.2" fill="#0000DC" fill-opacity="0.27"/>
<circle cx="1267.6" cy="655.6" r="9.2" fill="#DC0000" fill-opacity="0.27"/>
<circle cx="1108.4" cy="881.5" r="9.2" fill="#0000DC" fill-opacity="0.27"/>
<circle cx="1102.4" cy="867.4" r="9.2" fill="#0000DC" fill-opacity="0.27"/>
<circle cx="1312.4" cy="756.9" r="9.2" fill="#0000DC" fill-opacity="0.27"/>
<circle cx="1053.6" cy="741.3" r="9.2" fill="#DC0000" fill-opacity="0.27"/>
<circle cx="1342.2" cy="967.1" r="9.2" fill="#0000DC" fill-opacity="0.27"/>
<circle cx="1199.9" cy="748.3" r="9.2" fill="#DC0000" fill-opacity="0.27"/>
<circle cx="889.4" cy="760.7" r="9.2" fill="#DC0000" fill-opacity="0.27"/>
<circle cx="1129.8" cy="712.9" r="9.2" fill="#0000DC" fill-opacity="0.27"/>
<circle cx="1106.2" cy="967.4" r="9.2" fill="#0000DC" fill-opacity="0.27"/>
</g>
<path d="M854.6,763.0 L867.0,761.4 L879.5,759.9 L891.9,758.4 L904.4,756.8 L916.8,755.3 L929.2,753.7 L941.7,752.2 L954.1,750.6 L966.6,749.0 L979.0,747.5 L991.4,745.9 L1003.9,744.3 L1016.3,742.6 L1028.8,741.0 L1041.2,739.3 L1053.6,737.7 L1066.1,736.0 L1078.5,734.2 L1091.0,732.4 L1103.4,730.6 L1115.8,728.7 L1128.3,726.8 L1140.7,724.8 L1153.2,722.8 L1165.6,720.6 L1178.0,718.4 L1190.5,716.1 L1202.9,713.8 L1215.4,711.3 L1227.8,708.8 L1240.2,706.3 L1252.7,703.7 L1265.1,701.0 L1277.6,698.4 L1290.0,695.7 L1302.4,692.9 L1314.9,690.2 L1327.3,687.4 L1339.8,684.6 L1352.2,681.8 L1352.2,706.8 L1339.8,708.4 L1327.3,710.0 L1314.9,711.7 L1302.4,713.3 L1290.0,715.0 L1277.6,716.7 L1265.1,718.4 L1252.7,720.2 L1240.2,722.0 L1227.8,723.9 L1215.4,725.8 L1202.9,727.8 L1190.5,729.8 L1178.0,731.9 L1165.6,734.1 L1153.2,736.4 L1140.7,738.7 L1128.3,741.2 L1115.8,743.6 L1103.4,746.2 L1091.0,748.8 L1078.5,751.4 L1066.1,754.1 L1053.6,756.8 L1041.2,759.5 L1028.8,762.3 L1016.3,765.0 L1003.9,767.8 L991.4,770.6 L979.0,773.4 L966.6,776.3 L954.1,779.1 L941.7,782.0 L929.2,784.8 L916.8,787.7 L904.4,790.5 L891.9,793.4 L879.5,796.3 L867.0,799.1 L854.6,802.0 Z" fill="#999999" fill-opacity="0.3"/>
<path d="M879.5,813.5 L891.3,816.5 L903.1,819.5 L915.0,822.4 L926.8,825.4 L938.6,828.3 L950.4,831.3 L962.2,834.2 L974.0,837.1 L985.9,840.1 L997.7,843.0 L1009.5,845.9 L1021.3,848.8 L1033.1,851.7 L1044.9,854.6 L1056.8,857.5 L1068.6,860.4 L1080.4,863.2 L1092.2,866.1 L1104.0,868.9 L1115.8,871.7 L1127.7,874.5 L1139.5,877.2 L1151.3,879.9 L1163.1,882.6 L1174.9,885.3 L1186.8,887.9 L1198.6,890.5 L1210.4,893.1 L1222.2,895.6 L1234.0,898.0 L1245.8,900.4 L1257.7,902.7 L1269.5,905.0 L1281.3,907.2 L1293.1,909.4 L1304.9,911.5 L1316.7,913.5 L1328.6,915.6 L1340.4,917.5 L1352.2,919.5 L1352.2,941.1 L1340.4,938.5 L1328.6,935.9 L1316.7,933.3 L1304.9,930.8 L1293.1,928.3 L1281.3,925.9 L1269.5,923.5 L1257.7,921.2 L1245.8,918.9 L1234.0,916.7 L1222.2,914.6 L1210.4,912.5 L1198.6,910.5 L1186.8,908.5 L1174.9,906.5 L1163.1,904.6 L1151.3,902.7 L1139.5,900.9 L1127.7,899.0 L1115.8,897.2 L1104.0,895.4 L1092.2,893.7 L1080.4,891.9 L1068.6,890.2 L1056.8,888.5 L1044.9,886.8 L1033.1,885.1 L1021.3,883.4 L1009.5,881.7 L997.7,880.1 L985.9,878.4 L974.0,876.7 L962.2,875.1 L950.4,873.4 L938.6,871.8 L926.8,870.2 L915.0,868.5 L903.1,866.9 L891.3,865.3 L879.5,863.7 Z" fill="#999999" fill-opacity="0.3"/>
<line x1="854.60" y1="782.50" x2="1352.20" y2="694.30" stroke="#DC0000" stroke-width="7.5"/>
<line x1="879.50" y1="838.60" x2="1352.20" y2="930.30" stroke="#0000DC" stroke-width="7.5"/>
<line x1="134.60" y1="417.80" x2="145.60" y2="417.80" stroke="#333333" stroke-width="4"/>
<text x="52.81" y="428.10" font-size="29.00" fill="#4D4D4D">0.000</text>
<line x1="134.60" y1="323.82" x2="145.60" y2="323.82" stroke="#333333" stroke-width="4"/>
<text x="52.96" y="334.12" font-size="29.00" fill="#4D4D4D">0.025</text>
<line x1="134.60" y1="229.85" x2="145.60" y2="229.85" stroke="#333333" stroke-width="4"/>
<text x="52.81" y="240.14" font-size="29.00" fill="#4D4D4D">0.050</text>
<line x1="134.60" y1="135.88" x2="145.60" y2="135.88" stroke="#333333" stroke-width="4"/>
<text x="52.96" y="146.17" font-size="29.00" fill="#4D4D4D">0.075</text>
<line x1="134.60" y1="41.90" x2="145.60" y2="41.90" stroke="#333333" stroke-width="4"/>
<text x="52.81" y="52.19" font-size="29.00" fill="#4D4D4D">0.100</text>
<line x1="169.20" y1="437.50" x2="169.20" y2="448.50" stroke="#333333" stroke-width="4"/>
<text x="161.15" y="478.60" font-size="29.00" fill="#4D4D4D">0</text>
<line x1="288.02" y1="437.50" x2="288.02" y2="448.50" stroke="#333333" stroke-width="4"/>
<text x="271.78" y="478.60" font-size="29.00" fill="#4D4D4D">25</text>
<line x1="406.85" y1="437.50" x2="406.85" y2="448.50" stroke="#333333" stroke-width="4"/>
<text x="390.68" y="478.60" font-size="29.00" fill="#4D4D4D">50</text>
<line x1="525.67" y1="437.50" x2="525.67" y2="448.50" stroke="#333333" stroke-width="4"/>
<text x="509.43" y="478.60" font-size="29.00" fill="#4D4D4D">75</text>
<line x1="644.50" y1="437.50" x2="644.50" y2="448.50" stroke="#333333" stroke-width="4"/>
<text x="619.78" y="478.60" font-size="29.00" fill="#4D4D4D">100</text>
<line x1="843.50" y1="417.60" x2="854.50" y2="417.60" stroke="#333333" stroke-width="4"/>
<text x="760.51" y="427.90" font-size="29.00" fill="#4D4D4D">0.000</text>
<line x1="843.50" y1="336.17" x2="854.50" y2="336.17" stroke="#333333" stroke-width="4"/>
<text x="760.66" y="346.47" font-size="29.00" fill="#4D4D4D">0.005</text>
<line x1="843.50" y1="254.74" x2="854.50" y2="254.74" stroke="#333333" stroke-width="4"/>
<text x="760.51" y="265.04" font-size="29.00" fill="#4D4D4D">0.010</text>
<line x1="843.50" y1="173.31" x2="854.50" y2="173.31" stroke="#333333" stroke-width="4"/>
<text x="760.66" y="183.61" font-size="29.00" fill="#4D4D4D">0.015</text>
<line x1="843.50" y1="91.88" x2="854.50" y2="91.88" stroke="#333333" stroke-width="4"/>
<text x="760.51" y="102.17" font-size="29.00" fill="#4D4D4D">0.020</text>
<line x1="843.50" y1="10.45" x2="854.50" y2="10.45" stroke="#333333" stroke-width="4"/>
<text x="760.66" y="20.74" font-size="29.00" fill="#4D4D4D">0.025</text>
<line x1="877.00" y1="437.00" x2="877.00" y2="448.00" stroke="#333333" stroke-width="4"/>
<text x="868.95" y="478.60" font-size="29.00" fill="#4D4D4D">0</text>
<line x1="996.05" y1="437.00" x2="996.05" y2="448.00" stroke="#333333" stroke-width="4"/>
<text x="979.81" y="478.60" font-size="29.00" fill="#4D4D4D">25</text>
<line x1="1115.10" y1="437.00" x2="1115.10" y2="448.00" stroke="#333333" stroke-width="4"/>
<text x="1098.93" y="478.60" font-size="29.00" fill="#4D4D4D">50</text>
<line x1="1234.15" y1="437.00" x2="1234.15" y2="448.00" stroke="#333333" stroke-width="4"/>
<text x="1217.91" y="478.60" font-size="29.00" fill="#4D4D4D">75</text>
<line x1="1353.20" y1="437.00" x2="1353.20" y2="448.00" stroke="#333333" stroke-width="4"/>
<text x="1328.48" y="478.60" font-size="29.00" fill="#4D4D4D">100</text>
<line x1="118.30" y1="986.70" x2="129.30" y2="986.70" stroke="#333333" stroke-width="4"/>
<text x="51.81" y="997.00" font-size="29.00" fill="#4D4D4D">0.00</text>
<line x1="118.30" y1="879.50" x2="129.30" y2="879.50" stroke="#333333" stroke-width="4"/>
<text x="52.10" y="889.79" font-size="29.00" fill="#4D4D4D">0.01</text>
<line x1="118.30" y1="772.30" x2="129.30" y2="772.30" stroke="#333333" stroke-width="4"/>
<text x="52.10" y="782.60" font-size="29.00" fill="#4D4D4D">0.02</text>
<line x1="118.30" y1="665.10" x2="129.30" y2="665.10" stroke="#333333" stroke-width="4"/>
<text x="51.96" y="675.40" font-size="29.00" fill="#4D4D4D">0.03</text>
<line x1="153.40" y1="1006.00" x2="153.40" y2="1017.00" stroke="#333333" stroke-width="4"/>
<text x="145.35" y="1048.00" font-size="29.00" fill="#4D4D4D">0</text>
<line x1="276.07" y1="1006.00" x2="276.07" y2="1017.00" stroke="#333333" stroke-width="4"/>
<text x="259.83" y="1048.00" font-size="29.00" fill="#4D4D4D">25</text>
<line x1="398.75" y1="1006.00" x2="398.75" y2="1017.00" stroke="#333333" stroke-width="4"/>
<text x="382.58" y="1048.00" font-size="29.00" fill="#4D4D4D">50</text>
<line x1="521.42" y1="1006.00" x2="521.42" y2="1017.00" stroke="#333333" stroke-width="4"/>
<text x="505.18" y="1048.00" font-size="29.00" fill="#4D4D4D">75</text>
<line x1="644.10" y1="1006.00" x2="644.10" y2="1017.00" stroke="#333333" stroke-width="4"/>
<text x="619.38" y="1048.00" font-size="29.00" fill="#4D4D4D">100</text>
<line x1="820.80" y1="986.60" x2="831.80" y2="986.60" stroke="#333333" stroke-width="4"/>
<text x="792.72" y="996.89" font-size="29.00" fill="#4D4D4D">0</text>
<line x1="820.80" y1="947.66" x2="831.80" y2="947.66" stroke="#333333" stroke-width="4"/>
<text x="776.62" y="957.96" font-size="29.00" fill="#4D4D4D">10</text>
<line x1="820.80" y1="908.72" x2="831.80" y2="908.72" stroke="#333333" stroke-width="4"/>
<text x="776.62" y="919.01" font-size="29.00" fill="#4D4D4D">20</text>
<line x1="820.80" y1="869.78" x2="831.80" y2="869.78" stroke="#333333" stroke-width="4"/>
<text x="776.62" y="880.07" font-size="29.00" fill="#4D4D4D">30</text>
<line x1="820.80" y1="830.84" x2="831.80" y2="830.84" stroke="#333333" stroke-width="4"/>
<text x="776.62" y="841.13" font-size="29.00" fill="#4D4D4D">40</text>
<line x1="820.80" y1="791.90" x2="831.80" y2="791.90" stroke="#333333" stroke-width="4"/>
<text x="776.62" y="802.19" font-size="29.00" fill="#4D4D4D">50</text>
<line x1="820.80" y1="752.96" x2="831.80" y2="752.96" stroke="#333333" stroke-width="4"/>
<text x="776.62" y="763.25" font-size="29.00" fill="#4D4D4D">60</text>
<line x1="820.80" y1="714.02" x2="831.80" y2="714.02" stroke="#333333" stroke-width="4"/>
<text x="776.62" y="724.31" font-size="29.00" fill="#4D4D4D">70</text>
<line x1="820.80" y1="675.08" x2="831.80" y2="675.08" stroke="#333333" stroke-width="4"/>
<text x="776.62" y="685.38" font-size="29.00" fill="#4D4D4D">80</text>
<line x1="820.80" y1="636.14" x2="831.80" y2="636.14" stroke="#333333" stroke-width="4"/>
<text x="776.62" y="646.43" font-size="29.00" fill="#4D4D4D">90</text>
<line x1="820.80" y1="597.20" x2="831.80" y2="597.20" stroke="#333333" stroke-width="4"/>
<text x="760.53" y="607.50" font-size="29.00" fill="#4D4D4D">100</text>
<line x1="854.60" y1="1005.00" x2="854.60" y2="1016.00" stroke="#333333" stroke-width="4"/>
<text x="846.55" y="1047.80" font-size="29.00" fill="#4D4D4D">0</text>
<line x1="904.36" y1="1005.00" x2="904.36" y2="1016.00" stroke="#333333" stroke-width="4"/>
<text x="887.69" y="1047.80" font-size="29.00" fill="#4D4D4D">10</text>
<line x1="954.12" y1="1005.00" x2="954.12" y2="1016.00" stroke="#333333" stroke-width="4"/>
<text x="937.81" y="1047.80" font-size="29.00" fill="#4D4D4D">20</text>
<line x1="1003.88" y1="1005.00" x2="1003.88" y2="1016.00" stroke="#333333" stroke-width="4"/>
<text x="987.78" y="1047.80" font-size="29.00" fill="#4D4D4D">30</text>
<line x1="1053.64" y1="1005.00" x2="1053.64" y2="1016.00" stroke="#333333" stroke-width="4"/>
<text x="1037.76" y="1047.80" font-size="29.00" fill="#4D4D4D">40</text>
<line x1="1103.40" y1="1005.00" x2="1103.40" y2="1016.00" stroke="#333333" stroke-width="4"/>
<text x="1087.23" y="1047.80" font-size="29.00" fill="#4D4D4D">50</text>
<line x1="1153.16" y1="1005.00" x2="1153.16" y2="1016.00" stroke="#333333" stroke-width="4"/>
<text x="1136.85" y="1047.80" font-size="29.00" fill="#4D4D4D">60</text>
<line x1="1202.92" y1="1005.00" x2="1202.92" y2="1016.00" stroke="#333333" stroke-width="4"/>
<text x="1186.61" y="1047.80" font-size="29.00" fill="#4D4D4D">70</text>
<line x1="1252.68" y1="1005.00" x2="1252.68" y2="1016.00" stroke="#333333" stroke-width="4"/>
<text x="1236.51" y="1047.80" font-size="29.00" fill="#4D4D4D">80</text>
<line x1="1302.44" y1="1005.00" x2="1302.44" y2="1016.00" stroke="#333333" stroke-width="4"/>
<text x="1286.20" y="1047.80" font-size="29.00" fill="#4D4D4D">90</text>
<line x1="1352.20" y1="1005.00" x2="1352.20" y2="1016.00" stroke="#333333" stroke-width="4"/>
<text x="1327.48" y="1047.80" font-size="29.00" fill="#4D4D4D">100</text>
<text x="242.40" y="523.30" font-size="38.50" fill="#000" textLength="329.87" lengthAdjust="spacingAndGlyphs">Preference strength</text>
<text x="991.59" y="523.30" font-size="38.50" fill="#000" textLength="246.44" lengthAdjust="spacingAndGlyphs">Prior win belief</text>
<text x="259.99" y="1092.70" font-size="38.50" fill="#000" textLength="276.41" lengthAdjust="spacingAndGlyphs">Prior fraud belief</text>
<text x="979.40" y="1092.50" font-size="38.50" fill="#000" textLength="246.34" lengthAdjust="spacingAndGlyphs">Prior win belief</text>
<text transform="translate(32.30,0) rotate(-90)" x="-284.83" y="0" font-size="38.50" fill="#000" textLength="124.26" lengthAdjust="spacingAndGlyphs">Density</text>
<text transform="translate(740.90,0) rotate(-90)" x="-284.78" y="0" font-size="38.50" fill="#000" textLength="124.37" lengthAdjust="spacingAndGlyphs">Density</text>
<text transform="translate(32.20,0) rotate(-90)" x="-854.44" y="0" font-size="38.50" fill="#000" textLength="124.47" lengthAdjust="spacingAndGlyphs">Density</text>
<text transform="translate(741.90,0) rotate(-90)" x="-954.19" y="0" font-size="38.50" fill="#000" textLength="314.17" lengthAdjust="spacingAndGlyphs">Prior belief in fraud</text>
<text x="3.86" y="48.21" font-size="59.09" fill="#000" font-weight="bold" textLength="29.87" lengthAdjust="spacingAndGlyphs">a</text>
<text x="710.88" y="48.42" font-size="57.82" fill="#000" font-weight="bold" textLength="38.71" lengthAdjust="spacingAndGlyphs">b</text>
<text x="-0.78" y="609.01" font-size="59.27" fill="#000" font-weight="bold" textLength="33.03" lengthAdjust="spacingAndGlyphs">c</text>
<text x="711.22" y="617.13" font-size="56.87" fill="#000" font-weight="bold" textLength="37.86" lengthAdjust="spacingAndGlyphs">d</text>
<text x="6.50" y="1304.42" font-size="58.18" fill="#000" font-weight="bold" textLength="34.96" lengthAdjust="spacingAndGlyphs">e</text>
<text x="357.71" y="1195.90" font-size="38.50" fill="#000" textLength="328.72" lengthAdjust="spacingAndGlyphs">Preferred candidate</text>
<rect x="708.80" y="1149.30" width="66.50" height="66.00" fill="#0000CC" stroke="#000" stroke-width="3.8"/>
<rect x="882.00" y="1149.30" width="65.80" height="66.00" fill="#CC0000" stroke="#000" stroke-width="3.8"/>
<text x="796.34" y="1193.00" font-size="27.00" fill="#000" textLength="62.16" lengthAdjust="spacingAndGlyphs">Dem</text>
<text x="969.04" y="1193.00" font-size="27.00" fill="#000" textLength="54.13" lengthAdjust="spacingAndGlyphs">Rep</text>
<line x1="196.60" y1="1931.95" x2="1378.00" y2="1931.95" stroke="#BEBEBE" stroke-width="4"/>
<line x1="196.60" y1="1868.40" x2="1378.00" y2="1868.40" stroke="#BEBEBE" stroke-width="4"/>
<line x1="196.60" y1="1804.85" x2="1378.00" y2="1804.85" stroke="#BEBEBE" stroke-width="4"/>
<line x1="196.60" y1="1741.30" x2="1378.00" y2="1741.30" stroke="#BEBEBE" stroke-width="4"/>
<line x1="196.60" y1="1677.75" x2="1378.00" y2="1677.75" stroke="#BEBEBE" stroke-width="4"/>
<line x1="196.60" y1="1614.20" x2="1378.00" y2="1614.20" stroke="#BEBEBE" stroke-width="4"/>
<line x1="196.60" y1="1550.65" x2="1378.00" y2="1550.65" stroke="#BEBEBE" stroke-width="4"/>
<line x1="196.60" y1="1487.10" x2="1378.00" y2="1487.10" stroke="#BEBEBE" stroke-width="4"/>
<line x1="196.60" y1="1423.55" x2="1378.00" y2="1423.55" stroke="#BEBEBE" stroke-width="4"/>
<line x1="196.60" y1="1360.00" x2="1378.00" y2="1360.00" stroke="#BEBEBE" stroke-width="4"/>
<line x1="196.60" y1="1296.45" x2="1378.00" y2="1296.45" stroke="#BEBEBE" stroke-width="4"/>
<line x1="185.00" y1="1931.95" x2="196.60" y2="1931.95" stroke="#222" stroke-width="4"/>
<text x="100.70" y="1943.59" font-size="32.80" fill="#4D4D4D" textLength="74.94" lengthAdjust="spacingAndGlyphs">−100</text>
<line x1="185.00" y1="1868.40" x2="196.60" y2="1868.40" stroke="#222" stroke-width="4"/>
<text x="119.00" y="1880.04" font-size="32.80" fill="#4D4D4D" textLength="56.61" lengthAdjust="spacingAndGlyphs">−80</text>
<line x1="185.00" y1="1804.85" x2="196.60" y2="1804.85" stroke="#222" stroke-width="4"/>
<text x="119.00" y="1816.49" font-size="32.80" fill="#4D4D4D" textLength="56.61" lengthAdjust="spacingAndGlyphs">−60</text>
<line x1="185.00" y1="1741.30" x2="196.60" y2="1741.30" stroke="#222" stroke-width="4"/>
<text x="119.00" y="1752.94" font-size="32.80" fill="#4D4D4D" textLength="56.61" lengthAdjust="spacingAndGlyphs">−40</text>
<line x1="185.00" y1="1677.75" x2="196.60" y2="1677.75" stroke="#222" stroke-width="4"/>
<text x="119.00" y="1689.39" font-size="32.80" fill="#4D4D4D" textLength="56.61" lengthAdjust="spacingAndGlyphs">−20</text>
<line x1="185.00" y1="1614.20" x2="196.60" y2="1614.20" stroke="#222" stroke-width="4"/>
<text x="157.34" y="1625.84" font-size="32.80" fill="#4D4D4D">0</text>
<line x1="185.00" y1="1550.65" x2="196.60" y2="1550.65" stroke="#222" stroke-width="4"/>
<text x="139.14" y="1562.29" font-size="32.80" fill="#4D4D4D">20</text>
<line x1="185.00" y1="1487.10" x2="196.60" y2="1487.10" stroke="#222" stroke-width="4"/>
<text x="139.14" y="1498.74" font-size="32.80" fill="#4D4D4D">40</text>
<line x1="185.00" y1="1423.55" x2="196.60" y2="1423.55" stroke="#222" stroke-width="4"/>
<text x="139.14" y="1435.19" font-size="32.80" fill="#4D4D4D">60</text>
<line x1="185.00" y1="1360.00" x2="196.60" y2="1360.00" stroke="#222" stroke-width="4"/>
<text x="139.14" y="1371.64" font-size="32.80" fill="#4D4D4D">80</text>
<line x1="185.00" y1="1296.45" x2="196.60" y2="1296.45" stroke="#222" stroke-width="4"/>
<text x="120.94" y="1308.09" font-size="32.80" fill="#4D4D4D">100</text>
<rect x="270.00" y="1600.85" width="147.70" height="13.35" fill="#4DAC26" fill-opacity="0.5" stroke="#000" stroke-width="4"/>
<rect x="417.70" y="1614.20" width="147.70" height="33.05" fill="#D01C8B" fill-opacity="0.5" stroke="#000" stroke-width="4"/>
<rect x="639.70" y="1578.61" width="147.70" height="35.59" fill="#4DAC26" fill-opacity="0.5" stroke="#000" stroke-width="4"/>
<rect x="787.40" y="1614.20" width="147.70" height="45.12" fill="#D01C8B" fill-opacity="0.5" stroke="#000" stroke-width="4"/>
<rect x="1008.60" y="1556.69" width="147.70" height="57.51" fill="#4DAC26" fill-opacity="0.5" stroke="#000" stroke-width="4"/>
<rect x="1156.30" y="1614.20" width="147.70" height="65.46" fill="#D01C8B" fill-opacity="0.5" stroke="#000" stroke-width="4"/>
<path d="M320.8,1594.4 H367.3 M320.8,1604.1 H367.3 M344.1,1594.4 V1604.1" stroke="#000" stroke-width="4" fill="none"/>
<path d="M469.0,1641.7 H514.3 M469.0,1652.9 H514.3 M491.6,1641.7 V1652.9" stroke="#000" stroke-width="4" fill="none"/>
<path d="M690.3,1571.6 H736.0 M690.3,1585.6 H736.0 M713.1,1571.6 V1585.6" stroke="#000" stroke-width="4" fill="none"/>
<path d="M837.6,1654.7 H883.5 M837.6,1667.1 H883.5 M860.5,1654.7 V1667.1" stroke="#000" stroke-width="4" fill="none"/>
<path d="M1059.4,1552.0 H1104.5 M1059.4,1560.0 H1104.5 M1082.0,1552.0 V1560.0" stroke="#000" stroke-width="4" fill="none"/>
<path d="M1206.7,1677.7 H1252.2 M1206.7,1684.4 H1252.2 M1229.5,1677.7 V1684.4" stroke="#000" stroke-width="4" fill="none"/>
<circle cx="386.3" cy="1611.8" r="9" fill="#4DAC26" fill-opacity="0.2"/>
<circle cx="347.3" cy="1619.6" r="9" fill="#4DAC26" fill-opacity="0.2"/>
<circle cx="342.2" cy="1627.2" r="9" fill="#4DAC26" fill-opacity="0.2"/>
<circle cx="376.5" cy="1618.8" r="9" fill="#4DAC26" fill-opacity="0.2"/>
<circle cx="1261.5" cy="1724.9" r="9" fill="#D01C8B" fill-opacity="0.2"/>
<circle cx="1204.0" cy="1682.0" r="9" fill="#D01C8B" fill-opacity="0.2"/>
<circle cx="342.6" cy="1614.2" r="9" fill="#4DAC26" fill-opacity="0.2"/>
<circle cx="1045.3" cy="1516.5" r="9" fill="#4DAC26" fill-opacity="0.2"/>
<circle cx="1237.2" cy="1614.2" r="9" fill="#D01C8B" fill-opacity="0.2"/>
<circle cx="1241.1" cy="1839.5" r="9" fill="#D01C8B" fill-opacity="0.2"/>
<circle cx="311.0" cy="1647.0" r="9" fill="#4DAC26" fill-opacity="0.2"/>
<circle cx="467.5" cy="1613.1" r="9" fill="#D01C8B" fill-opacity="0.2"/>
<circle cx="1265.8" cy="1814.2" r="9" fill="#D01C8B" fill-opacity="0.2"/>
<circle cx="825.5" cy="1636.0" r="9" fill="#D01C8B" fill-opacity="0.2"/>
<circle cx="1195.6" cy="1614.2" r="9" fill="#D01C8B" fill-opacity="0.2"/>
<circle cx="1225.9" cy="1750.6" r="9" fill="#D01C8B" fill-opacity="0.2"/>
<circle cx="1195.5" cy="1662.4" r="9" fill="#D01C8B" fill-opacity="0.2"/>
<circle cx="1246.8" cy="1662.0" r="9" fill="#D01C8B" fill-opacity="0.2"/>
<circle cx="1222.8" cy="1698.1" r="9" fill="#D01C8B" fill-opacity="0.2"/>
<circle cx="1225.3" cy="1654.9" r="9" fill="#D01C8B" fill-opacity="0.2"/>
<circle cx="1243.4" cy="1691.1" r="9" fill="#D01C8B" fill-opacity="0.2"/>
<circle cx="1044.0" cy="1614.2" r="9" fill="#4DAC26" fill-opacity="0.2"/>
<circle cx="1225.1" cy="1614.2" r="9" fill="#D01C8B" fill-opacity="0.2"/>
<circle cx="489.0" cy="1699.4" r="9" fill="#D01C8B" fill-opacity="0.2"/>
<circle cx="378.5" cy="1637.7" r="9" fill="#4DAC26" fill-opacity="0.2"/>
<circle cx="455.9" cy="1587.0" r="9" fill="#D01C8B" fill-opacity="0.2"/>
<circle cx="1098.5" cy="1614.2" r="9" fill="#4DAC26" fill-opacity="0.2"/>
<circle cx="1119.8" cy="1565.3" r="9" fill="#4DAC26" fill-opacity="0.2"/>
<circle cx="483.6" cy="1589.8" r="9" fill="#D01C8B" fill-opacity="0.2"/>
<circle cx="1088.9" cy="1631.2" r="9" fill="#4DAC26" fill-opacity="0.2"/>
<circle cx="1261.0" cy="1653.4" r="9" fill="#D01C8B" fill-opacity="0.2"/>
<circle cx="857.8" cy="1631.7" r="9" fill="#D01C8B" fill-opacity="0.2"/>
<circle cx="1251.6" cy="1614.2" r="9" fill="#D01C8B" fill-opacity="0.2"/>
<circle cx="300.6" cy="1691.4" r="9" fill="#4DAC26" fill-opacity="0.2"/>
<circle cx="724.8" cy="1328.2" r="9" fill="#4DAC26" fill-opacity="0.2"/>
<circle cx="1044.1" cy="1597.2" r="9" fill="#4DAC26" fill-opacity="0.2"/>
<circle cx="1105.2" cy="1642.5" r="9" fill="#4DAC26" fill-opacity="0.2"/>
<circle cx="503.2" cy="1637.8" r="9" fill="#D01C8B" fill-opacity="0.2"/>
<circle cx="493.1" cy="1602.3" r="9" fill="#D01C8B" fill-opacity="0.2"/>
<circle cx="533.4" cy="1609.5" r="9" fill="#D01C8B" fill-opacity="0.2"/>
<circle cx="828.7" cy="1597.8" r="9" fill="#D01C8B" fill-opacity="0.2"/>
<circle cx="1244.2" cy="1619.8" r="9" fill="#D01C8B" fill-opacity="0.2"/>
<circle cx="455.1" cy="1550.0" r="9" fill="#D01C8B" fill-opacity="0.2"/>
<circle cx="534.3" cy="1788.0" r="9" fill="#D01C8B" fill-opacity="0.2"/>
<circle cx="503.8" cy="1808.0" r="9" fill="#D01C8B" fill-opacity="0.2"/>
<circle cx="722.3" cy="1414.7" r="9" fill="#4DAC26" fill-opacity="0.2"/>
<circle cx="1115.4" cy="1600.3" r="9" fill="#4DAC26" fill-opacity="0.2"/>
<circle cx="385.7" cy="1578.8" r="9" fill="#4DAC26" fill-opacity="0.2"/>
<circle cx="854.3" cy="1639.1" r="9" fill="#D01C8B" fill-opacity="0.2"/>
<circle cx="1046.0" cy="1540.3" r="9" fill="#4DAC26" fill-opacity="0.2"/>
<circle cx="1236.6" cy="1534.8" r="9" fill="#D01C8B" fill-opacity="0.2"/>
<circle cx="1079.4" cy="1617.4" r="9" fill="#4DAC26" fill-opacity="0.2"/>
<circle cx="1044.9" cy="1557.2" r="9" fill="#4DAC26" fill-opacity="0.2"/>
<circle cx="1059.7" cy="1495.4" r="9" fill="#4DAC26" fill-opacity="0.2"/>
<circle cx="862.9" cy="1645.5" r="9" fill="#D01C8B" fill-opacity="0.2"/>
<circle cx="897.5" cy="1574.5" r="9" fill="#D01C8B" fill-opacity="0.2"/>
<circle cx="1227.9" cy="1816.9" r="9" fill="#D01C8B" fill-opacity="0.2"/>
<circle cx="1057.5" cy="1309.7" r="9" fill="#4DAC26" fill-opacity="0.2"/>
<circle cx="473.6" cy="1483.6" r="9" fill="#D01C8B" fill-opacity="0.2"/>
<circle cx="1097.4" cy="1614.2" r="9" fill="#4DAC26" fill-opacity="0.2"/>
<circle cx="1084.4" cy="1614.2" r="9" fill="#4DAC26" fill-opacity="0.2"/>
<circle cx="309.4" cy="1650.7" r="9" fill="#4DAC26" fill-opacity="0.2"/>
<circle cx="1062.7" cy="1296.5" r="9" fill="#4DAC26" fill-opacity="0.2"/>
<circle cx="1117.4" cy="1614.2" r="9" fill="#4DAC26" fill-opacity="0.2"/>
<circle cx="1062.0" cy="1614.2" r="9" fill="#4DAC26" fill-opacity="0.2"/>
<circle cx="1247.6" cy="1614.2" r="9" fill="#D01C8B" fill-opacity="0.2"/>
<circle cx="1122.7" cy="1589.1" r="9" fill="#4DAC26" fill-opacity="0.2"/>
<circle cx="455.1" cy="1550.0" r="9" fill="#D01C8B" fill-opacity="0.2"/>
<circle cx="826.8" cy="1624.6" r="9" fill="#D01C8B" fill-opacity="0.2"/>
<circle cx="1046.6" cy="1552.4" r="9" fill="#4DAC26" fill-opacity="0.2"/>
<circle cx="1079.8" cy="1402.8" r="9" fill="#4DAC26" fill-opacity="0.2"/>
<circle cx="1097.1" cy="1365.9" r="9" fill="#4DAC26" fill-opacity="0.2"/>
<circle cx="682.9" cy="1578.7" r="9" fill="#4DAC26" fill-opacity="0.2"/>
<circle cx="1211.8" cy="1799.9" r="9" fill="#D01C8B" fill-opacity="0.2"/>
<circle cx="1191.2" cy="1702.8" r="9" fill="#D01C8B" fill-opacity="0.2"/>
<circle cx="1105.2" cy="1600.2" r="9" fill="#4DAC26" fill-opacity="0.2"/>
<circle cx="1056.6" cy="1535.9" r="9" fill="#4DAC26" fill-opacity="0.2"/>
<circle cx="528.0" cy="1685.9" r="9" fill="#D01C8B" fill-opacity="0.2"/>
<circle cx="354.0" cy="1691.4" r="9" fill="#4DAC26" fill-opacity="0.2"/>
<circle cx="477.4" cy="1654.3" r="9" fill="#D01C8B" fill-opacity="0.2"/>
<circle cx="494.5" cy="1659.6" r="9" fill="#D01C8B" fill-opacity="0.2"/>
<circle cx="327.1" cy="1651.1" r="9" fill="#4DAC26" fill-opacity="0.2"/>
<circle cx="383.9" cy="1655.2" r="9" fill="#4DAC26" fill-opacity="0.2"/>
<circle cx="467.8" cy="1614.2" r="9" fill="#D01C8B" fill-opacity="0.2"/>
<circle cx="1204.0" cy="1614.2" r="9" fill="#D01C8B" fill-opacity="0.2"/>
<circle cx="329.8" cy="1665.0" r="9" fill="#4DAC26" fill-opacity="0.2"/>
<circle cx="1102.5" cy="1614.2" r="9" fill="#4DAC26" fill-opacity="0.2"/>
<circle cx="1067.0" cy="1614.2" r="9" fill="#4DAC26" fill-opacity="0.2"/>
<circle cx="305.9" cy="1533.5" r="9" fill="#4DAC26" fill-opacity="0.2"/>
<circle cx="696.9" cy="1389.2" r="9" fill="#4DAC26" fill-opacity="0.2"/>
<circle cx="1111.4" cy="1455.3" r="9" fill="#4DAC26" fill-opacity="0.2"/>
<circle cx="877.2" cy="1854.1" r="9" fill="#D01C8B" fill-opacity="0.2"/>
<circle cx="1080.5" cy="1392.7" r="9" fill="#4DAC26" fill-opacity="0.2"/>
<circle cx="674.6" cy="1597.8" r="9" fill="#4DAC26" fill-opacity="0.2"/>
<circle cx="890.0" cy="1621.3" r="9" fill="#D01C8B" fill-opacity="0.2"/>
<circle cx="1087.0" cy="1485.0" r="9" fill="#4DAC26" fill-opacity="0.2"/>
<circle cx="746.9" cy="1649.5" r="9" fill="#4DAC26" fill-opacity="0.2"/>
<circle cx="1101.4" cy="1614.2" r="9" fill="#4DAC26" fill-opacity="0.2"/>
<circle cx="1225.4" cy="1614.2" r="9" fill="#D01C8B" fill-opacity="0.2"/>
<circle cx="461.1" cy="1614.2" r="9" fill="#D01C8B" fill-opacity="0.2"/>
<circle cx="1273.2" cy="1649.6" r="9" fill="#D01C8B" fill-opacity="0.2"/>
<circle cx="472.8" cy="1623.1" r="9" fill="#D01C8B" fill-opacity="0.2"/>
<circle cx="710.7" cy="1614.2" r="9" fill="#4DAC26" fill-opacity="0.2"/>
<circle cx="1237.3" cy="1633.3" r="9" fill="#D01C8B" fill-opacity="0.2"/>
<circle cx="462.7" cy="1630.4" r="9" fill="#D01C8B" fill-opacity="0.2"/>
<circle cx="1254.7" cy="1828.6" r="9" fill="#D01C8B" fill-opacity="0.2"/>
<circle cx="1242.1" cy="1718.6" r="9" fill="#D01C8B" fill-opacity="0.2"/>
<circle cx="1052.2" cy="1570.0" r="9" fill="#4DAC26" fill-opacity="0.2"/>
<circle cx="1047.5" cy="1533.2" r="9" fill="#4DAC26" fill-opacity="0.2"/>
<circle cx="1266.9" cy="1676.2" r="9" fill="#D01C8B" fill-opacity="0.2"/>
<circle cx="1239.7" cy="1755.3" r="9" fill="#D01C8B" fill-opacity="0.2"/>
<circle cx="472.7" cy="1626.5" r="9" fill="#D01C8B" fill-opacity="0.2"/>
<circle cx="1104.8" cy="1328.2" r="9" fill="#4DAC26" fill-opacity="0.2"/>
<circle cx="325.3" cy="1614.2" r="9" fill="#4DAC26" fill-opacity="0.2"/>
<circle cx="1119.3" cy="1538.8" r="9" fill="#4DAC26" fill-opacity="0.2"/>
<circle cx="520.4" cy="1576.2" r="9" fill="#D01C8B" fill-opacity="0.2"/>
<circle cx="1249.5" cy="1868.4" r="9" fill="#D01C8B" fill-opacity="0.2"/>
<circle cx="511.1" cy="1705.2" r="9" fill="#D01C8B" fill-opacity="0.2"/>
<circle cx="384.5" cy="1593.6" r="9" fill="#4DAC26" fill-opacity="0.2"/>
<circle cx="1252.8" cy="1632.4" r="9" fill="#D01C8B" fill-opacity="0.2"/>
<circle cx="1049.1" cy="1328.2" r="9" fill="#4DAC26" fill-opacity="0.2"/>
<circle cx="1221.8" cy="1719.5" r="9" fill="#D01C8B" fill-opacity="0.2"/>
<circle cx="734.7" cy="1642.5" r="9" fill="#4DAC26" fill-opacity="0.2"/>
<circle cx="1075.5" cy="1373.6" r="9" fill="#4DAC26" fill-opacity="0.2"/>
<circle cx="1089.6" cy="1322.4" r="9" fill="#4DAC26" fill-opacity="0.2"/>
<circle cx="1250.5" cy="1576.1" r="9" fill="#D01C8B" fill-opacity="0.2"/>
<circle cx="889.9" cy="1803.3" r="9" fill="#D01C8B" fill-opacity="0.2"/>
<circle cx="1078.4" cy="1296.5" r="9" fill="#4DAC26" fill-opacity="0.2"/>
<circle cx="313.9" cy="1675.8" r="9" fill="#4DAC26" fill-opacity="0.2"/>
<circle cx="1068.6" cy="1296.5" r="9" fill="#4DAC26" fill-opacity="0.2"/>
<circle cx="522.5" cy="1612.2" r="9" fill="#D01C8B" fill-opacity="0.2"/>
<circle cx="821.2" cy="1616.9" r="9" fill="#D01C8B" fill-opacity="0.2"/>
<circle cx="1191.9" cy="1868.4" r="9" fill="#D01C8B" fill-opacity="0.2"/>
<circle cx="1061.6" cy="1296.5" r="9" fill="#4DAC26" fill-opacity="0.2"/>
<circle cx="478.4" cy="1693.6" r="9" fill="#D01C8B" fill-opacity="0.2"/>
<circle cx="888.7" cy="1655.9" r="9" fill="#D01C8B" fill-opacity="0.2"/>
<circle cx="1194.0" cy="1653.2" r="9" fill="#D01C8B" fill-opacity="0.2"/>
<circle cx="724.5" cy="1590.1" r="9" fill="#4DAC26" fill-opacity="0.2"/>
<circle cx="1106.2" cy="1542.3" r="9" fill="#4DAC26" fill-opacity="0.2"/>
<circle cx="1072.5" cy="1614.2" r="9" fill="#4DAC26" fill-opacity="0.2"/>
<circle cx="1223.7" cy="1773.2" r="9" fill="#D01C8B" fill-opacity="0.2"/>
<circle cx="1100.6" cy="1478.9" r="9" fill="#4DAC26" fill-opacity="0.2"/>
<circle cx="712.0" cy="1589.6" r="9" fill="#4DAC26" fill-opacity="0.2"/>
<circle cx="1071.0" cy="1314.1" r="9" fill="#4DAC26" fill-opacity="0.2"/>
<circle cx="1048.8" cy="1519.8" r="9" fill="#4DAC26" fill-opacity="0.2"/>
<circle cx="386.5" cy="1344.1" r="9" fill="#4DAC26" fill-opacity="0.2"/>
<circle cx="695.2" cy="1594.4" r="9" fill="#4DAC26" fill-opacity="0.2"/>
<circle cx="859.4" cy="1818.5" r="9" fill="#D01C8B" fill-opacity="0.2"/>
<circle cx="821.7" cy="1677.1" r="9" fill="#D01C8B" fill-opacity="0.2"/>
<circle cx="1047.5" cy="1601.2" r="9" fill="#4DAC26" fill-opacity="0.2"/>
<circle cx="1038.6" cy="1650.2" r="9" fill="#4DAC26" fill-opacity="0.2"/>
<circle cx="357.0" cy="1528.7" r="9" fill="#4DAC26" fill-opacity="0.2"/>
<circle cx="757.8" cy="1686.3" r="9" fill="#4DAC26" fill-opacity="0.2"/>
<circle cx="327.6" cy="1553.1" r="9" fill="#4DAC26" fill-opacity="0.2"/>
<circle cx="1118.1" cy="1614.2" r="9" fill="#4DAC26" fill-opacity="0.2"/>
<circle cx="1269.3" cy="1782.1" r="9" fill="#D01C8B" fill-opacity="0.2"/>
<circle cx="1050.5" cy="1360.0" r="9" fill="#4DAC26" fill-opacity="0.2"/>
<circle cx="1190.9" cy="1614.2" r="9" fill="#D01C8B" fill-opacity="0.2"/>
<circle cx="1075.5" cy="1575.2" r="9" fill="#4DAC26" fill-opacity="0.2"/>
<circle cx="370.2" cy="1536.4" r="9" fill="#4DAC26" fill-opacity="0.2"/>
<circle cx="1048.7" cy="1557.6" r="9" fill="#4DAC26" fill-opacity="0.2"/>
<circle cx="387.6" cy="1603.7" r="9" fill="#4DAC26" fill-opacity="0.2"/>
<circle cx="533.9" cy="1597.7" r="9" fill="#D01C8B" fill-opacity="0.2"/>
<circle cx="509.9" cy="1662.9" r="9" fill="#D01C8B" fill-opacity="0.2"/>
<circle cx="1099.8" cy="1600.6" r="9" fill="#4DAC26" fill-opacity="0.2"/>
<circle cx="1044.8" cy="1614.2" r="9" fill="#4DAC26" fill-opacity="0.2"/>
<circle cx="485.6" cy="1636.6" r="9" fill="#D01C8B" fill-opacity="0.2"/>
<circle cx="1069.3" cy="1331.1" r="9" fill="#4DAC26" fill-opacity="0.2"/>
<circle cx="1090.8" cy="1614.2" r="9" fill="#4DAC26" fill-opacity="0.2"/>
<circle cx="1073.7" cy="1614.2" r="9" fill="#4DAC26" fill-opacity="0.2"/>
<circle cx="1230.4" cy="1793.0" r="9" fill="#D01C8B" fill-opacity="0.2"/>
<circle cx="1059.5" cy="1614.2" r="9" fill="#4DAC26" fill-opacity="0.2"/>
<circle cx="1119.8" cy="1508.1" r="9" fill="#4DAC26" fill-opacity="0.2"/>
<circle cx="1108.9" cy="1614.2" r="9" fill="#4DAC26" fill-opacity="0.2"/>
<circle cx="1261.6" cy="1614.2" r="9" fill="#D01C8B" fill-opacity="0.2"/>
<circle cx="1095.2" cy="1591.0" r="9" fill="#4DAC26" fill-opacity="0.2"/>
<circle cx="686.7" cy="1518.9" r="9" fill="#4DAC26" fill-opacity="0.2"/>
<circle cx="1209.1" cy="1695.0" r="9" fill="#D01C8B" fill-opacity="0.2"/>
<circle cx="305.9" cy="1533.5" r="9" fill="#4DAC26" fill-opacity="0.2"/>
<circle cx="1273.7" cy="1932.0" r="9" fill="#D01C8B" fill-opacity="0.2"/>
<circle cx="1080.4" cy="1604.3" r="9" fill="#4DAC26" fill-opacity="0.2"/>
<circle cx="1210.2" cy="1817.3" r="9" fill="#D01C8B" fill-opacity="0.2"/>
<circle cx="1262.7" cy="1614.2" r="9" fill="#D01C8B" fill-opacity="0.2"/>
<circle cx="364.0" cy="1577.5" r="9" fill="#4DAC26" fill-opacity="0.2"/>
<circle cx="688.8" cy="1622.8" r="9" fill="#4DAC26" fill-opacity="0.2"/>
<circle cx="1055.7" cy="1326.9" r="9" fill="#4DAC26" fill-opacity="0.2"/>
<circle cx="461.2" cy="1637.0" r="9" fill="#D01C8B" fill-opacity="0.2"/>
<circle cx="524.1" cy="1803.3" r="9" fill="#D01C8B" fill-opacity="0.2"/>
<circle cx="672.5" cy="1572.0" r="9" fill="#4DAC26" fill-opacity="0.2"/>
<circle cx="348.4" cy="1534.8" r="9" fill="#4DAC26" fill-opacity="0.2"/>
<circle cx="1099.4" cy="1614.2" r="9" fill="#4DAC26" fill-opacity="0.2"/>
<circle cx="834.8" cy="1611.7" r="9" fill="#D01C8B" fill-opacity="0.2"/>
<circle cx="866.2" cy="1625.8" r="9" fill="#D01C8B" fill-opacity="0.2"/>
<circle cx="494.1" cy="1586.9" r="9" fill="#D01C8B" fill-opacity="0.2"/>
<circle cx="672.4" cy="1569.2" r="9" fill="#4DAC26" fill-opacity="0.2"/>
<circle cx="1194.8" cy="1712.7" r="9" fill="#D01C8B" fill-opacity="0.2"/>
<circle cx="329.6" cy="1603.1" r="9" fill="#4DAC26" fill-opacity="0.2"/>
<circle cx="1264.0" cy="1678.0" r="9" fill="#D01C8B" fill-opacity="0.2"/>
<circle cx="1224.6" cy="1614.2" r="9" fill="#D01C8B" fill-opacity="0.2"/>
<circle cx="472.5" cy="1499.8" r="9" fill="#D01C8B" fill-opacity="0.2"/>
<circle cx="720.0" cy="1625.9" r="9" fill="#4DAC26" fill-opacity="0.2"/>
<circle cx="329.8" cy="1627.6" r="9" fill="#4DAC26" fill-opacity="0.2"/>
<circle cx="753.3" cy="1610.3" r="9" fill="#4DAC26" fill-opacity="0.2"/>
<circle cx="742.7" cy="1558.5" r="9" fill="#4DAC26" fill-opacity="0.2"/>
<circle cx="508.9" cy="1922.4" r="9" fill="#D01C8B" fill-opacity="0.2"/>
<circle cx="370.2" cy="1486.1" r="9" fill="#4DAC26" fill-opacity="0.2"/>
<circle cx="1095.7" cy="1617.4" r="9" fill="#4DAC26" fill-opacity="0.2"/>
<circle cx="374.3" cy="1800.7" r="9" fill="#4DAC26" fill-opacity="0.2"/>
<circle cx="326.6" cy="1517.9" r="9" fill="#4DAC26" fill-opacity="0.2"/>
<circle cx="747.9" cy="1562.9" r="9" fill="#4DAC26" fill-opacity="0.2"/>
<circle cx="1083.5" cy="1614.2" r="9" fill="#4DAC26" fill-opacity="0.2"/>
<circle cx="1066.5" cy="1614.2" r="9" fill="#4DAC26" fill-opacity="0.2"/>
<circle cx="463.5" cy="1640.0" r="9" fill="#D01C8B" fill-opacity="0.2"/>
<circle cx="896.3" cy="1607.4" r="9" fill="#D01C8B" fill-opacity="0.2"/>
<circle cx="879.7" cy="1828.7" r="9" fill="#D01C8B" fill-opacity="0.2"/>
<circle cx="874.9" cy="1656.9" r="9" fill="#D01C8B" fill-opacity="0.2"/>
<circle cx="1220.5" cy="1888.5" r="9" fill="#D01C8B" fill-opacity="0.2"/>
<circle cx="864.5" cy="1767.7" r="9" fill="#D01C8B" fill-opacity="0.2"/>
<circle cx="1212.7" cy="1614.2" r="9" fill="#D01C8B" fill-opacity="0.2"/>
<circle cx="1093.3" cy="1614.2" r="9" fill="#4DAC26" fill-opacity="0.2"/>
<circle cx="497.3" cy="1596.5" r="9" fill="#D01C8B" fill-opacity="0.2"/>
<circle cx="1088.3" cy="1381.2" r="9" fill="#4DAC26" fill-opacity="0.2"/>
<circle cx="1101.2" cy="1435.7" r="9" fill="#4DAC26" fill-opacity="0.2"/>
<circle cx="1194.1" cy="1762.2" r="9" fill="#D01C8B" fill-opacity="0.2"/>
<circle cx="1186.7" cy="1618.6" r="9" fill="#D01C8B" fill-opacity="0.2"/>
<circle cx="844.2" cy="1788.0" r="9" fill="#D01C8B" fill-opacity="0.2"/>
<circle cx="459.9" cy="1645.7" r="9" fill="#D01C8B" fill-opacity="0.2"/>
<circle cx="299.4" cy="1379.1" r="9" fill="#4DAC26" fill-opacity="0.2"/>
<circle cx="1267.0" cy="1614.2" r="9" fill="#D01C8B" fill-opacity="0.2"/>
<circle cx="1259.1" cy="1685.9" r="9" fill="#D01C8B" fill-opacity="0.2"/>
<circle cx="1056.8" cy="1614.2" r="9" fill="#4DAC26" fill-opacity="0.2"/>
<circle cx="1039.2" cy="1458.1" r="9" fill="#4DAC26" fill-opacity="0.2"/>
<circle cx="863.9" cy="1615.4" r="9" fill="#D01C8B" fill-opacity="0.2"/>
<circle cx="862.0" cy="1651.5" r="9" fill="#D01C8B" fill-opacity="0.2"/>
<circle cx="1123.6" cy="1296.5" r="9" fill="#4DAC26" fill-opacity="0.2"/>
<circle cx="1253.4" cy="1614.2" r="9" fill="#D01C8B" fill-opacity="0.2"/>
<circle cx="1126.4" cy="1550.1" r="9" fill="#4DAC26" fill-opacity="0.2"/>
<circle cx="682.8" cy="1610.3" r="9" fill="#4DAC26" fill-opacity="0.2"/>
<circle cx="687.4" cy="1639.5" r="9" fill="#4DAC26" fill-opacity="0.2"/>
<circle cx="1117.4" cy="1344.7" r="9" fill="#4DAC26" fill-opacity="0.2"/>
<circle cx="1100.2" cy="1494.1" r="9" fill="#4DAC26" fill-opacity="0.2"/>
<circle cx="1089.1" cy="1543.3" r="9" fill="#4DAC26" fill-opacity="0.2"/>
<circle cx="1231.0" cy="1902.5" r="9" fill="#D01C8B" fill-opacity="0.2"/>
<circle cx="1080.3" cy="1614.2" r="9" fill="#4DAC26" fill-opacity="0.2"/>
<circle cx="1211.0" cy="1614.2" r="9" fill="#D01C8B" fill-opacity="0.2"/>
<circle cx="1125.9" cy="1445.9" r="9" fill="#4DAC26" fill-opacity="0.2"/>
<circle cx="891.2" cy="1707.5" r="9" fill="#D01C8B" fill-opacity="0.2"/>
<circle cx="303.1" cy="1639.1" r="9" fill="#4DAC26" fill-opacity="0.2"/>
<circle cx="300.1" cy="1556.0" r="9" fill="#4DAC26" fill-opacity="0.2"/>
<circle cx="484.1" cy="1685.3" r="9" fill="#D01C8B" fill-opacity="0.2"/>
<circle cx="519.3" cy="1556.4" r="9" fill="#D01C8B" fill-opacity="0.2"/>
<circle cx="343.3" cy="1592.3" r="9" fill="#4DAC26" fill-opacity="0.2"/>
<circle cx="359.5" cy="1642.4" r="9" fill="#4DAC26" fill-opacity="0.2"/>
<circle cx="1107.4" cy="1296.5" r="9" fill="#4DAC26" fill-opacity="0.2"/>
<circle cx="360.6" cy="1571.0" r="9" fill="#4DAC26" fill-opacity="0.2"/>
<circle cx="1215.0" cy="1685.2" r="9" fill="#D01C8B" fill-opacity="0.2"/>
<circle cx="1220.4" cy="1564.9" r="9" fill="#D01C8B" fill-opacity="0.2"/>
<circle cx="1109.2" cy="1551.7" r="9" fill="#4DAC26" fill-opacity="0.2"/>
<circle cx="329.6" cy="1677.7" r="9" fill="#4DAC26" fill-opacity="0.2"/>
<circle cx="686.7" cy="1826.1" r="9" fill="#4DAC26" fill-opacity="0.2"/>
<circle cx="1106.2" cy="1618.0" r="9" fill="#4DAC26" fill-opacity="0.2"/>
<circle cx="676.5" cy="1422.3" r="9" fill="#4DAC26" fill-opacity="0.2"/>
<circle cx="1048.2" cy="1582.4" r="9" fill="#4DAC26" fill-opacity="0.2"/>
<circle cx="1094.4" cy="1537.7" r="9" fill="#4DAC26" fill-opacity="0.2"/>
<circle cx="1192.0" cy="1578.6" r="9" fill="#D01C8B" fill-opacity="0.2"/>
<circle cx="337.5" cy="1508.7" r="9" fill="#4DAC26" fill-opacity="0.2"/>
<circle cx="1230.1" cy="1920.1" r="9" fill="#D01C8B" fill-opacity="0.2"/>
<circle cx="1261.2" cy="1673.4" r="9" fill="#D01C8B" fill-opacity="0.2"/>
<circle cx="1216.7" cy="1753.6" r="9" fill="#D01C8B" fill-opacity="0.2"/>
<circle cx="889.1" cy="1649.3" r="9" fill="#D01C8B" fill-opacity="0.2"/>
<circle cx="1211.7" cy="1614.2" r="9" fill="#D01C8B" fill-opacity="0.2"/>
<circle cx="694.8" cy="1592.2" r="9" fill="#4DAC26" fill-opacity="0.2"/>
<circle cx="532.7" cy="1668.2" r="9" fill="#D01C8B" fill-opacity="0.2"/>
<circle cx="482.0" cy="1644.0" r="9" fill="#D01C8B" fill-opacity="0.2"/>
<circle cx="1263.8" cy="1626.2" r="9" fill="#D01C8B" fill-opacity="0.2"/>
<circle cx="1101.3" cy="1614.2" r="9" fill="#4DAC26" fill-opacity="0.2"/>
<circle cx="824.7" cy="1591.9" r="9" fill="#D01C8B" fill-opacity="0.2"/>
<circle cx="735.6" cy="1603.9" r="9" fill="#4DAC26" fill-opacity="0.2"/>
<circle cx="1081.1" cy="1614.2" r="9" fill="#4DAC26" fill-opacity="0.2"/>
<circle cx="1195.2" cy="1614.2" r="9" fill="#D01C8B" fill-opacity="0.2"/>
<circle cx="1088.2" cy="1614.2" r="9" fill="#4DAC26" fill-opacity="0.2"/>
<circle cx="323.3" cy="1469.6" r="9" fill="#4DAC26" fill-opacity="0.2"/>
<circle cx="1217.4" cy="1527.8" r="9" fill="#D01C8B" fill-opacity="0.2"/>
<circle cx="1195.7" cy="1900.7" r="9" fill="#D01C8B" fill-opacity="0.2"/>
<circle cx="504.8" cy="1629.3" r="9" fill="#D01C8B" fill-opacity="0.2"/>
<circle cx="531.8" cy="1645.9" r="9" fill="#D01C8B" fill-opacity="0.2"/>
<circle cx="1231.8" cy="1718.6" r="9" fill="#D01C8B" fill-opacity="0.2"/>
<circle cx="1055.5" cy="1583.7" r="9" fill="#4DAC26" fill-opacity="0.2"/>
<circle cx="844.2" cy="1611.0" r="9" fill="#D01C8B" fill-opacity="0.2"/>
<circle cx="1060.5" cy="1572.6" r="9" fill="#4DAC26" fill-opacity="0.2"/>
<circle cx="1268.2" cy="1854.4" r="9" fill="#D01C8B" fill-opacity="0.2"/>
<circle cx="679.1" cy="1696.5" r="9" fill="#4DAC26" fill-opacity="0.2"/>
<circle cx="1091.0" cy="1578.9" r="9" fill="#4DAC26" fill-opacity="0.2"/>
<circle cx="838.5" cy="1720.8" r="9" fill="#D01C8B" fill-opacity="0.2"/>
<circle cx="1051.0" cy="1614.2" r="9" fill="#4DAC26" fill-opacity="0.2"/>
<circle cx="691.8" cy="1427.4" r="9" fill="#4DAC26" fill-opacity="0.2"/>
<circle cx="374.3" cy="1780.4" r="9" fill="#4DAC26" fill-opacity="0.2"/>
<circle cx="719.7" cy="1386.7" r="9" fill="#4DAC26" fill-opacity="0.2"/>
<circle cx="1198.0" cy="1510.0" r="9" fill="#D01C8B" fill-opacity="0.2"/>
<circle cx="850.1" cy="1595.4" r="9" fill="#D01C8B" fill-opacity="0.2"/>
<circle cx="325.5" cy="1598.9" r="9" fill="#4DAC26" fill-opacity="0.2"/>
<circle cx="1227.8" cy="1553.2" r="9" fill="#D01C8B" fill-opacity="0.2"/>
<circle cx="1039.3" cy="1614.2" r="9" fill="#4DAC26" fill-opacity="0.2"/>
<circle cx="682.7" cy="1613.6" r="9" fill="#4DAC26" fill-opacity="0.2"/>
<circle cx="1272.1" cy="1614.2" r="9" fill="#D01C8B" fill-opacity="0.2"/>
<circle cx="1082.3" cy="1548.9" r="9" fill="#4DAC26" fill-opacity="0.2"/>
<circle cx="1117.6" cy="1614.2" r="9" fill="#4DAC26" fill-opacity="0.2"/>
<circle cx="689.8" cy="1614.2" r="9" fill="#4DAC26" fill-opacity="0.2"/>
<circle cx="1089.5" cy="1614.2" r="9" fill="#4DAC26" fill-opacity="0.2"/>
<circle cx="1199.5" cy="1735.1" r="9" fill="#D01C8B" fill-opacity="0.2"/>
<circle cx="1217.5" cy="1614.2" r="9" fill="#D01C8B" fill-opacity="0.2"/>
<circle cx="1050.7" cy="1627.8" r="9" fill="#4DAC26" fill-opacity="0.2"/>
<circle cx="1097.4" cy="1614.2" r="9" fill="#4DAC26" fill-opacity="0.2"/>
<circle cx="1053.3" cy="1430.2" r="9" fill="#4DAC26" fill-opacity="0.2"/>
<circle cx="1249.6" cy="1614.2" r="9" fill="#D01C8B" fill-opacity="0.2"/>
<circle cx="1206.3" cy="1622.4" r="9" fill="#D01C8B" fill-opacity="0.2"/>
<circle cx="734.0" cy="1677.4" r="9" fill="#4DAC26" fill-opacity="0.2"/>
<circle cx="301.6" cy="1517.3" r="9" fill="#4DAC26" fill-opacity="0.2"/>
<circle cx="1061.7" cy="1625.9" r="9" fill="#4DAC26" fill-opacity="0.2"/>
<circle cx="347.7" cy="1589.6" r="9" fill="#4DAC26" fill-opacity="0.2"/>
<circle cx="1261.0" cy="1604.7" r="9" fill="#D01C8B" fill-opacity="0.2"/>
<circle cx="1193.9" cy="1775.7" r="9" fill="#D01C8B" fill-opacity="0.2"/>
<circle cx="489.5" cy="1619.9" r="9" fill="#D01C8B" fill-opacity="0.2"/>
<circle cx="1053.8" cy="1647.8" r="9" fill="#4DAC26" fill-opacity="0.2"/>
<circle cx="1197.7" cy="1877.6" r="9" fill="#D01C8B" fill-opacity="0.2"/>
<circle cx="1051.5" cy="1353.5" r="9" fill="#4DAC26" fill-opacity="0.2"/>
<circle cx="458.3" cy="1600.6" r="9" fill="#D01C8B" fill-opacity="0.2"/>
<circle cx="817.8" cy="1635.2" r="9" fill="#D01C8B" fill-opacity="0.2"/>
<circle cx="1056.7" cy="1304.3" r="9" fill="#4DAC26" fill-opacity="0.2"/>
<circle cx="374.2" cy="1635.5" r="9" fill="#4DAC26" fill-opacity="0.2"/>
<circle cx="1225.9" cy="1776.3" r="9" fill="#D01C8B" fill-opacity="0.2"/>
<circle cx="300.6" cy="1902.1" r="9" fill="#4DAC26" fill-opacity="0.2"/>
<circle cx="1269.1" cy="1916.1" r="9" fill="#D01C8B" fill-opacity="0.2"/>
<circle cx="871.6" cy="1698.2" r="9" fill="#D01C8B" fill-opacity="0.2"/>
<circle cx="1231.3" cy="1799.6" r="9" fill="#D01C8B" fill-opacity="0.2"/>
<circle cx="1257.7" cy="1575.8" r="9" fill="#D01C8B" fill-opacity="0.2"/>
<circle cx="842.4" cy="1679.8" r="9" fill="#D01C8B" fill-opacity="0.2"/>
<circle cx="379.1" cy="1665.8" r="9" fill="#4DAC26" fill-opacity="0.2"/>
<circle cx="704.4" cy="1567.7" r="9" fill="#4DAC26" fill-opacity="0.2"/>
<circle cx="460.6" cy="1930.4" r="9" fill="#D01C8B" fill-opacity="0.2"/>
<circle cx="1210.2" cy="1657.7" r="9" fill="#D01C8B" fill-opacity="0.2"/>
<circle cx="1211.3" cy="1718.7" r="9" fill="#D01C8B" fill-opacity="0.2"/>
<circle cx="374.2" cy="1592.9" r="9" fill="#4DAC26" fill-opacity="0.2"/>
<circle cx="750.3" cy="1620.6" r="9" fill="#4DAC26" fill-opacity="0.2"/>
<circle cx="1209.9" cy="1868.4" r="9" fill="#D01C8B" fill-opacity="0.2"/>
<circle cx="1270.4" cy="1648.9" r="9" fill="#D01C8B" fill-opacity="0.2"/>
<circle cx="1092.2" cy="1400.4" r="9" fill="#4DAC26" fill-opacity="0.2"/>
<circle cx="302.7" cy="1604.6" r="9" fill="#4DAC26" fill-opacity="0.2"/>
<circle cx="1099.2" cy="1614.2" r="9" fill="#4DAC26" fill-opacity="0.2"/>
<circle cx="1121.8" cy="1673.6" r="9" fill="#4DAC26" fill-opacity="0.2"/>
<circle cx="1227.6" cy="1614.2" r="9" fill="#D01C8B" fill-opacity="0.2"/>
<circle cx="1260.7" cy="1838.0" r="9" fill="#D01C8B" fill-opacity="0.2"/>
<circle cx="1040.8" cy="1614.2" r="9" fill="#4DAC26" fill-opacity="0.2"/>
<circle cx="301.9" cy="1643.5" r="9" fill="#4DAC26" fill-opacity="0.2"/>
<circle cx="352.9" cy="1628.6" r="9" fill="#4DAC26" fill-opacity="0.2"/>
<circle cx="304.8" cy="1364.8" r="9" fill="#4DAC26" fill-opacity="0.2"/>
<circle cx="1095.2" cy="1559.2" r="9" fill="#4DAC26" fill-opacity="0.2"/>
<circle cx="1082.5" cy="1462.6" r="9" fill="#4DAC26" fill-opacity="0.2"/>
<circle cx="531.9" cy="1662.9" r="9" fill="#D01C8B" fill-opacity="0.2"/>
<circle cx="690.2" cy="1589.5" r="9" fill="#4DAC26" fill-opacity="0.2"/>
<circle cx="888.9" cy="1614.2" r="9" fill="#D01C8B" fill-opacity="0.2"/>
<circle cx="1208.3" cy="1614.2" r="9" fill="#D01C8B" fill-opacity="0.2"/>
<circle cx="1194.6" cy="1614.2" r="9" fill="#D01C8B" fill-opacity="0.2"/>
<circle cx="460.1" cy="1601.2" r="9" fill="#D01C8B" fill-opacity="0.2"/>
<circle cx="683.8" cy="1600.2" r="9" fill="#4DAC26" fill-opacity="0.2"/>
<circle cx="1050.4" cy="1345.5" r="9" fill="#4DAC26" fill-opacity="0.2"/>
<circle cx="1040.3" cy="1400.6" r="9" fill="#4DAC26" fill-opacity="0.2"/>
<circle cx="1252.9" cy="1614.2" r="9" fill="#D01C8B" fill-opacity="0.2"/>
<circle cx="376.2" cy="1588.3" r="9" fill="#4DAC26" fill-opacity="0.2"/>
<circle cx="1242.8" cy="1578.6" r="9" fill="#D01C8B" fill-opacity="0.2"/>
<circle cx="1271.8" cy="1614.2" r="9" fill="#D01C8B" fill-opacity="0.2"/>
<circle cx="1077.4" cy="1557.8" r="9" fill="#4DAC26" fill-opacity="0.2"/>
<circle cx="500.0" cy="1645.4" r="9" fill="#D01C8B" fill-opacity="0.2"/>
<circle cx="675.9" cy="1631.9" r="9" fill="#4DAC26" fill-opacity="0.2"/>
<circle cx="1240.1" cy="1892.2" r="9" fill="#D01C8B" fill-opacity="0.2"/>
<circle cx="327.7" cy="1579.5" r="9" fill="#4DAC26" fill-opacity="0.2"/>
<circle cx="368.1" cy="1624.3" r="9" fill="#4DAC26" fill-opacity="0.2"/>
<circle cx="1240.0" cy="1834.4" r="9" fill="#D01C8B" fill-opacity="0.2"/>
<circle cx="521.7" cy="1633.8" r="9" fill="#D01C8B" fill-opacity="0.2"/>
<circle cx="1071.6" cy="1614.2" r="9" fill="#4DAC26" fill-opacity="0.2"/>
<circle cx="1254.7" cy="1723.3" r="9" fill="#D01C8B" fill-opacity="0.2"/>
<circle cx="1093.5" cy="1455.3" r="9" fill="#4DAC26" fill-opacity="0.2"/>
<circle cx="448.7" cy="1701.8" r="9" fill="#D01C8B" fill-opacity="0.2"/>
<circle cx="315.8" cy="1576.4" r="9" fill="#4DAC26" fill-opacity="0.2"/>
<circle cx="892.0" cy="1705.1" r="9" fill="#D01C8B" fill-opacity="0.2"/>
<circle cx="1268.8" cy="1614.2" r="9" fill="#D01C8B" fill-opacity="0.2"/>
<circle cx="1218.0" cy="1656.7" r="9" fill="#D01C8B" fill-opacity="0.2"/>
<circle cx="1048.2" cy="1351.2" r="9" fill="#4DAC26" fill-opacity="0.2"/>
<circle cx="1069.8" cy="1614.2" r="9" fill="#4DAC26" fill-opacity="0.2"/>
<circle cx="1071.4" cy="1505.4" r="9" fill="#4DAC26" fill-opacity="0.2"/>
<circle cx="825.9" cy="1668.9" r="9" fill="#D01C8B" fill-opacity="0.2"/>
<circle cx="859.7" cy="1614.2" r="9" fill="#D01C8B" fill-opacity="0.2"/>
<circle cx="1111.3" cy="1380.5" r="9" fill="#4DAC26" fill-opacity="0.2"/>
<circle cx="1213.1" cy="1920.1" r="9" fill="#D01C8B" fill-opacity="0.2"/>
<circle cx="527.8" cy="1592.3" r="9" fill="#D01C8B" fill-opacity="0.2"/>
<circle cx="333.7" cy="1769.9" r="9" fill="#4DAC26" fill-opacity="0.2"/>
<circle cx="1261.3" cy="1819.3" r="9" fill="#D01C8B" fill-opacity="0.2"/>
<circle cx="832.2" cy="1669.2" r="9" fill="#D01C8B" fill-opacity="0.2"/>
<circle cx="1214.4" cy="1710.0" r="9" fill="#D01C8B" fill-opacity="0.2"/>
<circle cx="1252.8" cy="1614.2" r="9" fill="#D01C8B" fill-opacity="0.2"/>
<circle cx="526.2" cy="1623.6" r="9" fill="#D01C8B" fill-opacity="0.2"/>
<circle cx="1260.9" cy="1836.6" r="9" fill="#D01C8B" fill-opacity="0.2"/>
<circle cx="871.1" cy="1624.1" r="9" fill="#D01C8B" fill-opacity="0.2"/>
<circle cx="1057.5" cy="1639.3" r="9" fill="#4DAC26" fill-opacity="0.2"/>
<circle cx="1211.2" cy="1614.2" r="9" fill="#D01C8B" fill-opacity="0.2"/>
<circle cx="1071.4" cy="1552.4" r="9" fill="#4DAC26" fill-opacity="0.2"/>
<circle cx="681.6" cy="1620.3" r="9" fill="#4DAC26" fill-opacity="0.2"/>
<circle cx="1215.4" cy="1901.2" r="9" fill="#D01C8B" fill-opacity="0.2"/>
<circle cx="710.9" cy="1591.3" r="9" fill="#4DAC26" fill-opacity="0.2"/>
<circle cx="818.3" cy="1673.3" r="9" fill="#D01C8B" fill-opacity="0.2"/>
<circle cx="1256.2" cy="1614.2" r="9" fill="#D01C8B" fill-opacity="0.2"/>
<circle cx="1200.2" cy="1614.2" r="9" fill="#D01C8B" fill-opacity="0.2"/>
<circle cx="448.8" cy="1620.7" r="9" fill="#D01C8B" fill-opacity="0.2"/>
<circle cx="1121.6" cy="1575.0" r="9" fill="#4DAC26" fill-opacity="0.2"/>
<circle cx="1075.9" cy="1614.2" r="9" fill="#4DAC26" fill-opacity="0.2"/>
<circle cx="490.0" cy="1648.0" r="9" fill="#D01C8B" fill-opacity="0.2"/>
<circle cx="1111.0" cy="1391.8" r="9" fill="#4DAC26" fill-opacity="0.2"/>
<circle cx="1224.8" cy="1882.5" r="9" fill="#D01C8B" fill-opacity="0.2"/>
<circle cx="301.4" cy="1555.2" r="9" fill="#4DAC26" fill-opacity="0.2"/>
<circle cx="1095.0" cy="1423.5" r="9" fill="#4DAC26" fill-opacity="0.2"/>
<circle cx="1099.1" cy="1614.2" r="9" fill="#4DAC26" fill-opacity="0.2"/>
<circle cx="676.5" cy="1452.8" r="9" fill="#4DAC26" fill-opacity="0.2"/>
<circle cx="516.2" cy="1623.7" r="9" fill="#D01C8B" fill-opacity="0.2"/>
<circle cx="1245.5" cy="1748.3" r="9" fill="#D01C8B" fill-opacity="0.2"/>
<circle cx="718.4" cy="1604.2" r="9" fill="#4DAC26" fill-opacity="0.2"/>
<circle cx="1048.6" cy="1614.2" r="9" fill="#4DAC26" fill-opacity="0.2"/>
<circle cx="747.0" cy="1595.1" r="9" fill="#4DAC26" fill-opacity="0.2"/>
<circle cx="1247.2" cy="1687.0" r="9" fill="#D01C8B" fill-opacity="0.2"/>
<circle cx="309.2" cy="1612.5" r="9" fill="#4DAC26" fill-opacity="0.2"/>
<circle cx="1200.5" cy="1614.2" r="9" fill="#D01C8B" fill-opacity="0.2"/>
<circle cx="1041.9" cy="1550.7" r="9" fill="#4DAC26" fill-opacity="0.2"/>
<circle cx="352.1" cy="1604.7" r="9" fill="#4DAC26" fill-opacity="0.2"/>
<circle cx="1050.6" cy="1462.8" r="9" fill="#4DAC26" fill-opacity="0.2"/>
<circle cx="856.1" cy="1654.2" r="9" fill="#D01C8B" fill-opacity="0.2"/>
<circle cx="360.5" cy="1666.3" r="9" fill="#4DAC26" fill-opacity="0.2"/>
<circle cx="821.5" cy="1627.1" r="9" fill="#D01C8B" fill-opacity="0.2"/>
<circle cx="338.1" cy="1600.4" r="9" fill="#4DAC26" fill-opacity="0.2"/>
<circle cx="464.8" cy="1619.9" r="9" fill="#D01C8B" fill-opacity="0.2"/>
<circle cx="305.6" cy="1626.9" r="9" fill="#4DAC26" fill-opacity="0.2"/>
<circle cx="1085.6" cy="1646.9" r="9" fill="#4DAC26" fill-opacity="0.2"/>
<circle cx="1230.5" cy="1696.5" r="9" fill="#D01C8B" fill-opacity="0.2"/>
<circle cx="1104.7" cy="1614.2" r="9" fill="#4DAC26" fill-opacity="0.2"/>
<circle cx="1233.4" cy="1614.2" r="9" fill="#D01C8B" fill-opacity="0.2"/>
<circle cx="1199.1" cy="1672.0" r="9" fill="#D01C8B" fill-opacity="0.2"/>
<circle cx="1243.9" cy="1679.0" r="9" fill="#D01C8B" fill-opacity="0.2"/>
<circle cx="1218.9" cy="1596.4" r="9" fill="#D01C8B" fill-opacity="0.2"/>
<circle cx="681.4" cy="1553.8" r="9" fill="#4DAC26" fill-opacity="0.2"/>
<circle cx="1119.8" cy="1614.2" r="9" fill="#4DAC26" fill-opacity="0.2"/>
<circle cx="735.0" cy="1480.7" r="9" fill="#4DAC26" fill-opacity="0.2"/>
<circle cx="473.3" cy="1677.8" r="9" fill="#D01C8B" fill-opacity="0.2"/>
<circle cx="1269.4" cy="1614.2" r="9" fill="#D01C8B" fill-opacity="0.2"/>
<circle cx="1103.4" cy="1614.2" r="9" fill="#4DAC26" fill-opacity="0.2"/>
<circle cx="478.4" cy="1706.3" r="9" fill="#D01C8B" fill-opacity="0.2"/>
<circle cx="729.5" cy="1598.5" r="9" fill="#4DAC26" fill-opacity="0.2"/>
<circle cx="1125.4" cy="1459.6" r="9" fill="#4DAC26" fill-opacity="0.2"/>
<circle cx="1256.1" cy="1708.1" r="9" fill="#D01C8B" fill-opacity="0.2"/>
<circle cx="681.6" cy="1465.5" r="9" fill="#4DAC26" fill-opacity="0.2"/>
<circle cx="315.5" cy="1635.9" r="9" fill="#4DAC26" fill-opacity="0.2"/>
<circle cx="741.8" cy="1598.5" r="9" fill="#4DAC26" fill-opacity="0.2"/>
<circle cx="879.7" cy="1627.1" r="9" fill="#D01C8B" fill-opacity="0.2"/>
<circle cx="1073.9" cy="1535.8" r="9" fill="#4DAC26" fill-opacity="0.2"/>
<circle cx="1051.2" cy="1632.6" r="9" fill="#4DAC26" fill-opacity="0.2"/>
<circle cx="1233.4" cy="1779.7" r="9" fill="#D01C8B" fill-opacity="0.2"/>
<circle cx="1100.3" cy="1614.2" r="9" fill="#4DAC26" fill-opacity="0.2"/>
<circle cx="1083.9" cy="1614.2" r="9" fill="#4DAC26" fill-opacity="0.2"/>
<circle cx="816.2" cy="1571.9" r="9" fill="#D01C8B" fill-opacity="0.2"/>
<circle cx="1203.9" cy="1699.7" r="9" fill="#D01C8B" fill-opacity="0.2"/>
<circle cx="1054.0" cy="1360.0" r="9" fill="#4DAC26" fill-opacity="0.2"/>
<circle cx="1263.3" cy="1614.2" r="9" fill="#D01C8B" fill-opacity="0.2"/>
<circle cx="1191.8" cy="1614.2" r="9" fill="#D01C8B" fill-opacity="0.2"/>
<circle cx="838.8" cy="1623.3" r="9" fill="#D01C8B" fill-opacity="0.2"/>
<circle cx="1253.7" cy="1701.9" r="9" fill="#D01C8B" fill-opacity="0.2"/>
<circle cx="1273.2" cy="1932.0" r="9" fill="#D01C8B" fill-opacity="0.2"/>
<circle cx="1230.5" cy="1891.2" r="9" fill="#D01C8B" fill-opacity="0.2"/>
<circle cx="679.8" cy="1631.6" r="9" fill="#4DAC26" fill-opacity="0.2"/>
<circle cx="1084.1" cy="1506.1" r="9" fill="#4DAC26" fill-opacity="0.2"/>
<circle cx="1066.4" cy="1614.2" r="9" fill="#4DAC26" fill-opacity="0.2"/>
<circle cx="1062.3" cy="1412.2" r="9" fill="#4DAC26" fill-opacity="0.2"/>
<circle cx="1057.2" cy="1614.2" r="9" fill="#4DAC26" fill-opacity="0.2"/>
<circle cx="496.2" cy="1772.8" r="9" fill="#D01C8B" fill-opacity="0.2"/>
<circle cx="1061.2" cy="1328.2" r="9" fill="#4DAC26" fill-opacity="0.2"/>
<circle cx="897.8" cy="1645.3" r="9" fill="#D01C8B" fill-opacity="0.2"/>
<circle cx="1072.8" cy="1614.2" r="9" fill="#4DAC26" fill-opacity="0.2"/>
<circle cx="383.4" cy="1560.6" r="9" fill="#4DAC26" fill-opacity="0.2"/>
<circle cx="373.6" cy="1607.7" r="9" fill="#4DAC26" fill-opacity="0.2"/>
<circle cx="707.7" cy="1562.1" r="9" fill="#4DAC26" fill-opacity="0.2"/>
<circle cx="1077.1" cy="1360.0" r="9" fill="#4DAC26" fill-opacity="0.2"/>
<circle cx="475.5" cy="1614.4" r="9" fill="#D01C8B" fill-opacity="0.2"/>
<circle cx="1043.9" cy="1614.2" r="9" fill="#4DAC26" fill-opacity="0.2"/>
<circle cx="1061.6" cy="1617.4" r="9" fill="#4DAC26" fill-opacity="0.2"/>
<circle cx="1042.3" cy="1391.8" r="9" fill="#4DAC26" fill-opacity="0.2"/>
<circle cx="457.0" cy="1663.1" r="9" fill="#D01C8B" fill-opacity="0.2"/>
<circle cx="732.2" cy="1599.2" r="9" fill="#4DAC26" fill-opacity="0.2"/>
<circle cx="825.6" cy="1613.4" r="9" fill="#D01C8B" fill-opacity="0.2"/>
<circle cx="676.5" cy="1765.1" r="9" fill="#4DAC26" fill-opacity="0.2"/>
<circle cx="529.9" cy="1680.4" r="9" fill="#D01C8B" fill-opacity="0.2"/>
<circle cx="732.3" cy="1650.0" r="9" fill="#4DAC26" fill-opacity="0.2"/>
<circle cx="339.7" cy="1575.0" r="9" fill="#4DAC26" fill-opacity="0.2"/>
<circle cx="380.6" cy="1596.2" r="9" fill="#4DAC26" fill-opacity="0.2"/>
<circle cx="1240.7" cy="1912.8" r="9" fill="#D01C8B" fill-opacity="0.2"/>
<circle cx="1068.9" cy="1445.0" r="9" fill="#4DAC26" fill-opacity="0.2"/>
<circle cx="508.7" cy="1627.6" r="9" fill="#D01C8B" fill-opacity="0.2"/>
<circle cx="346.8" cy="1620.1" r="9" fill="#4DAC26" fill-opacity="0.2"/>
<circle cx="742.6" cy="1671.1" r="9" fill="#4DAC26" fill-opacity="0.2"/>
<circle cx="374.8" cy="1569.2" r="9" fill="#4DAC26" fill-opacity="0.2"/>
<circle cx="1051.8" cy="1598.7" r="9" fill="#4DAC26" fill-opacity="0.2"/>
<circle cx="1107.5" cy="1622.7" r="9" fill="#4DAC26" fill-opacity="0.2"/>
<circle cx="1189.3" cy="1806.9" r="9" fill="#D01C8B" fill-opacity="0.2"/>
<circle cx="872.3" cy="1617.3" r="9" fill="#D01C8B" fill-opacity="0.2"/>
<circle cx="1038.9" cy="1585.8" r="9" fill="#4DAC26" fill-opacity="0.2"/>
<circle cx="1224.6" cy="1845.1" r="9" fill="#D01C8B" fill-opacity="0.2"/>
<circle cx="1078.8" cy="1573.4" r="9" fill="#4DAC26" fill-opacity="0.2"/>
<circle cx="333.1" cy="1484.6" r="9" fill="#4DAC26" fill-opacity="0.2"/>
<circle cx="674.5" cy="1645.6" r="9" fill="#4DAC26" fill-opacity="0.2"/>
<circle cx="1108.4" cy="1739.7" r="9" fill="#4DAC26" fill-opacity="0.2"/>
<circle cx="896.1" cy="1678.5" r="9" fill="#D01C8B" fill-opacity="0.2"/>
<circle cx="535.4" cy="1705.1" r="9" fill="#D01C8B" fill-opacity="0.2"/>
<circle cx="470.4" cy="1700.0" r="9" fill="#D01C8B" fill-opacity="0.2"/>
<circle cx="323.8" cy="1602.4" r="9" fill="#4DAC26" fill-opacity="0.2"/>
<circle cx="1198.0" cy="1614.2" r="9" fill="#D01C8B" fill-opacity="0.2"/>
<circle cx="1222.0" cy="1758.5" r="9" fill="#D01C8B" fill-opacity="0.2"/>
<circle cx="1110.2" cy="1614.2" r="9" fill="#4DAC26" fill-opacity="0.2"/>
<circle cx="897.6" cy="1590.7" r="9" fill="#D01C8B" fill-opacity="0.2"/>
<circle cx="755.2" cy="1614.2" r="9" fill="#4DAC26" fill-opacity="0.2"/>
<circle cx="1123.4" cy="1541.6" r="9" fill="#4DAC26" fill-opacity="0.2"/>
<circle cx="525.7" cy="1649.2" r="9" fill="#D01C8B" fill-opacity="0.2"/>
<circle cx="1230.6" cy="1614.2" r="9" fill="#D01C8B" fill-opacity="0.2"/>
<circle cx="860.5" cy="1659.5" r="9" fill="#D01C8B" fill-opacity="0.2"/>
<circle cx="1219.0" cy="1693.0" r="9" fill="#D01C8B" fill-opacity="0.2"/>
<circle cx="1043.0" cy="1360.0" r="9" fill="#4DAC26" fill-opacity="0.2"/>
<circle cx="304.1" cy="1601.3" r="9" fill="#4DAC26" fill-opacity="0.2"/>
<circle cx="889.9" cy="1358.7" r="9" fill="#D01C8B" fill-opacity="0.2"/>
<circle cx="1113.1" cy="1595.1" r="9" fill="#4DAC26" fill-opacity="0.2"/>
<circle cx="460.6" cy="1775.3" r="9" fill="#D01C8B" fill-opacity="0.2"/>
<circle cx="510.6" cy="1533.5" r="9" fill="#D01C8B" fill-opacity="0.2"/>
<circle cx="1256.8" cy="1633.9" r="9" fill="#D01C8B" fill-opacity="0.2"/>
<circle cx="724.1" cy="1620.4" r="9" fill="#4DAC26" fill-opacity="0.2"/>
<circle cx="460.1" cy="1582.4" r="9" fill="#D01C8B" fill-opacity="0.2"/>
<circle cx="692.7" cy="1608.2" r="9" fill="#4DAC26" fill-opacity="0.2"/>
<circle cx="852.2" cy="1645.4" r="9" fill="#D01C8B" fill-opacity="0.2"/>
<circle cx="1072.7" cy="1614.2" r="9" fill="#4DAC26" fill-opacity="0.2"/>
<circle cx="1040.5" cy="1600.6" r="9" fill="#4DAC26" fill-opacity="0.2"/>
<circle cx="1188.5" cy="1651.7" r="9" fill="#D01C8B" fill-opacity="0.2"/>
<circle cx="711.1" cy="1603.6" r="9" fill="#4DAC26" fill-opacity="0.2"/>
<circle cx="339.9" cy="1654.5" r="9" fill="#4DAC26" fill-opacity="0.2"/>
<circle cx="331.0" cy="1422.6" r="9" fill="#4DAC26" fill-opacity="0.2"/>
<circle cx="1105.0" cy="1465.8" r="9" fill="#4DAC26" fill-opacity="0.2"/>
<circle cx="1240.2" cy="1614.2" r="9" fill="#D01C8B" fill-opacity="0.2"/>
<circle cx="1191.7" cy="1614.2" r="9" fill="#D01C8B" fill-opacity="0.2"/>
<circle cx="490.8" cy="1646.4" r="9" fill="#D01C8B" fill-opacity="0.2"/>
<circle cx="497.2" cy="1681.7" r="9" fill="#D01C8B" fill-opacity="0.2"/>
<circle cx="1208.7" cy="1614.2" r="9" fill="#D01C8B" fill-opacity="0.2"/>
<circle cx="382.7" cy="1551.2" r="9" fill="#4DAC26" fill-opacity="0.2"/>
<circle cx="1119.0" cy="1595.0" r="9" fill="#4DAC26" fill-opacity="0.2"/>
<circle cx="712.1" cy="1516.3" r="9" fill="#4DAC26" fill-opacity="0.2"/>
<circle cx="1216.0" cy="1891.2" r="9" fill="#D01C8B" fill-opacity="0.2"/>
<circle cx="1223.9" cy="1626.3" r="9" fill="#D01C8B" fill-opacity="0.2"/>
<circle cx="1222.3" cy="1614.2" r="9" fill="#D01C8B" fill-opacity="0.2"/>
<circle cx="1111.5" cy="1449.3" r="9" fill="#4DAC26" fill-opacity="0.2"/>
<circle cx="826.4" cy="1869.4" r="9" fill="#D01C8B" fill-opacity="0.2"/>
<circle cx="1117.0" cy="1423.5" r="9" fill="#4DAC26" fill-opacity="0.2"/>
<circle cx="695.3" cy="1595.4" r="9" fill="#4DAC26" fill-opacity="0.2"/>
<circle cx="1194.0" cy="1614.2" r="9" fill="#D01C8B" fill-opacity="0.2"/>
<circle cx="1213.1" cy="1915.1" r="9" fill="#D01C8B" fill-opacity="0.2"/>
<circle cx="519.6" cy="1685.9" r="9" fill="#D01C8B" fill-opacity="0.2"/>
<circle cx="867.5" cy="1588.8" r="9" fill="#D01C8B" fill-opacity="0.2"/>
<circle cx="1044.8" cy="1599.2" r="9" fill="#4DAC26" fill-opacity="0.2"/>
<circle cx="1124.2" cy="1614.2" r="9" fill="#4DAC26" fill-opacity="0.2"/>
<circle cx="1241.9" cy="1614.2" r="9" fill="#D01C8B" fill-opacity="0.2"/>
<circle cx="903.7" cy="1709.0" r="9" fill="#D01C8B" fill-opacity="0.2"/>
<circle cx="1108.6" cy="1614.2" r="9" fill="#4DAC26" fill-opacity="0.2"/>
<circle cx="325.8" cy="1602.5" r="9" fill="#4DAC26" fill-opacity="0.2"/>
<circle cx="1218.3" cy="1921.8" r="9" fill="#D01C8B" fill-opacity="0.2"/>
<circle cx="818.8" cy="1747.3" r="9" fill="#D01C8B" fill-opacity="0.2"/>
<circle cx="881.3" cy="1630.7" r="9" fill="#D01C8B" fill-opacity="0.2"/>
<circle cx="386.8" cy="1614.8" r="9" fill="#4DAC26" fill-opacity="0.2"/>
<circle cx="902.6" cy="1605.4" r="9" fill="#D01C8B" fill-opacity="0.2"/>
<circle cx="491.2" cy="1673.0" r="9" fill="#D01C8B" fill-opacity="0.2"/>
<circle cx="1072.0" cy="1334.5" r="9" fill="#4DAC26" fill-opacity="0.2"/>
<circle cx="866.3" cy="1589.9" r="9" fill="#D01C8B" fill-opacity="0.2"/>
<circle cx="1266.9" cy="1614.2" r="9" fill="#D01C8B" fill-opacity="0.2"/>
<circle cx="473.7" cy="1647.8" r="9" fill="#D01C8B" fill-opacity="0.2"/>
<circle cx="1046.6" cy="1582.4" r="9" fill="#4DAC26" fill-opacity="0.2"/>
<circle cx="534.3" cy="1711.7" r="9" fill="#D01C8B" fill-opacity="0.2"/>
<circle cx="477.1" cy="1659.8" r="9" fill="#D01C8B" fill-opacity="0.2"/>
<circle cx="368.7" cy="1596.5" r="9" fill="#4DAC26" fill-opacity="0.2"/>
<circle cx="1103.8" cy="1570.1" r="9" fill="#4DAC26" fill-opacity="0.2"/>
<circle cx="502.3" cy="1581.3" r="9" fill="#D01C8B" fill-opacity="0.2"/>
<circle cx="504.3" cy="1623.3" r="9" fill="#D01C8B" fill-opacity="0.2"/>
<circle cx="341.1" cy="1666.2" r="9" fill="#4DAC26" fill-opacity="0.2"/>
<circle cx="369.1" cy="1414.0" r="9" fill="#4DAC26" fill-opacity="0.2"/>
<circle cx="1259.6" cy="1619.0" r="9" fill="#D01C8B" fill-opacity="0.2"/>
<circle cx="735.0" cy="1930.4" r="9" fill="#4DAC26" fill-opacity="0.2"/>
<circle cx="1224.9" cy="1743.7" r="9" fill="#D01C8B" fill-opacity="0.2"/>
<circle cx="1246.5" cy="1764.7" r="9" fill="#D01C8B" fill-opacity="0.2"/>
<circle cx="499.1" cy="1614.2" r="9" fill="#D01C8B" fill-opacity="0.2"/>
<circle cx="371.9" cy="1562.1" r="9" fill="#4DAC26" fill-opacity="0.2"/>
<circle cx="1124.0" cy="1709.5" r="9" fill="#4DAC26" fill-opacity="0.2"/>
<circle cx="1054.6" cy="1614.2" r="9" fill="#4DAC26" fill-opacity="0.2"/>
<circle cx="671.5" cy="1386.7" r="9" fill="#4DAC26" fill-opacity="0.2"/>
<circle cx="1214.3" cy="1820.6" r="9" fill="#D01C8B" fill-opacity="0.2"/>
<circle cx="1201.6" cy="1865.4" r="9" fill="#D01C8B" fill-opacity="0.2"/>
<circle cx="1071.4" cy="1559.0" r="9" fill="#4DAC26" fill-opacity="0.2"/>
<circle cx="457.7" cy="1661.6" r="9" fill="#D01C8B" fill-opacity="0.2"/>
<circle cx="1106.3" cy="1481.6" r="9" fill="#4DAC26" fill-opacity="0.2"/>
<circle cx="1214.8" cy="1614.2" r="9" fill="#D01C8B" fill-opacity="0.2"/>
<circle cx="478.4" cy="1650.6" r="9" fill="#D01C8B" fill-opacity="0.2"/>
<circle cx="1041.2" cy="1358.7" r="9" fill="#4DAC26" fill-opacity="0.2"/>
<circle cx="1109.8" cy="1528.2" r="9" fill="#4DAC26" fill-opacity="0.2"/>
<circle cx="671.7" cy="1614.2" r="9" fill="#4DAC26" fill-opacity="0.2"/>
<circle cx="473.4" cy="1607.1" r="9" fill="#D01C8B" fill-opacity="0.2"/>
<circle cx="1192.4" cy="1775.8" r="9" fill="#D01C8B" fill-opacity="0.2"/>
<circle cx="750.9" cy="1562.0" r="9" fill="#4DAC26" fill-opacity="0.2"/>
<circle cx="865.5" cy="1602.1" r="9" fill="#D01C8B" fill-opacity="0.2"/>
<circle cx="1099.8" cy="1526.4" r="9" fill="#4DAC26" fill-opacity="0.2"/>
<circle cx="1093.8" cy="1693.6" r="9" fill="#4DAC26" fill-opacity="0.2"/>
<circle cx="905.1" cy="1742.3" r="9" fill="#D01C8B" fill-opacity="0.2"/>
<circle cx="1092.2" cy="1550.7" r="9" fill="#4DAC26" fill-opacity="0.2"/>
<circle cx="1042.9" cy="1543.3" r="9" fill="#4DAC26" fill-opacity="0.2"/>
<circle cx="1064.3" cy="1674.1" r="9" fill="#4DAC26" fill-opacity="0.2"/>
<circle cx="512.5" cy="1662.6" r="9" fill="#D01C8B" fill-opacity="0.2"/>
<circle cx="1222.1" cy="1614.2" r="9" fill="#D01C8B" fill-opacity="0.2"/>
<circle cx="1230.1" cy="1903.1" r="9" fill="#D01C8B" fill-opacity="0.2"/>
<circle cx="1199.4" cy="1655.0" r="9" fill="#D01C8B" fill-opacity="0.2"/>
<circle cx="467.5" cy="1626.7" r="9" fill="#D01C8B" fill-opacity="0.2"/>
<circle cx="703.5" cy="1620.2" r="9" fill="#4DAC26" fill-opacity="0.2"/>
<circle cx="1213.1" cy="1647.1" r="9" fill="#D01C8B" fill-opacity="0.2"/>
<circle cx="1043.4" cy="1415.3" r="9" fill="#4DAC26" fill-opacity="0.2"/>
<circle cx="701.6" cy="1614.2" r="9" fill="#4DAC26" fill-opacity="0.2"/>
<circle cx="1225.8" cy="1691.4" r="9" fill="#D01C8B" fill-opacity="0.2"/>
<circle cx="1216.1" cy="1662.6" r="9" fill="#D01C8B" fill-opacity="0.2"/>
<circle cx="1239.4" cy="1687.3" r="9" fill="#D01C8B" fill-opacity="0.2"/>
<circle cx="1205.2" cy="1643.6" r="9" fill="#D01C8B" fill-opacity="0.2"/>
<circle cx="1215.1" cy="1614.2" r="9" fill="#D01C8B" fill-opacity="0.2"/>
<circle cx="714.1" cy="1558.4" r="9" fill="#4DAC26" fill-opacity="0.2"/>
<circle cx="381.7" cy="1653.5" r="9" fill="#4DAC26" fill-opacity="0.2"/>
<circle cx="676.5" cy="1549.1" r="9" fill="#4DAC26" fill-opacity="0.2"/>
<circle cx="887.3" cy="1506.2" r="9" fill="#D01C8B" fill-opacity="0.2"/>
<circle cx="487.6" cy="1636.3" r="9" fill="#D01C8B" fill-opacity="0.2"/>
<circle cx="1098.3" cy="1588.9" r="9" fill="#4DAC26" fill-opacity="0.2"/>
<circle cx="1255.1" cy="1871.8" r="9" fill="#D01C8B" fill-opacity="0.2"/>
<circle cx="872.1" cy="1493.5" r="9" fill="#D01C8B" fill-opacity="0.2"/>
<circle cx="1258.2" cy="1872.4" r="9" fill="#D01C8B" fill-opacity="0.2"/>
<circle cx="1231.4" cy="1614.2" r="9" fill="#D01C8B" fill-opacity="0.2"/>
<circle cx="1046.2" cy="1296.5" r="9" fill="#4DAC26" fill-opacity="0.2"/>
<circle cx="1233.9" cy="1614.2" r="9" fill="#D01C8B" fill-opacity="0.2"/>
<circle cx="534.2" cy="1623.2" r="9" fill="#D01C8B" fill-opacity="0.2"/>
<circle cx="1232.7" cy="1614.2" r="9" fill="#D01C8B" fill-opacity="0.2"/>
<circle cx="1076.7" cy="1549.9" r="9" fill="#4DAC26" fill-opacity="0.2"/>
<circle cx="1196.9" cy="1932.0" r="9" fill="#D01C8B" fill-opacity="0.2"/>
<circle cx="1047.3" cy="1602.4" r="9" fill="#4DAC26" fill-opacity="0.2"/>
<circle cx="673.4" cy="1553.9" r="9" fill="#4DAC26" fill-opacity="0.2"/>
<circle cx="1043.7" cy="1296.5" r="9" fill="#4DAC26" fill-opacity="0.2"/>
<circle cx="1215.0" cy="1722.3" r="9" fill="#D01C8B" fill-opacity="0.2"/>
<circle cx="530.0" cy="1588.7" r="9" fill="#D01C8B" fill-opacity="0.2"/>
<circle cx="1080.6" cy="1564.7" r="9" fill="#4DAC26" fill-opacity="0.2"/>
<circle cx="1054.7" cy="1614.2" r="9" fill="#4DAC26" fill-opacity="0.2"/>
<circle cx="1261.6" cy="1839.8" r="9" fill="#D01C8B" fill-opacity="0.2"/>
<circle cx="383.1" cy="1565.3" r="9" fill="#4DAC26" fill-opacity="0.2"/>
<circle cx="337.0" cy="1658.2" r="9" fill="#4DAC26" fill-opacity="0.2"/>
<circle cx="1209.1" cy="1614.2" r="9" fill="#D01C8B" fill-opacity="0.2"/>
<circle cx="361.8" cy="1614.2" r="9" fill="#4DAC26" fill-opacity="0.2"/>
<circle cx="1124.2" cy="1533.4" r="9" fill="#4DAC26" fill-opacity="0.2"/>
<circle cx="484.4" cy="1640.1" r="9" fill="#D01C8B" fill-opacity="0.2"/>
<circle cx="1122.7" cy="1614.2" r="9" fill="#4DAC26" fill-opacity="0.2"/>
<circle cx="1075.3" cy="1355.2" r="9" fill="#4DAC26" fill-opacity="0.2"/>
<circle cx="1065.0" cy="1304.9" r="9" fill="#4DAC26" fill-opacity="0.2"/>
<circle cx="839.1" cy="1559.2" r="9" fill="#D01C8B" fill-opacity="0.2"/>
<circle cx="1228.1" cy="1674.0" r="9" fill="#D01C8B" fill-opacity="0.2"/>
<circle cx="481.5" cy="1619.2" r="9" fill="#D01C8B" fill-opacity="0.2"/>
<circle cx="841.6" cy="1727.7" r="9" fill="#D01C8B" fill-opacity="0.2"/>
<circle cx="1101.6" cy="1614.2" r="9" fill="#4DAC26" fill-opacity="0.2"/>
<circle cx="1093.2" cy="1614.2" r="9" fill="#4DAC26" fill-opacity="0.2"/>
<circle cx="1254.0" cy="1635.9" r="9" fill="#D01C8B" fill-opacity="0.2"/>
<circle cx="859.4" cy="1858.9" r="9" fill="#D01C8B" fill-opacity="0.2"/>
<circle cx="350.8" cy="1646.4" r="9" fill="#4DAC26" fill-opacity="0.2"/>
<circle cx="1240.3" cy="1798.9" r="9" fill="#D01C8B" fill-opacity="0.2"/>
<circle cx="1267.1" cy="1773.1" r="9" fill="#D01C8B" fill-opacity="0.2"/>
<circle cx="514.5" cy="1615.7" r="9" fill="#D01C8B" fill-opacity="0.2"/>
<circle cx="1047.9" cy="1632.4" r="9" fill="#4DAC26" fill-opacity="0.2"/>
<circle cx="1212.8" cy="1756.9" r="9" fill="#D01C8B" fill-opacity="0.2"/>
<circle cx="325.7" cy="1614.2" r="9" fill="#4DAC26" fill-opacity="0.2"/>
<circle cx="1246.1" cy="1798.3" r="9" fill="#D01C8B" fill-opacity="0.2"/>
<circle cx="1077.8" cy="1662.0" r="9" fill="#4DAC26" fill-opacity="0.2"/>
<circle cx="844.9" cy="1623.2" r="9" fill="#D01C8B" fill-opacity="0.2"/>
<circle cx="333.0" cy="1616.3" r="9" fill="#4DAC26" fill-opacity="0.2"/>
<circle cx="1203.0" cy="1932.0" r="9" fill="#D01C8B" fill-opacity="0.2"/>
<circle cx="1250.7" cy="1807.6" r="9" fill="#D01C8B" fill-opacity="0.2"/>
<circle cx="1250.2" cy="1614.2" r="9" fill="#D01C8B" fill-opacity="0.2"/>
<circle cx="1048.7" cy="1668.0" r="9" fill="#4DAC26" fill-opacity="0.2"/>
<circle cx="1236.3" cy="1781.6" r="9" fill="#D01C8B" fill-opacity="0.2"/>
<circle cx="509.5" cy="1516.3" r="9" fill="#D01C8B" fill-opacity="0.2"/>
<circle cx="308.3" cy="1803.3" r="9" fill="#4DAC26" fill-opacity="0.2"/>
<circle cx="1232.4" cy="1932.0" r="9" fill="#D01C8B" fill-opacity="0.2"/>
<circle cx="365.1" cy="1606.6" r="9" fill="#4DAC26" fill-opacity="0.2"/>
<circle cx="318.4" cy="1680.9" r="9" fill="#4DAC26" fill-opacity="0.2"/>
<circle cx="1259.7" cy="1773.1" r="9" fill="#D01C8B" fill-opacity="0.2"/>
<circle cx="1041.8" cy="1614.2" r="9" fill="#4DAC26" fill-opacity="0.2"/>
<circle cx="1098.9" cy="1634.0" r="9" fill="#4DAC26" fill-opacity="0.2"/>
<circle cx="1110.3" cy="1558.9" r="9" fill="#4DAC26" fill-opacity="0.2"/>
<circle cx="384.9" cy="1587.8" r="9" fill="#4DAC26" fill-opacity="0.2"/>
<circle cx="1081.9" cy="1407.4" r="9" fill="#4DAC26" fill-opacity="0.2"/>
<circle cx="453.0" cy="1836.3" r="9" fill="#D01C8B" fill-opacity="0.2"/>
<circle cx="854.2" cy="1614.2" r="9" fill="#D01C8B" fill-opacity="0.2"/>
<circle cx="1061.6" cy="1471.9" r="9" fill="#4DAC26" fill-opacity="0.2"/>
<circle cx="724.2" cy="1639.4" r="9" fill="#4DAC26" fill-opacity="0.2"/>
<circle cx="1041.6" cy="1600.4" r="9" fill="#4DAC26" fill-opacity="0.2"/>
<circle cx="700.2" cy="1560.5" r="9" fill="#4DAC26" fill-opacity="0.2"/>
<circle cx="1248.9" cy="1659.4" r="9" fill="#D01C8B" fill-opacity="0.2"/>
<circle cx="839.1" cy="1871.6" r="9" fill="#D01C8B" fill-opacity="0.2"/>
<circle cx="1226.3" cy="1932.0" r="9" fill="#D01C8B" fill-opacity="0.2"/>
<circle cx="856.2" cy="1627.1" r="9" fill="#D01C8B" fill-opacity="0.2"/>
<circle cx="1091.2" cy="1365.4" r="9" fill="#4DAC26" fill-opacity="0.2"/>
<circle cx="320.0" cy="1483.9" r="9" fill="#4DAC26" fill-opacity="0.2"/>
<circle cx="451.2" cy="1607.8" r="9" fill="#D01C8B" fill-opacity="0.2"/>
<circle cx="1189.9" cy="1652.8" r="9" fill="#D01C8B" fill-opacity="0.2"/>
<circle cx="466.8" cy="1647.2" r="9" fill="#D01C8B" fill-opacity="0.2"/>
<circle cx="1092.4" cy="1614.2" r="9" fill="#4DAC26" fill-opacity="0.2"/>
<circle cx="1256.8" cy="1768.0" r="9" fill="#D01C8B" fill-opacity="0.2"/>
<circle cx="1206.2" cy="1750.8" r="9" fill="#D01C8B" fill-opacity="0.2"/>
<circle cx="1085.1" cy="1345.7" r="9" fill="#4DAC26" fill-opacity="0.2"/>
<circle cx="1223.6" cy="1706.6" r="9" fill="#D01C8B" fill-opacity="0.2"/>
<circle cx="491.3" cy="1614.2" r="9" fill="#D01C8B" fill-opacity="0.2"/>
<circle cx="836.2" cy="1614.2" r="9" fill="#D01C8B" fill-opacity="0.2"/>
<circle cx="495.6" cy="1653.6" r="9" fill="#D01C8B" fill-opacity="0.2"/>
<circle cx="1197.9" cy="1614.2" r="9" fill="#D01C8B" fill-opacity="0.2"/>
<circle cx="1057.9" cy="1582.4" r="9" fill="#4DAC26" fill-opacity="0.2"/>
<circle cx="335.6" cy="1555.8" r="9" fill="#4DAC26" fill-opacity="0.2"/>
<circle cx="711.8" cy="1639.8" r="9" fill="#4DAC26" fill-opacity="0.2"/>
<circle cx="1208.6" cy="1889.3" r="9" fill="#D01C8B" fill-opacity="0.2"/>
<circle cx="1116.9" cy="1471.2" r="9" fill="#4DAC26" fill-opacity="0.2"/>
<circle cx="357.0" cy="1577.0" r="9" fill="#4DAC26" fill-opacity="0.2"/>
<circle cx="732.7" cy="1659.9" r="9" fill="#4DAC26" fill-opacity="0.2"/>
<circle cx="1252.8" cy="1666.4" r="9" fill="#D01C8B" fill-opacity="0.2"/>
<circle cx="879.7" cy="1782.6" r="9" fill="#D01C8B" fill-opacity="0.2"/>
<circle cx="1240.2" cy="1636.8" r="9" fill="#D01C8B" fill-opacity="0.2"/>
<circle cx="300.9" cy="1546.2" r="9" fill="#4DAC26" fill-opacity="0.2"/>
<circle cx="489.3" cy="1609.1" r="9" fill="#D01C8B" fill-opacity="0.2"/>
<circle cx="1197.8" cy="1614.2" r="9" fill="#D01C8B" fill-opacity="0.2"/>
<circle cx="836.1" cy="1621.2" r="9" fill="#D01C8B" fill-opacity="0.2"/>
<circle cx="1056.0" cy="1614.2" r="9" fill="#4DAC26" fill-opacity="0.2"/>
<circle cx="715.1" cy="1628.0" r="9" fill="#4DAC26" fill-opacity="0.2"/>
<circle cx="1124.0" cy="1433.7" r="9" fill="#4DAC26" fill-opacity="0.2"/>
<circle cx="318.9" cy="1555.1" r="9" fill="#4DAC26" fill-opacity="0.2"/>
<circle cx="1186.2" cy="1614.2" r="9" fill="#D01C8B" fill-opacity="0.2"/>
<circle cx="669.6" cy="1582.9" r="9" fill="#4DAC26" fill-opacity="0.2"/>
<circle cx="744.5" cy="1638.7" r="9" fill="#4DAC26" fill-opacity="0.2"/>
<circle cx="827.4" cy="1645.8" r="9" fill="#D01C8B" fill-opacity="0.2"/>
<circle cx="1048.0" cy="1614.2" r="9" fill="#4DAC26" fill-opacity="0.2"/>
<circle cx="1195.4" cy="1692.9" r="9" fill="#D01C8B" fill-opacity="0.2"/>
<circle cx="304.8" cy="1460.7" r="9" fill="#4DAC26" fill-opacity="0.2"/>
<circle cx="1075.9" cy="1664.4" r="9" fill="#4DAC26" fill-opacity="0.2"/>
<circle cx="1270.0" cy="1643.8" r="9" fill="#D01C8B" fill-opacity="0.2"/>
<circle cx="691.8" cy="1320.6" r="9" fill="#4DAC26" fill-opacity="0.2"/>
<circle cx="1258.6" cy="1801.2" r="9" fill="#D01C8B" fill-opacity="0.2"/>
<circle cx="1244.1" cy="1861.8" r="9" fill="#D01C8B" fill-opacity="0.2"/>
<circle cx="822.6" cy="1682.6" r="9" fill="#D01C8B" fill-opacity="0.2"/>
<circle cx="1199.3" cy="1702.5" r="9" fill="#D01C8B" fill-opacity="0.2"/>
<circle cx="899.6" cy="1597.2" r="9" fill="#D01C8B" fill-opacity="0.2"/>
<circle cx="852.7" cy="1639.4" r="9" fill="#D01C8B" fill-opacity="0.2"/>
<circle cx="1071.3" cy="1427.1" r="9" fill="#4DAC26" fill-opacity="0.2"/>
<circle cx="840.8" cy="1615.8" r="9" fill="#D01C8B" fill-opacity="0.2"/>
<circle cx="300.6" cy="1664.9" r="9" fill="#4DAC26" fill-opacity="0.2"/>
<circle cx="1080.0" cy="1592.1" r="9" fill="#4DAC26" fill-opacity="0.2"/>
<circle cx="822.7" cy="1606.9" r="9" fill="#D01C8B" fill-opacity="0.2"/>
<circle cx="340.6" cy="1528.4" r="9" fill="#4DAC26" fill-opacity="0.2"/>
<circle cx="457.9" cy="1642.6" r="9" fill="#D01C8B" fill-opacity="0.2"/>
<circle cx="747.8" cy="1582.7" r="9" fill="#4DAC26" fill-opacity="0.2"/>
<circle cx="1047.1" cy="1614.2" r="9" fill="#4DAC26" fill-opacity="0.2"/>
<circle cx="469.8" cy="1640.6" r="9" fill="#D01C8B" fill-opacity="0.2"/>
<circle cx="876.7" cy="1646.9" r="9" fill="#D01C8B" fill-opacity="0.2"/>
<circle cx="1106.7" cy="1455.8" r="9" fill="#4DAC26" fill-opacity="0.2"/>
<circle cx="343.8" cy="1589.7" r="9" fill="#4DAC26" fill-opacity="0.2"/>
<circle cx="885.8" cy="1599.0" r="9" fill="#D01C8B" fill-opacity="0.2"/>
<circle cx="1222.4" cy="1818.8" r="9" fill="#D01C8B" fill-opacity="0.2"/>
<circle cx="753.3" cy="1587.4" r="9" fill="#4DAC26" fill-opacity="0.2"/>
<circle cx="1212.1" cy="1791.1" r="9" fill="#D01C8B" fill-opacity="0.2"/>
<circle cx="702.2" cy="1558.2" r="9" fill="#4DAC26" fill-opacity="0.2"/>
<circle cx="383.2" cy="1327.0" r="9" fill="#4DAC26" fill-opacity="0.2"/>
<circle cx="453.6" cy="1614.2" r="9" fill="#D01C8B" fill-opacity="0.2"/>
<circle cx="520.7" cy="1618.5" r="9" fill="#D01C8B" fill-opacity="0.2"/>
<circle cx="1101.2" cy="1574.6" r="9" fill="#4DAC26" fill-opacity="0.2"/>
<circle cx="678.1" cy="1609.5" r="9" fill="#4DAC26" fill-opacity="0.2"/>
<circle cx="498.7" cy="1654.6" r="9" fill="#D01C8B" fill-opacity="0.2"/>
<circle cx="1089.7" cy="1649.3" r="9" fill="#4DAC26" fill-opacity="0.2"/>
<circle cx="1101.5" cy="1614.2" r="9" fill="#4DAC26" fill-opacity="0.2"/>
<circle cx="1238.2" cy="1614.2" r="9" fill="#D01C8B" fill-opacity="0.2"/>
<circle cx="1218.3" cy="1682.9" r="9" fill="#D01C8B" fill-opacity="0.2"/>
<circle cx="307.9" cy="1651.0" r="9" fill="#4DAC26" fill-opacity="0.2"/>
<circle cx="833.0" cy="1677.4" r="9" fill="#D01C8B" fill-opacity="0.2"/>
<circle cx="507.9" cy="1596.6" r="9" fill="#D01C8B" fill-opacity="0.2"/>
<circle cx="734.9" cy="1590.8" r="9" fill="#4DAC26" fill-opacity="0.2"/>
<circle cx="1234.5" cy="1623.0" r="9" fill="#D01C8B" fill-opacity="0.2"/>
<circle cx="1042.8" cy="1617.4" r="9" fill="#4DAC26" fill-opacity="0.2"/>
<circle cx="501.1" cy="1676.0" r="9" fill="#D01C8B" fill-opacity="0.2"/>
<circle cx="519.7" cy="1721.6" r="9" fill="#D01C8B" fill-opacity="0.2"/>
<circle cx="313.0" cy="1557.2" r="9" fill="#4DAC26" fill-opacity="0.2"/>
<circle cx="681.4" cy="1566.6" r="9" fill="#4DAC26" fill-opacity="0.2"/>
<circle cx="864.0" cy="1683.1" r="9" fill="#D01C8B" fill-opacity="0.2"/>
<circle cx="1273.0" cy="1614.2" r="9" fill="#D01C8B" fill-opacity="0.2"/>
<circle cx="826.4" cy="1614.2" r="9" fill="#D01C8B" fill-opacity="0.2"/>
<circle cx="671.5" cy="1475.7" r="9" fill="#4DAC26" fill-opacity="0.2"/>
<circle cx="1242.9" cy="1679.2" r="9" fill="#D01C8B" fill-opacity="0.2"/>
<circle cx="527.0" cy="1681.6" r="9" fill="#D01C8B" fill-opacity="0.2"/>
<circle cx="1093.2" cy="1636.5" r="9" fill="#4DAC26" fill-opacity="0.2"/>
<circle cx="844.3" cy="1681.9" r="9" fill="#D01C8B" fill-opacity="0.2"/>
<circle cx="752.3" cy="1659.0" r="9" fill="#4DAC26" fill-opacity="0.2"/>
<circle cx="312.7" cy="1618.3" r="9" fill="#4DAC26" fill-opacity="0.2"/>
<circle cx="382.7" cy="1584.7" r="9" fill="#4DAC26" fill-opacity="0.2"/>
<circle cx="822.0" cy="1613.1" r="9" fill="#D01C8B" fill-opacity="0.2"/>
<circle cx="1111.9" cy="1614.2" r="9" fill="#4DAC26" fill-opacity="0.2"/>
<circle cx="1195.9" cy="1909.3" r="9" fill="#D01C8B" fill-opacity="0.2"/>
<circle cx="1085.7" cy="1614.2" r="9" fill="#4DAC26" fill-opacity="0.2"/>
<circle cx="1105.3" cy="1530.0" r="9" fill="#4DAC26" fill-opacity="0.2"/>
<circle cx="370.0" cy="1554.3" r="9" fill="#4DAC26" fill-opacity="0.2"/>
<circle cx="848.7" cy="1696.4" r="9" fill="#D01C8B" fill-opacity="0.2"/>
<circle cx="1231.2" cy="1614.2" r="9" fill="#D01C8B" fill-opacity="0.2"/>
<circle cx="468.5" cy="1677.4" r="9" fill="#D01C8B" fill-opacity="0.2"/>
<circle cx="1204.6" cy="1614.2" r="9" fill="#D01C8B" fill-opacity="0.2"/>
<circle cx="905.1" cy="1773.1" r="9" fill="#D01C8B" fill-opacity="0.2"/>
<circle cx="459.3" cy="1673.9" r="9" fill="#D01C8B" fill-opacity="0.2"/>
<circle cx="1201.2" cy="1750.7" r="9" fill="#D01C8B" fill-opacity="0.2"/>
<circle cx="1253.6" cy="1670.2" r="9" fill="#D01C8B" fill-opacity="0.2"/>
<circle cx="481.0" cy="1701.7" r="9" fill="#D01C8B" fill-opacity="0.2"/>
<circle cx="1096.7" cy="1646.8" r="9" fill="#4DAC26" fill-opacity="0.2"/>
<circle cx="1187.0" cy="1642.8" r="9" fill="#D01C8B" fill-opacity="0.2"/>
<circle cx="683.7" cy="1631.2" r="9" fill="#4DAC26" fill-opacity="0.2"/>
<circle cx="488.4" cy="1605.4" r="9" fill="#D01C8B" fill-opacity="0.2"/>
<circle cx="1234.6" cy="1614.2" r="9" fill="#D01C8B" fill-opacity="0.2"/>
<circle cx="1207.0" cy="1587.5" r="9" fill="#D01C8B" fill-opacity="0.2"/>
<circle cx="1124.2" cy="1452.2" r="9" fill="#4DAC26" fill-opacity="0.2"/>
<circle cx="1063.2" cy="1614.2" r="9" fill="#4DAC26" fill-opacity="0.2"/>
<circle cx="723.3" cy="1566.4" r="9" fill="#4DAC26" fill-opacity="0.2"/>
<circle cx="478.2" cy="1641.9" r="9" fill="#D01C8B" fill-opacity="0.2"/>
<circle cx="1197.4" cy="1614.2" r="9" fill="#D01C8B" fill-opacity="0.2"/>
<circle cx="752.7" cy="1516.3" r="9" fill="#4DAC26" fill-opacity="0.2"/>
<circle cx="1226.5" cy="1649.9" r="9" fill="#D01C8B" fill-opacity="0.2"/>
<circle cx="475.6" cy="1697.2" r="9" fill="#D01C8B" fill-opacity="0.2"/>
<circle cx="845.2" cy="1638.7" r="9" fill="#D01C8B" fill-opacity="0.2"/>
<circle cx="709.6" cy="1757.2" r="9" fill="#4DAC26" fill-opacity="0.2"/>
<circle cx="375.5" cy="1575.6" r="9" fill="#4DAC26" fill-opacity="0.2"/>
<circle cx="694.5" cy="1614.2" r="9" fill="#4DAC26" fill-opacity="0.2"/>
<circle cx="849.3" cy="1757.2" r="9" fill="#D01C8B" fill-opacity="0.2"/>
<circle cx="1189.2" cy="1904.8" r="9" fill="#D01C8B" fill-opacity="0.2"/>
<circle cx="740.3" cy="1550.8" r="9" fill="#4DAC26" fill-opacity="0.2"/>
<circle cx="837.6" cy="1629.3" r="9" fill="#D01C8B" fill-opacity="0.2"/>
<circle cx="1072.4" cy="1321.3" r="9" fill="#4DAC26" fill-opacity="0.2"/>
<circle cx="1229.4" cy="1868.4" r="9" fill="#D01C8B" fill-opacity="0.2"/>
<circle cx="1092.3" cy="1550.7" r="9" fill="#4DAC26" fill-opacity="0.2"/>
<circle cx="1081.9" cy="1665.8" r="9" fill="#4DAC26" fill-opacity="0.2"/>
<circle cx="1216.6" cy="1754.7" r="9" fill="#D01C8B" fill-opacity="0.2"/>
<circle cx="874.1" cy="1645.5" r="9" fill="#D01C8B" fill-opacity="0.2"/>
<circle cx="879.0" cy="1657.1" r="9" fill="#D01C8B" fill-opacity="0.2"/>
<circle cx="1240.7" cy="1813.7" r="9" fill="#D01C8B" fill-opacity="0.2"/>
<circle cx="850.9" cy="1682.8" r="9" fill="#D01C8B" fill-opacity="0.2"/>
<circle cx="471.1" cy="1614.5" r="9" fill="#D01C8B" fill-opacity="0.2"/>
<circle cx="717.2" cy="1455.3" r="9" fill="#4DAC26" fill-opacity="0.2"/>
<circle cx="1196.9" cy="1614.2" r="9" fill="#D01C8B" fill-opacity="0.2"/>
<circle cx="1193.2" cy="1674.4" r="9" fill="#D01C8B" fill-opacity="0.2"/>
<circle cx="881.2" cy="1649.8" r="9" fill="#D01C8B" fill-opacity="0.2"/>
<circle cx="381.0" cy="1603.1" r="9" fill="#4DAC26" fill-opacity="0.2"/>
<circle cx="1236.7" cy="1614.2" r="9" fill="#D01C8B" fill-opacity="0.2"/>
<circle cx="311.3" cy="1649.8" r="9" fill="#4DAC26" fill-opacity="0.2"/>
<circle cx="489.7" cy="1623.2" r="9" fill="#D01C8B" fill-opacity="0.2"/>
<circle cx="1065.3" cy="1614.2" r="9" fill="#4DAC26" fill-opacity="0.2"/>
<circle cx="1190.2" cy="1932.0" r="9" fill="#D01C8B" fill-opacity="0.2"/>
<circle cx="1086.4" cy="1468.0" r="9" fill="#4DAC26" fill-opacity="0.2"/>
<circle cx="501.5" cy="1600.7" r="9" fill="#D01C8B" fill-opacity="0.2"/>
<circle cx="1101.9" cy="1423.5" r="9" fill="#4DAC26" fill-opacity="0.2"/>
<circle cx="376.6" cy="1596.4" r="9" fill="#4DAC26" fill-opacity="0.2"/>
<circle cx="724.3" cy="1565.8" r="9" fill="#4DAC26" fill-opacity="0.2"/>
<circle cx="1112.7" cy="1328.2" r="9" fill="#4DAC26" fill-opacity="0.2"/>
<circle cx="849.1" cy="1606.6" r="9" fill="#D01C8B" fill-opacity="0.2"/>
<circle cx="336.2" cy="1747.3" r="9" fill="#4DAC26" fill-opacity="0.2"/>
<circle cx="892.6" cy="1651.9" r="9" fill="#D01C8B" fill-opacity="0.2"/>
<circle cx="1044.1" cy="1582.4" r="9" fill="#4DAC26" fill-opacity="0.2"/>
<circle cx="855.0" cy="1630.0" r="9" fill="#D01C8B" fill-opacity="0.2"/>
<circle cx="1191.3" cy="1733.7" r="9" fill="#D01C8B" fill-opacity="0.2"/>
<circle cx="1122.7" cy="1614.2" r="9" fill="#4DAC26" fill-opacity="0.2"/>
<circle cx="499.5" cy="1617.0" r="9" fill="#D01C8B" fill-opacity="0.2"/>
<circle cx="1266.7" cy="1526.2" r="9" fill="#D01C8B" fill-opacity="0.2"/>
<circle cx="1117.9" cy="1602.1" r="9" fill="#4DAC26" fill-opacity="0.2"/>
<circle cx="1196.7" cy="1659.8" r="9" fill="#D01C8B" fill-opacity="0.2"/>
<circle cx="677.1" cy="1629.2" r="9" fill="#4DAC26" fill-opacity="0.2"/>
<circle cx="506.1" cy="1629.1" r="9" fill="#D01C8B" fill-opacity="0.2"/>
<circle cx="869.6" cy="1833.8" r="9" fill="#D01C8B" fill-opacity="0.2"/>
<circle cx="698.0" cy="1600.4" r="9" fill="#4DAC26" fill-opacity="0.2"/>
<circle cx="844.8" cy="1660.2" r="9" fill="#D01C8B" fill-opacity="0.2"/>
<circle cx="508.4" cy="1650.1" r="9" fill="#D01C8B" fill-opacity="0.2"/>
<circle cx="1255.0" cy="1773.1" r="9" fill="#D01C8B" fill-opacity="0.2"/>
<circle cx="1075.6" cy="1353.6" r="9" fill="#4DAC26" fill-opacity="0.2"/>
<circle cx="1048.8" cy="1550.7" r="9" fill="#4DAC26" fill-opacity="0.2"/>
<circle cx="304.9" cy="1597.7" r="9" fill="#4DAC26" fill-opacity="0.2"/>
<circle cx="1226.3" cy="1819.4" r="9" fill="#D01C8B" fill-opacity="0.2"/>
<circle cx="1244.3" cy="1614.2" r="9" fill="#D01C8B" fill-opacity="0.2"/>
<circle cx="818.8" cy="1773.1" r="9" fill="#D01C8B" fill-opacity="0.2"/>
<circle cx="894.8" cy="1614.2" r="9" fill="#D01C8B" fill-opacity="0.2"/>
<circle cx="488.5" cy="1670.7" r="9" fill="#D01C8B" fill-opacity="0.2"/>
<circle cx="342.8" cy="1590.9" r="9" fill="#4DAC26" fill-opacity="0.2"/>
<circle cx="1054.9" cy="1614.2" r="9" fill="#4DAC26" fill-opacity="0.2"/>
<circle cx="1250.4" cy="1733.2" r="9" fill="#D01C8B" fill-opacity="0.2"/>
<circle cx="1050.2" cy="1390.4" r="9" fill="#4DAC26" fill-opacity="0.2"/>
<circle cx="1098.6" cy="1582.4" r="9" fill="#4DAC26" fill-opacity="0.2"/>
<circle cx="369.2" cy="1622.2" r="9" fill="#4DAC26" fill-opacity="0.2"/>
<circle cx="369.0" cy="1609.1" r="9" fill="#4DAC26" fill-opacity="0.2"/>
<circle cx="1223.7" cy="1827.1" r="9" fill="#D01C8B" fill-opacity="0.2"/>
<circle cx="450.7" cy="1586.2" r="9" fill="#D01C8B" fill-opacity="0.2"/>
<circle cx="1251.9" cy="1897.2" r="9" fill="#D01C8B" fill-opacity="0.2"/>
<circle cx="697.0" cy="1614.2" r="9" fill="#4DAC26" fill-opacity="0.2"/>
<circle cx="691.9" cy="1593.6" r="9" fill="#4DAC26" fill-opacity="0.2"/>
<circle cx="867.8" cy="1633.9" r="9" fill="#D01C8B" fill-opacity="0.2"/>
<circle cx="1250.6" cy="1614.2" r="9" fill="#D01C8B" fill-opacity="0.2"/>
<circle cx="361.9" cy="1668.5" r="9" fill="#4DAC26" fill-opacity="0.2"/>
<circle cx="474.0" cy="1614.8" r="9" fill="#D01C8B" fill-opacity="0.2"/>
<circle cx="1064.7" cy="1312.1" r="9" fill="#4DAC26" fill-opacity="0.2"/>
<circle cx="1059.3" cy="1427.8" r="9" fill="#4DAC26" fill-opacity="0.2"/>
<circle cx="723.6" cy="1569.9" r="9" fill="#4DAC26" fill-opacity="0.2"/>
<circle cx="378.9" cy="1359.4" r="9" fill="#4DAC26" fill-opacity="0.2"/>
<circle cx="855.5" cy="1609.2" r="9" fill="#D01C8B" fill-opacity="0.2"/>
<circle cx="1053.1" cy="1376.8" r="9" fill="#4DAC26" fill-opacity="0.2"/>
<circle cx="828.9" cy="1701.6" r="9" fill="#D01C8B" fill-opacity="0.2"/>
<circle cx="320.0" cy="1496.6" r="9" fill="#4DAC26" fill-opacity="0.2"/>
<circle cx="495.9" cy="1614.2" r="9" fill="#D01C8B" fill-opacity="0.2"/>
<circle cx="822.8" cy="1612.8" r="9" fill="#D01C8B" fill-opacity="0.2"/>
<circle cx="1039.3" cy="1391.8" r="9" fill="#4DAC26" fill-opacity="0.2"/>
<circle cx="733.7" cy="1614.2" r="9" fill="#4DAC26" fill-opacity="0.2"/>
<circle cx="1062.6" cy="1614.2" r="9" fill="#4DAC26" fill-opacity="0.2"/>
<circle cx="856.8" cy="1625.4" r="9" fill="#D01C8B" fill-opacity="0.2"/>
<circle cx="1225.4" cy="1812.8" r="9" fill="#D01C8B" fill-opacity="0.2"/>
<circle cx="387.0" cy="1714.3" r="9" fill="#4DAC26" fill-opacity="0.2"/>
<circle cx="1238.1" cy="1888.4" r="9" fill="#D01C8B" fill-opacity="0.2"/>
<circle cx="516.3" cy="1642.8" r="9" fill="#D01C8B" fill-opacity="0.2"/>
<circle cx="1045.0" cy="1374.8" r="9" fill="#4DAC26" fill-opacity="0.2"/>
<circle cx="304.8" cy="1562.3" r="9" fill="#4DAC26" fill-opacity="0.2"/>
<circle cx="679.9" cy="1612.4" r="9" fill="#4DAC26" fill-opacity="0.2"/>
<circle cx="450.8" cy="1637.6" r="9" fill="#D01C8B" fill-opacity="0.2"/>
<circle cx="1043.1" cy="1559.4" r="9" fill="#4DAC26" fill-opacity="0.2"/>
<circle cx="483.2" cy="1619.3" r="9" fill="#D01C8B" fill-opacity="0.2"/>
<circle cx="1216.1" cy="1614.2" r="9" fill="#D01C8B" fill-opacity="0.2"/>
<circle cx="1088.5" cy="1479.0" r="9" fill="#4DAC26" fill-opacity="0.2"/>
<circle cx="1063.7" cy="1363.1" r="9" fill="#4DAC26" fill-opacity="0.2"/>
<circle cx="368.0" cy="1630.7" r="9" fill="#4DAC26" fill-opacity="0.2"/>
<circle cx="1108.2" cy="1342.3" r="9" fill="#4DAC26" fill-opacity="0.2"/>
<circle cx="1086.1" cy="1536.4" r="9" fill="#4DAC26" fill-opacity="0.2"/>
<circle cx="706.0" cy="1560.8" r="9" fill="#4DAC26" fill-opacity="0.2"/>
<circle cx="848.2" cy="1725.8" r="9" fill="#D01C8B" fill-opacity="0.2"/>
<circle cx="676.4" cy="1614.2" r="9" fill="#4DAC26" fill-opacity="0.2"/>
<circle cx="380.5" cy="1599.5" r="9" fill="#4DAC26" fill-opacity="0.2"/>
<circle cx="1195.0" cy="1636.9" r="9" fill="#D01C8B" fill-opacity="0.2"/>
<circle cx="1223.2" cy="1614.2" r="9" fill="#D01C8B" fill-opacity="0.2"/>
<circle cx="1252.6" cy="1889.9" r="9" fill="#D01C8B" fill-opacity="0.2"/>
<circle cx="689.2" cy="1636.1" r="9" fill="#4DAC26" fill-opacity="0.2"/>
<circle cx="1268.3" cy="1614.2" r="9" fill="#D01C8B" fill-opacity="0.2"/>
<circle cx="1255.7" cy="1614.2" r="9" fill="#D01C8B" fill-opacity="0.2"/>
<circle cx="498.7" cy="1629.1" r="9" fill="#D01C8B" fill-opacity="0.2"/>
<circle cx="1052.1" cy="1617.4" r="9" fill="#4DAC26" fill-opacity="0.2"/>
<circle cx="1039.7" cy="1710.2" r="9" fill="#4DAC26" fill-opacity="0.2"/>
<circle cx="301.0" cy="1552.9" r="9" fill="#4DAC26" fill-opacity="0.2"/>
<circle cx="1105.9" cy="1575.7" r="9" fill="#4DAC26" fill-opacity="0.2"/>
<circle cx="853.1" cy="1617.9" r="9" fill="#D01C8B" fill-opacity="0.2"/>
<circle cx="1083.8" cy="1617.4" r="9" fill="#4DAC26" fill-opacity="0.2"/>
<circle cx="717.2" cy="1680.9" r="9" fill="#4DAC26" fill-opacity="0.2"/>
<circle cx="869.7" cy="1614.2" r="9" fill="#D01C8B" fill-opacity="0.2"/>
<circle cx="339.8" cy="1613.7" r="9" fill="#4DAC26" fill-opacity="0.2"/>
<circle cx="321.0" cy="1709.5" r="9" fill="#4DAC26" fill-opacity="0.2"/>
<circle cx="1211.7" cy="1793.0" r="9" fill="#D01C8B" fill-opacity="0.2"/>
<circle cx="328.8" cy="1454.1" r="9" fill="#4DAC26" fill-opacity="0.2"/>
<circle cx="1045.8" cy="1584.9" r="9" fill="#4DAC26" fill-opacity="0.2"/>
<circle cx="1197.0" cy="1750.9" r="9" fill="#D01C8B" fill-opacity="0.2"/>
<circle cx="502.4" cy="1693.0" r="9" fill="#D01C8B" fill-opacity="0.2"/>
<circle cx="1238.7" cy="1672.5" r="9" fill="#D01C8B" fill-opacity="0.2"/>
<circle cx="719.7" cy="1544.0" r="9" fill="#4DAC26" fill-opacity="0.2"/>
<circle cx="727.2" cy="1632.6" r="9" fill="#4DAC26" fill-opacity="0.2"/>
<circle cx="1194.4" cy="1732.6" r="9" fill="#D01C8B" fill-opacity="0.2"/>
<circle cx="1227.2" cy="1614.2" r="9" fill="#D01C8B" fill-opacity="0.2"/>
<circle cx="521.1" cy="1629.7" r="9" fill="#D01C8B" fill-opacity="0.2"/>
<circle cx="531.7" cy="1613.7" r="9" fill="#D01C8B" fill-opacity="0.2"/>
<circle cx="495.5" cy="1591.3" r="9" fill="#D01C8B" fill-opacity="0.2"/>
<circle cx="471.6" cy="1612.4" r="9" fill="#D01C8B" fill-opacity="0.2"/>
<circle cx="1188.3" cy="1671.5" r="9" fill="#D01C8B" fill-opacity="0.2"/>
<circle cx="321.0" cy="1709.5" r="9" fill="#4DAC26" fill-opacity="0.2"/>
<circle cx="868.7" cy="1621.4" r="9" fill="#D01C8B" fill-opacity="0.2"/>
<circle cx="364.2" cy="1589.3" r="9" fill="#4DAC26" fill-opacity="0.2"/>
<circle cx="849.3" cy="1727.0" r="9" fill="#D01C8B" fill-opacity="0.2"/>
<circle cx="326.1" cy="1648.6" r="9" fill="#4DAC26" fill-opacity="0.2"/>
<circle cx="1123.4" cy="1511.0" r="9" fill="#4DAC26" fill-opacity="0.2"/>
<circle cx="485.2" cy="1578.0" r="9" fill="#D01C8B" fill-opacity="0.2"/>
<circle cx="519.0" cy="1614.2" r="9" fill="#D01C8B" fill-opacity="0.2"/>
<circle cx="1125.1" cy="1568.9" r="9" fill="#4DAC26" fill-opacity="0.2"/>
<circle cx="828.7" cy="1620.9" r="9" fill="#D01C8B" fill-opacity="0.2"/>
<circle cx="300.0" cy="1673.9" r="9" fill="#4DAC26" fill-opacity="0.2"/>
<circle cx="1068.1" cy="1637.9" r="9" fill="#4DAC26" fill-opacity="0.2"/>
<circle cx="1062.0" cy="1653.1" r="9" fill="#4DAC26" fill-opacity="0.2"/>
<circle cx="1250.3" cy="1607.8" r="9" fill="#D01C8B" fill-opacity="0.2"/>
<circle cx="515.7" cy="1621.9" r="9" fill="#D01C8B" fill-opacity="0.2"/>
<circle cx="1226.4" cy="1830.1" r="9" fill="#D01C8B" fill-opacity="0.2"/>
<circle cx="1191.6" cy="1688.6" r="9" fill="#D01C8B" fill-opacity="0.2"/>
<circle cx="382.9" cy="1597.7" r="9" fill="#4DAC26" fill-opacity="0.2"/>
<circle cx="1220.0" cy="1642.1" r="9" fill="#D01C8B" fill-opacity="0.2"/>
<circle cx="1244.7" cy="1745.4" r="9" fill="#D01C8B" fill-opacity="0.2"/>
<circle cx="1102.6" cy="1614.2" r="9" fill="#4DAC26" fill-opacity="0.2"/>
<circle cx="1116.5" cy="1614.2" r="9" fill="#4DAC26" fill-opacity="0.2"/>
<circle cx="1255.5" cy="1932.0" r="9" fill="#D01C8B" fill-opacity="0.2"/>
<circle cx="355.3" cy="1585.5" r="9" fill="#4DAC26" fill-opacity="0.2"/>
<circle cx="1084.5" cy="1902.7" r="9" fill="#4DAC26" fill-opacity="0.2"/>
<circle cx="1214.9" cy="1647.7" r="9" fill="#D01C8B" fill-opacity="0.2"/>
<circle cx="1223.8" cy="1614.2" r="9" fill="#D01C8B" fill-opacity="0.2"/>
<circle cx="1196.3" cy="1614.2" r="9" fill="#D01C8B" fill-opacity="0.2"/>
<circle cx="752.7" cy="1356.2" r="9" fill="#4DAC26" fill-opacity="0.2"/>
<circle cx="370.0" cy="1610.6" r="9" fill="#4DAC26" fill-opacity="0.2"/>
<circle cx="898.3" cy="1594.1" r="9" fill="#D01C8B" fill-opacity="0.2"/>
<circle cx="332.1" cy="1662.8" r="9" fill="#4DAC26" fill-opacity="0.2"/>
<circle cx="691.8" cy="1452.8" r="9" fill="#4DAC26" fill-opacity="0.2"/>
<circle cx="1262.9" cy="1783.7" r="9" fill="#D01C8B" fill-opacity="0.2"/>
<circle cx="1262.0" cy="1741.4" r="9" fill="#D01C8B" fill-opacity="0.2"/>
<circle cx="1246.2" cy="1618.1" r="9" fill="#D01C8B" fill-opacity="0.2"/>
<circle cx="690.2" cy="1590.2" r="9" fill="#4DAC26" fill-opacity="0.2"/>
<circle cx="1090.1" cy="1614.2" r="9" fill="#4DAC26" fill-opacity="0.2"/>
<circle cx="696.9" cy="1496.0" r="9" fill="#4DAC26" fill-opacity="0.2"/>
<circle cx="374.5" cy="1435.6" r="9" fill="#4DAC26" fill-opacity="0.2"/>
<circle cx="520.3" cy="1680.5" r="9" fill="#D01C8B" fill-opacity="0.2"/>
<circle cx="1096.1" cy="1471.1" r="9" fill="#4DAC26" fill-opacity="0.2"/>
<circle cx="883.5" cy="1636.9" r="9" fill="#D01C8B" fill-opacity="0.2"/>
<circle cx="1210.6" cy="1880.6" r="9" fill="#D01C8B" fill-opacity="0.2"/>
<circle cx="1113.3" cy="1614.2" r="9" fill="#4DAC26" fill-opacity="0.2"/>
<circle cx="1222.8" cy="1614.2" r="9" fill="#D01C8B" fill-opacity="0.2"/>
<circle cx="1273.9" cy="1614.2" r="9" fill="#D01C8B" fill-opacity="0.2"/>
<circle cx="1262.8" cy="1623.9" r="9" fill="#D01C8B" fill-opacity="0.2"/>
<circle cx="1063.0" cy="1529.5" r="9" fill="#4DAC26" fill-opacity="0.2"/>
<circle cx="1226.0" cy="1728.1" r="9" fill="#D01C8B" fill-opacity="0.2"/>
<circle cx="839.1" cy="1702.1" r="9" fill="#D01C8B" fill-opacity="0.2"/>
<circle cx="369.8" cy="1560.3" r="9" fill="#4DAC26" fill-opacity="0.2"/>
<circle cx="314.1" cy="1646.9" r="9" fill="#4DAC26" fill-opacity="0.2"/>
<circle cx="535.6" cy="1457.5" r="9" fill="#D01C8B" fill-opacity="0.2"/>
<circle cx="1233.1" cy="1698.2" r="9" fill="#D01C8B" fill-opacity="0.2"/>
<circle cx="481.0" cy="1757.2" r="9" fill="#D01C8B" fill-opacity="0.2"/>
<circle cx="354.2" cy="1653.6" r="9" fill="#4DAC26" fill-opacity="0.2"/>
<circle cx="533.1" cy="1663.9" r="9" fill="#D01C8B" fill-opacity="0.2"/>
<circle cx="464.6" cy="1625.1" r="9" fill="#D01C8B" fill-opacity="0.2"/>
<circle cx="818.8" cy="1629.8" r="9" fill="#D01C8B" fill-opacity="0.2"/>
<circle cx="1121.8" cy="1805.5" r="9" fill="#4DAC26" fill-opacity="0.2"/>
<circle cx="1080.8" cy="1470.5" r="9" fill="#4DAC26" fill-opacity="0.2"/>
<circle cx="1045.3" cy="1614.2" r="9" fill="#4DAC26" fill-opacity="0.2"/>
<circle cx="366.4" cy="1620.9" r="9" fill="#4DAC26" fill-opacity="0.2"/>
<circle cx="752.1" cy="1593.6" r="9" fill="#4DAC26" fill-opacity="0.2"/>
<circle cx="1213.6" cy="1614.2" r="9" fill="#D01C8B" fill-opacity="0.2"/>
<circle cx="1191.3" cy="1708.0" r="9" fill="#D01C8B" fill-opacity="0.2"/>
<circle cx="1242.4" cy="1614.2" r="9" fill="#D01C8B" fill-opacity="0.2"/>
<circle cx="449.8" cy="1715.0" r="9" fill="#D01C8B" fill-opacity="0.2"/>
<circle cx="868.0" cy="1614.2" r="9" fill="#D01C8B" fill-opacity="0.2"/>
<circle cx="681.8" cy="1565.8" r="9" fill="#4DAC26" fill-opacity="0.2"/>
<circle cx="869.6" cy="1711.7" r="9" fill="#D01C8B" fill-opacity="0.2"/>
<circle cx="823.1" cy="1680.0" r="9" fill="#D01C8B" fill-opacity="0.2"/>
<circle cx="1058.2" cy="1614.2" r="9" fill="#4DAC26" fill-opacity="0.2"/>
<circle cx="1073.0" cy="1557.4" r="9" fill="#4DAC26" fill-opacity="0.2"/>
<circle cx="505.9" cy="1709.3" r="9" fill="#D01C8B" fill-opacity="0.2"/>
<circle cx="366.7" cy="1608.1" r="9" fill="#4DAC26" fill-opacity="0.2"/>
<circle cx="502.9" cy="1693.7" r="9" fill="#D01C8B" fill-opacity="0.2"/>
<circle cx="1263.5" cy="1854.9" r="9" fill="#D01C8B" fill-opacity="0.2"/>
<circle cx="331.6" cy="1613.8" r="9" fill="#4DAC26" fill-opacity="0.2"/>
<circle cx="358.3" cy="1577.0" r="9" fill="#4DAC26" fill-opacity="0.2"/>
<circle cx="383.1" cy="1614.2" r="9" fill="#4DAC26" fill-opacity="0.2"/>
<circle cx="452.3" cy="1642.0" r="9" fill="#D01C8B" fill-opacity="0.2"/>
<circle cx="1201.8" cy="1887.8" r="9" fill="#D01C8B" fill-opacity="0.2"/>
<circle cx="1259.5" cy="1681.2" r="9" fill="#D01C8B" fill-opacity="0.2"/>
<circle cx="1122.0" cy="1407.4" r="9" fill="#4DAC26" fill-opacity="0.2"/>
<circle cx="874.8" cy="1594.0" r="9" fill="#D01C8B" fill-opacity="0.2"/>
<circle cx="359.0" cy="1521.7" r="9" fill="#4DAC26" fill-opacity="0.2"/>
<circle cx="1070.4" cy="1614.2" r="9" fill="#4DAC26" fill-opacity="0.2"/>
<circle cx="1070.9" cy="1419.8" r="9" fill="#4DAC26" fill-opacity="0.2"/>
<circle cx="1207.9" cy="1932.0" r="9" fill="#D01C8B" fill-opacity="0.2"/>
<circle cx="1082.8" cy="1451.5" r="9" fill="#4DAC26" fill-opacity="0.2"/>
<circle cx="1055.2" cy="1614.2" r="9" fill="#4DAC26" fill-opacity="0.2"/>
<circle cx="509.3" cy="1738.0" r="9" fill="#D01C8B" fill-opacity="0.2"/>
<circle cx="312.7" cy="1580.4" r="9" fill="#4DAC26" fill-opacity="0.2"/>
<circle cx="1044.6" cy="1423.5" r="9" fill="#4DAC26" fill-opacity="0.2"/>
<circle cx="450.0" cy="1610.6" r="9" fill="#D01C8B" fill-opacity="0.2"/>
<circle cx="1073.1" cy="1614.2" r="9" fill="#4DAC26" fill-opacity="0.2"/>
<circle cx="1094.1" cy="1655.5" r="9" fill="#4DAC26" fill-opacity="0.2"/>
<circle cx="848.7" cy="1616.1" r="9" fill="#D01C8B" fill-opacity="0.2"/>
<circle cx="837.0" cy="1659.6" r="9" fill="#D01C8B" fill-opacity="0.2"/>
<circle cx="1247.3" cy="1614.2" r="9" fill="#D01C8B" fill-opacity="0.2"/>
<circle cx="1188.5" cy="1614.2" r="9" fill="#D01C8B" fill-opacity="0.2"/>
<circle cx="1070.2" cy="1575.3" r="9" fill="#4DAC26" fill-opacity="0.2"/>
<circle cx="1261.2" cy="1614.2" r="9" fill="#D01C8B" fill-opacity="0.2"/>
<circle cx="1047.7" cy="1601.4" r="9" fill="#4DAC26" fill-opacity="0.2"/>
<circle cx="899.8" cy="1623.8" r="9" fill="#D01C8B" fill-opacity="0.2"/>
<circle cx="479.3" cy="1653.5" r="9" fill="#D01C8B" fill-opacity="0.2"/>
<circle cx="1105.3" cy="1614.2" r="9" fill="#4DAC26" fill-opacity="0.2"/>
<circle cx="346.0" cy="1662.9" r="9" fill="#4DAC26" fill-opacity="0.2"/>
<circle cx="1085.0" cy="1346.7" r="9" fill="#4DAC26" fill-opacity="0.2"/>
<circle cx="304.0" cy="1670.1" r="9" fill="#4DAC26" fill-opacity="0.2"/>
<circle cx="1061.5" cy="1455.3" r="9" fill="#4DAC26" fill-opacity="0.2"/>
<circle cx="1249.9" cy="1614.2" r="9" fill="#D01C8B" fill-opacity="0.2"/>
<circle cx="1124.9" cy="1614.2" r="9" fill="#4DAC26" fill-opacity="0.2"/>
<circle cx="1186.3" cy="1614.2" r="9" fill="#D01C8B" fill-opacity="0.2"/>
<circle cx="317.9" cy="1550.9" r="9" fill="#4DAC26" fill-opacity="0.2"/>
<circle cx="1222.1" cy="1622.5" r="9" fill="#D01C8B" fill-opacity="0.2"/>
<circle cx="903.3" cy="1614.2" r="9" fill="#D01C8B" fill-opacity="0.2"/>
<circle cx="1269.6" cy="1593.5" r="9" fill="#D01C8B" fill-opacity="0.2"/>
<circle cx="480.1" cy="1612.8" r="9" fill="#D01C8B" fill-opacity="0.2"/>
<circle cx="1220.4" cy="1663.4" r="9" fill="#D01C8B" fill-opacity="0.2"/>
<circle cx="1103.2" cy="1438.6" r="9" fill="#4DAC26" fill-opacity="0.2"/>
<circle cx="1218.8" cy="1812.4" r="9" fill="#D01C8B" fill-opacity="0.2"/>
<circle cx="1098.9" cy="1605.9" r="9" fill="#4DAC26" fill-opacity="0.2"/>
<circle cx="1111.1" cy="1551.4" r="9" fill="#4DAC26" fill-opacity="0.2"/>
<circle cx="1117.4" cy="1614.2" r="9" fill="#4DAC26" fill-opacity="0.2"/>
<circle cx="1205.6" cy="1932.0" r="9" fill="#D01C8B" fill-opacity="0.2"/>
<circle cx="1250.3" cy="1614.2" r="9" fill="#D01C8B" fill-opacity="0.2"/>
<circle cx="1269.2" cy="1614.2" r="9" fill="#D01C8B" fill-opacity="0.2"/>
<circle cx="376.8" cy="1701.6" r="9" fill="#4DAC26" fill-opacity="0.2"/>
<circle cx="365.0" cy="1613.2" r="9" fill="#4DAC26" fill-opacity="0.2"/>
<circle cx="704.8" cy="1614.2" r="9" fill="#4DAC26" fill-opacity="0.2"/>
<circle cx="367.6" cy="1614.2" r="9" fill="#4DAC26" fill-opacity="0.2"/>
<circle cx="1075.1" cy="1614.2" r="9" fill="#4DAC26" fill-opacity="0.2"/>
<circle cx="1201.0" cy="1773.1" r="9" fill="#D01C8B" fill-opacity="0.2"/>
<circle cx="350.9" cy="1532.1" r="9" fill="#4DAC26" fill-opacity="0.2"/>
<circle cx="1095.3" cy="1614.2" r="9" fill="#4DAC26" fill-opacity="0.2"/>
<circle cx="472.1" cy="1647.0" r="9" fill="#D01C8B" fill-opacity="0.2"/>
<circle cx="1222.6" cy="1614.2" r="9" fill="#D01C8B" fill-opacity="0.2"/>
<circle cx="895.0" cy="1788.0" r="9" fill="#D01C8B" fill-opacity="0.2"/>
<circle cx="372.6" cy="1567.6" r="9" fill="#4DAC26" fill-opacity="0.2"/>
<circle cx="721.8" cy="1589.3" r="9" fill="#4DAC26" fill-opacity="0.2"/>
<circle cx="501.4" cy="1664.9" r="9" fill="#D01C8B" fill-opacity="0.2"/>
<circle cx="1190.1" cy="1859.4" r="9" fill="#D01C8B" fill-opacity="0.2"/>
<circle cx="819.7" cy="1594.1" r="9" fill="#D01C8B" fill-opacity="0.2"/>
<circle cx="1260.6" cy="1804.8" r="9" fill="#D01C8B" fill-opacity="0.2"/>
<circle cx="447.6" cy="1588.1" r="9" fill="#D01C8B" fill-opacity="0.2"/>
<circle cx="1103.7" cy="1296.5" r="9" fill="#4DAC26" fill-opacity="0.2"/>
<circle cx="1044.3" cy="1582.4" r="9" fill="#4DAC26" fill-opacity="0.2"/>
<circle cx="486.6" cy="1438.8" r="9" fill="#D01C8B" fill-opacity="0.2"/>
<circle cx="1072.7" cy="1364.8" r="9" fill="#4DAC26" fill-opacity="0.2"/>
<circle cx="1095.1" cy="1480.1" r="9" fill="#4DAC26" fill-opacity="0.2"/>
<circle cx="1258.0" cy="1713.4" r="9" fill="#D01C8B" fill-opacity="0.2"/>
<circle cx="707.3" cy="1584.2" r="9" fill="#4DAC26" fill-opacity="0.2"/>
<circle cx="864.7" cy="1633.3" r="9" fill="#D01C8B" fill-opacity="0.2"/>
<circle cx="866.7" cy="1690.2" r="9" fill="#D01C8B" fill-opacity="0.2"/>
<circle cx="1082.1" cy="1525.9" r="9" fill="#4DAC26" fill-opacity="0.2"/>
<circle cx="1247.2" cy="1849.2" r="9" fill="#D01C8B" fill-opacity="0.2"/>
<circle cx="1112.2" cy="1614.2" r="9" fill="#4DAC26" fill-opacity="0.2"/>
<circle cx="1218.7" cy="1633.5" r="9" fill="#D01C8B" fill-opacity="0.2"/>
<circle cx="1193.5" cy="1614.2" r="9" fill="#D01C8B" fill-opacity="0.2"/>
<circle cx="887.2" cy="1617.9" r="9" fill="#D01C8B" fill-opacity="0.2"/>
<circle cx="504.2" cy="1610.3" r="9" fill="#D01C8B" fill-opacity="0.2"/>
<circle cx="1073.6" cy="1614.2" r="9" fill="#4DAC26" fill-opacity="0.2"/>
<circle cx="1223.1" cy="1614.2" r="9" fill="#D01C8B" fill-opacity="0.2"/>
<circle cx="354.9" cy="1366.0" r="9" fill="#4DAC26" fill-opacity="0.2"/>
<circle cx="524.1" cy="1609.5" r="9" fill="#D01C8B" fill-opacity="0.2"/>
<circle cx="360.6" cy="1614.2" r="9" fill="#4DAC26" fill-opacity="0.2"/>
<circle cx="694.0" cy="1618.8" r="9" fill="#4DAC26" fill-opacity="0.2"/>
<circle cx="1267.0" cy="1788.3" r="9" fill="#D01C8B" fill-opacity="0.2"/>
<circle cx="1245.8" cy="1763.5" r="9" fill="#D01C8B" fill-opacity="0.2"/>
<circle cx="1123.2" cy="1569.8" r="9" fill="#4DAC26" fill-opacity="0.2"/>
<circle cx="1053.4" cy="1614.2" r="9" fill="#4DAC26" fill-opacity="0.2"/>
<circle cx="707.0" cy="1407.0" r="9" fill="#4DAC26" fill-opacity="0.2"/>
<circle cx="317.1" cy="1606.7" r="9" fill="#4DAC26" fill-opacity="0.2"/>
<circle cx="824.5" cy="1631.7" r="9" fill="#D01C8B" fill-opacity="0.2"/>
<circle cx="1061.3" cy="1661.2" r="9" fill="#4DAC26" fill-opacity="0.2"/>
<circle cx="702.0" cy="1600.5" r="9" fill="#4DAC26" fill-opacity="0.2"/>
<circle cx="1213.0" cy="1836.6" r="9" fill="#D01C8B" fill-opacity="0.2"/>
<circle cx="1112.4" cy="1529.7" r="9" fill="#4DAC26" fill-opacity="0.2"/>
<circle cx="1194.6" cy="1738.6" r="9" fill="#D01C8B" fill-opacity="0.2"/>
<circle cx="1122.0" cy="1582.4" r="9" fill="#4DAC26" fill-opacity="0.2"/>
<circle cx="1062.3" cy="1526.1" r="9" fill="#4DAC26" fill-opacity="0.2"/>
<circle cx="1200.4" cy="1895.9" r="9" fill="#D01C8B" fill-opacity="0.2"/>
<circle cx="516.4" cy="1668.6" r="9" fill="#D01C8B" fill-opacity="0.2"/>
<circle cx="1268.1" cy="1767.0" r="9" fill="#D01C8B" fill-opacity="0.2"/>
<circle cx="1221.6" cy="1632.5" r="9" fill="#D01C8B" fill-opacity="0.2"/>
<circle cx="737.5" cy="1437.5" r="9" fill="#4DAC26" fill-opacity="0.2"/>
<circle cx="1226.3" cy="1691.3" r="9" fill="#D01C8B" fill-opacity="0.2"/>
<circle cx="1203.1" cy="1654.1" r="9" fill="#D01C8B" fill-opacity="0.2"/>
<circle cx="1122.6" cy="1624.1" r="9" fill="#4DAC26" fill-opacity="0.2"/>
<circle cx="1112.8" cy="1662.3" r="9" fill="#4DAC26" fill-opacity="0.2"/>
<circle cx="1266.8" cy="1763.6" r="9" fill="#D01C8B" fill-opacity="0.2"/>
<circle cx="1240.5" cy="1707.8" r="9" fill="#D01C8B" fill-opacity="0.2"/>
<circle cx="832.3" cy="1640.4" r="9" fill="#D01C8B" fill-opacity="0.2"/>
<circle cx="1093.8" cy="1455.3" r="9" fill="#4DAC26" fill-opacity="0.2"/>
<circle cx="326.4" cy="1570.1" r="9" fill="#4DAC26" fill-opacity="0.2"/>
<circle cx="1117.8" cy="1617.4" r="9" fill="#4DAC26" fill-opacity="0.2"/>
<circle cx="736.5" cy="1631.9" r="9" fill="#4DAC26" fill-opacity="0.2"/>
<circle cx="1192.0" cy="1674.7" r="9" fill="#D01C8B" fill-opacity="0.2"/>
<circle cx="1095.6" cy="1423.5" r="9" fill="#4DAC26" fill-opacity="0.2"/>
<circle cx="314.5" cy="1668.8" r="9" fill="#4DAC26" fill-opacity="0.2"/>
<circle cx="1078.7" cy="1340.4" r="9" fill="#4DAC26" fill-opacity="0.2"/>
<circle cx="1112.0" cy="1630.9" r="9" fill="#4DAC26" fill-opacity="0.2"/>
<circle cx="1065.4" cy="1614.2" r="9" fill="#4DAC26" fill-opacity="0.2"/>
<circle cx="517.7" cy="1622.3" r="9" fill="#D01C8B" fill-opacity="0.2"/>
<circle cx="451.9" cy="1732.9" r="9" fill="#D01C8B" fill-opacity="0.2"/>
<circle cx="342.2" cy="1618.0" r="9" fill="#4DAC26" fill-opacity="0.2"/>
<circle cx="687.2" cy="1614.2" r="9" fill="#4DAC26" fill-opacity="0.2"/>
<circle cx="1111.5" cy="1614.2" r="9" fill="#4DAC26" fill-opacity="0.2"/>
<circle cx="826.4" cy="1930.4" r="9" fill="#D01C8B" fill-opacity="0.2"/>
<circle cx="452.9" cy="1508.7" r="9" fill="#D01C8B" fill-opacity="0.2"/>
<circle cx="1101.9" cy="1600.9" r="9" fill="#4DAC26" fill-opacity="0.2"/>
<circle cx="513.0" cy="1602.3" r="9" fill="#D01C8B" fill-opacity="0.2"/>
<circle cx="1046.5" cy="1572.3" r="9" fill="#4DAC26" fill-opacity="0.2"/>
<circle cx="1225.7" cy="1733.2" r="9" fill="#D01C8B" fill-opacity="0.2"/>
<circle cx="885.2" cy="1648.3" r="9" fill="#D01C8B" fill-opacity="0.2"/>
<circle cx="485.5" cy="1697.9" r="9" fill="#D01C8B" fill-opacity="0.2"/>
<circle cx="903.1" cy="1668.4" r="9" fill="#D01C8B" fill-opacity="0.2"/>
<circle cx="372.3" cy="1471.5" r="9" fill="#4DAC26" fill-opacity="0.2"/>
<circle cx="742.6" cy="1711.7" r="9" fill="#4DAC26" fill-opacity="0.2"/>
<circle cx="856.5" cy="1611.6" r="9" fill="#D01C8B" fill-opacity="0.2"/>
<circle cx="1083.1" cy="1562.0" r="9" fill="#4DAC26" fill-opacity="0.2"/>
<circle cx="315.7" cy="1442.3" r="9" fill="#4DAC26" fill-opacity="0.2"/>
<circle cx="712.6" cy="1595.1" r="9" fill="#4DAC26" fill-opacity="0.2"/>
<circle cx="825.0" cy="1665.5" r="9" fill="#D01C8B" fill-opacity="0.2"/>
<circle cx="1103.2" cy="1547.7" r="9" fill="#4DAC26" fill-opacity="0.2"/>
<circle cx="1228.2" cy="1791.2" r="9" fill="#D01C8B" fill-opacity="0.2"/>
<circle cx="1213.4" cy="1765.9" r="9" fill="#D01C8B" fill-opacity="0.2"/>
<circle cx="513.1" cy="1610.1" r="9" fill="#D01C8B" fill-opacity="0.2"/>
<circle cx="844.7" cy="1679.3" r="9" fill="#D01C8B" fill-opacity="0.2"/>
<circle cx="1083.9" cy="1557.7" r="9" fill="#4DAC26" fill-opacity="0.2"/>
<circle cx="821.7" cy="1606.4" r="9" fill="#D01C8B" fill-opacity="0.2"/>
<circle cx="1260.2" cy="1919.6" r="9" fill="#D01C8B" fill-opacity="0.2"/>
<circle cx="868.0" cy="1589.2" r="9" fill="#D01C8B" fill-opacity="0.2"/>
<circle cx="1098.2" cy="1614.2" r="9" fill="#4DAC26" fill-opacity="0.2"/>
<circle cx="486.6" cy="1616.2" r="9" fill="#D01C8B" fill-opacity="0.2"/>
<circle cx="884.5" cy="1679.3" r="9" fill="#D01C8B" fill-opacity="0.2"/>
<circle cx="691.9" cy="1560.8" r="9" fill="#4DAC26" fill-opacity="0.2"/>
<circle cx="1253.7" cy="1672.6" r="9" fill="#D01C8B" fill-opacity="0.2"/>
<circle cx="905.1" cy="1523.6" r="9" fill="#D01C8B" fill-opacity="0.2"/>
<circle cx="331.1" cy="1595.9" r="9" fill="#4DAC26" fill-opacity="0.2"/>
<circle cx="1103.5" cy="1360.0" r="9" fill="#4DAC26" fill-opacity="0.2"/>
<circle cx="1230.8" cy="1714.2" r="9" fill="#D01C8B" fill-opacity="0.2"/>
<circle cx="1081.6" cy="1614.2" r="9" fill="#4DAC26" fill-opacity="0.2"/>
<circle cx="707.5" cy="1599.9" r="9" fill="#4DAC26" fill-opacity="0.2"/>
<circle cx="851.8" cy="1614.2" r="9" fill="#D01C8B" fill-opacity="0.2"/>
<circle cx="1192.1" cy="1817.3" r="9" fill="#D01C8B" fill-opacity="0.2"/>
<circle cx="1095.9" cy="1614.2" r="9" fill="#4DAC26" fill-opacity="0.2"/>
<circle cx="489.5" cy="1592.5" r="9" fill="#D01C8B" fill-opacity="0.2"/>
<circle cx="1103.3" cy="1581.3" r="9" fill="#4DAC26" fill-opacity="0.2"/>
<circle cx="1250.3" cy="1677.0" r="9" fill="#D01C8B" fill-opacity="0.2"/>
<circle cx="1054.1" cy="1614.2" r="9" fill="#4DAC26" fill-opacity="0.2"/>
<circle cx="481.2" cy="1460.7" r="9" fill="#D01C8B" fill-opacity="0.2"/>
<circle cx="1250.1" cy="1845.3" r="9" fill="#D01C8B" fill-opacity="0.2"/>
<circle cx="327.3" cy="1644.9" r="9" fill="#4DAC26" fill-opacity="0.2"/>
<circle cx="901.3" cy="1621.7" r="9" fill="#D01C8B" fill-opacity="0.2"/>
<circle cx="1239.2" cy="1817.1" r="9" fill="#D01C8B" fill-opacity="0.2"/>
<circle cx="473.6" cy="1661.1" r="9" fill="#D01C8B" fill-opacity="0.2"/>
<circle cx="1221.5" cy="1897.9" r="9" fill="#D01C8B" fill-opacity="0.2"/>
<circle cx="697.2" cy="1611.6" r="9" fill="#4DAC26" fill-opacity="0.2"/>
<circle cx="1090.7" cy="1614.2" r="9" fill="#4DAC26" fill-opacity="0.2"/>
<circle cx="1099.0" cy="1614.2" r="9" fill="#4DAC26" fill-opacity="0.2"/>
<circle cx="728.8" cy="1581.4" r="9" fill="#4DAC26" fill-opacity="0.2"/>
<circle cx="1209.4" cy="1795.5" r="9" fill="#D01C8B" fill-opacity="0.2"/>
<circle cx="883.3" cy="1705.6" r="9" fill="#D01C8B" fill-opacity="0.2"/>
<circle cx="1108.7" cy="1614.2" r="9" fill="#4DAC26" fill-opacity="0.2"/>
<circle cx="1040.1" cy="1311.9" r="9" fill="#4DAC26" fill-opacity="0.2"/>
<circle cx="905.1" cy="1587.2" r="9" fill="#D01C8B" fill-opacity="0.2"/>
<circle cx="749.7" cy="1625.0" r="9" fill="#4DAC26" fill-opacity="0.2"/>
<circle cx="499.5" cy="1637.4" r="9" fill="#D01C8B" fill-opacity="0.2"/>
<circle cx="828.7" cy="1660.7" r="9" fill="#D01C8B" fill-opacity="0.2"/>
<circle cx="1219.9" cy="1544.3" r="9" fill="#D01C8B" fill-opacity="0.2"/>
<circle cx="842.4" cy="1598.5" r="9" fill="#D01C8B" fill-opacity="0.2"/>
<circle cx="365.7" cy="1643.5" r="9" fill="#4DAC26" fill-opacity="0.2"/>
<circle cx="1119.4" cy="1428.0" r="9" fill="#4DAC26" fill-opacity="0.2"/>
<circle cx="1259.8" cy="1690.5" r="9" fill="#D01C8B" fill-opacity="0.2"/>
<circle cx="835.0" cy="1734.8" r="9" fill="#D01C8B" fill-opacity="0.2"/>
<circle cx="757.8" cy="1310.4" r="9" fill="#4DAC26" fill-opacity="0.2"/>
<circle cx="1116.4" cy="1338.7" r="9" fill="#4DAC26" fill-opacity="0.2"/>
<circle cx="331.8" cy="1614.2" r="9" fill="#4DAC26" fill-opacity="0.2"/>
<circle cx="690.2" cy="1628.7" r="9" fill="#4DAC26" fill-opacity="0.2"/>
<circle cx="1242.1" cy="1614.2" r="9" fill="#D01C8B" fill-opacity="0.2"/>
<circle cx="827.7" cy="1618.0" r="9" fill="#D01C8B" fill-opacity="0.2"/>
<circle cx="1261.9" cy="1656.4" r="9" fill="#D01C8B" fill-opacity="0.2"/>
<circle cx="1093.5" cy="1577.3" r="9" fill="#4DAC26" fill-opacity="0.2"/>
<circle cx="361.0" cy="1574.1" r="9" fill="#4DAC26" fill-opacity="0.2"/>
<circle cx="671.5" cy="1711.7" r="9" fill="#4DAC26" fill-opacity="0.2"/>
<circle cx="1240.7" cy="1614.2" r="9" fill="#D01C8B" fill-opacity="0.2"/>
<circle cx="511.8" cy="1593.4" r="9" fill="#D01C8B" fill-opacity="0.2"/>
<circle cx="1059.4" cy="1597.4" r="9" fill="#4DAC26" fill-opacity="0.2"/>
<circle cx="884.8" cy="1616.7" r="9" fill="#D01C8B" fill-opacity="0.2"/>
<circle cx="1242.5" cy="1754.8" r="9" fill="#D01C8B" fill-opacity="0.2"/>
<circle cx="1041.1" cy="1614.2" r="9" fill="#4DAC26" fill-opacity="0.2"/>
<circle cx="450.7" cy="1648.4" r="9" fill="#D01C8B" fill-opacity="0.2"/>
<circle cx="1079.0" cy="1582.4" r="9" fill="#4DAC26" fill-opacity="0.2"/>
<circle cx="1205.5" cy="1765.6" r="9" fill="#D01C8B" fill-opacity="0.2"/>
<circle cx="1088.0" cy="1614.2" r="9" fill="#4DAC26" fill-opacity="0.2"/>
<circle cx="730.9" cy="1597.6" r="9" fill="#4DAC26" fill-opacity="0.2"/>
<circle cx="453.4" cy="1634.7" r="9" fill="#D01C8B" fill-opacity="0.2"/>
<circle cx="1118.5" cy="1614.2" r="9" fill="#4DAC26" fill-opacity="0.2"/>
<circle cx="1187.1" cy="1836.6" r="9" fill="#D01C8B" fill-opacity="0.2"/>
<circle cx="342.0" cy="1592.2" r="9" fill="#4DAC26" fill-opacity="0.2"/>
<circle cx="690.5" cy="1641.7" r="9" fill="#4DAC26" fill-opacity="0.2"/>
<circle cx="892.9" cy="1639.5" r="9" fill="#D01C8B" fill-opacity="0.2"/>
<circle cx="524.1" cy="1727.0" r="9" fill="#D01C8B" fill-opacity="0.2"/>
<circle cx="532.1" cy="1700.7" r="9" fill="#D01C8B" fill-opacity="0.2"/>
<circle cx="1075.4" cy="1621.8" r="9" fill="#4DAC26" fill-opacity="0.2"/>
<circle cx="1123.0" cy="1405.7" r="9" fill="#4DAC26" fill-opacity="0.2"/>
<circle cx="1086.3" cy="1614.2" r="9" fill="#4DAC26" fill-opacity="0.2"/>
<circle cx="728.3" cy="1582.5" r="9" fill="#4DAC26" fill-opacity="0.2"/>
<circle cx="320.7" cy="1616.3" r="9" fill="#4DAC26" fill-opacity="0.2"/>
<circle cx="528.2" cy="1664.8" r="9" fill="#D01C8B" fill-opacity="0.2"/>
<circle cx="380.5" cy="1573.8" r="9" fill="#4DAC26" fill-opacity="0.2"/>
<circle cx="1216.3" cy="1767.1" r="9" fill="#D01C8B" fill-opacity="0.2"/>
<circle cx="306.7" cy="1640.1" r="9" fill="#4DAC26" fill-opacity="0.2"/>
<circle cx="1071.4" cy="1614.2" r="9" fill="#4DAC26" fill-opacity="0.2"/>
<circle cx="722.3" cy="1493.5" r="9" fill="#4DAC26" fill-opacity="0.2"/>
<circle cx="1211.2" cy="1882.8" r="9" fill="#D01C8B" fill-opacity="0.2"/>
<circle cx="1064.7" cy="1328.2" r="9" fill="#4DAC26" fill-opacity="0.2"/>
<circle cx="1237.3" cy="1853.2" r="9" fill="#D01C8B" fill-opacity="0.2"/>
<circle cx="322.3" cy="1391.1" r="9" fill="#4DAC26" fill-opacity="0.2"/>
<circle cx="730.1" cy="1595.1" r="9" fill="#4DAC26" fill-opacity="0.2"/>
<circle cx="307.7" cy="1611.0" r="9" fill="#4DAC26" fill-opacity="0.2"/>
<circle cx="1187.4" cy="1624.7" r="9" fill="#D01C8B" fill-opacity="0.2"/>
<circle cx="1097.1" cy="1544.7" r="9" fill="#4DAC26" fill-opacity="0.2"/>
<circle cx="1069.8" cy="1524.7" r="9" fill="#4DAC26" fill-opacity="0.2"/>
<circle cx="1208.6" cy="1773.1" r="9" fill="#D01C8B" fill-opacity="0.2"/>
<circle cx="726.4" cy="1578.2" r="9" fill="#4DAC26" fill-opacity="0.2"/>
<circle cx="683.2" cy="1617.1" r="9" fill="#4DAC26" fill-opacity="0.2"/>
<circle cx="1043.1" cy="1536.9" r="9" fill="#4DAC26" fill-opacity="0.2"/>
<circle cx="821.8" cy="1611.2" r="9" fill="#D01C8B" fill-opacity="0.2"/>
<circle cx="680.5" cy="1616.2" r="9" fill="#4DAC26" fill-opacity="0.2"/>
<circle cx="1115.6" cy="1455.3" r="9" fill="#4DAC26" fill-opacity="0.2"/>
<circle cx="1200.4" cy="1805.4" r="9" fill="#D01C8B" fill-opacity="0.2"/>
<circle cx="1071.5" cy="1549.7" r="9" fill="#4DAC26" fill-opacity="0.2"/>
<circle cx="367.2" cy="1657.7" r="9" fill="#4DAC26" fill-opacity="0.2"/>
<circle cx="1063.5" cy="1614.2" r="9" fill="#4DAC26" fill-opacity="0.2"/>
<circle cx="1065.9" cy="1614.2" r="9" fill="#4DAC26" fill-opacity="0.2"/>
<circle cx="1235.9" cy="1614.2" r="9" fill="#D01C8B" fill-opacity="0.2"/>
<circle cx="486.4" cy="1609.7" r="9" fill="#D01C8B" fill-opacity="0.2"/>
<circle cx="359.5" cy="1570.1" r="9" fill="#4DAC26" fill-opacity="0.2"/>
<circle cx="365.8" cy="1666.7" r="9" fill="#4DAC26" fill-opacity="0.2"/>
<circle cx="1189.0" cy="1560.8" r="9" fill="#D01C8B" fill-opacity="0.2"/>
<circle cx="470.8" cy="1739.7" r="9" fill="#D01C8B" fill-opacity="0.2"/>
<circle cx="821.9" cy="1614.2" r="9" fill="#D01C8B" fill-opacity="0.2"/>
<circle cx="1215.8" cy="1614.2" r="9" fill="#D01C8B" fill-opacity="0.2"/>
<circle cx="1076.2" cy="1437.7" r="9" fill="#4DAC26" fill-opacity="0.2"/>
<circle cx="1064.5" cy="1600.5" r="9" fill="#4DAC26" fill-opacity="0.2"/>
<circle cx="533.7" cy="1722.5" r="9" fill="#D01C8B" fill-opacity="0.2"/>
<circle cx="1260.1" cy="1698.1" r="9" fill="#D01C8B" fill-opacity="0.2"/>
<circle cx="813.7" cy="1823.6" r="9" fill="#D01C8B" fill-opacity="0.2"/>
<circle cx="1253.8" cy="1614.2" r="9" fill="#D01C8B" fill-opacity="0.2"/>
<circle cx="1107.2" cy="1406.2" r="9" fill="#4DAC26" fill-opacity="0.2"/>
<circle cx="1200.9" cy="1614.2" r="9" fill="#D01C8B" fill-opacity="0.2"/>
<circle cx="674.3" cy="1607.9" r="9" fill="#4DAC26" fill-opacity="0.2"/>
<circle cx="1056.5" cy="1624.3" r="9" fill="#4DAC26" fill-opacity="0.2"/>
<circle cx="1210.6" cy="1747.9" r="9" fill="#D01C8B" fill-opacity="0.2"/>
<circle cx="508.1" cy="1588.8" r="9" fill="#D01C8B" fill-opacity="0.2"/>
<circle cx="1092.2" cy="1614.2" r="9" fill="#4DAC26" fill-opacity="0.2"/>
<circle cx="698.9" cy="1577.0" r="9" fill="#4DAC26" fill-opacity="0.2"/>
<circle cx="324.6" cy="1614.2" r="9" fill="#4DAC26" fill-opacity="0.2"/>
<circle cx="1259.9" cy="1614.2" r="9" fill="#D01C8B" fill-opacity="0.2"/>
<circle cx="823.5" cy="1590.4" r="9" fill="#D01C8B" fill-opacity="0.2"/>
<circle cx="336.2" cy="1696.5" r="9" fill="#4DAC26" fill-opacity="0.2"/>
<circle cx="1268.9" cy="1898.6" r="9" fill="#D01C8B" fill-opacity="0.2"/>
<circle cx="838.7" cy="1609.9" r="9" fill="#D01C8B" fill-opacity="0.2"/>
<circle cx="1233.4" cy="1760.1" r="9" fill="#D01C8B" fill-opacity="0.2"/>
<circle cx="1058.6" cy="1520.7" r="9" fill="#4DAC26" fill-opacity="0.2"/>
<circle cx="350.4" cy="1672.4" r="9" fill="#4DAC26" fill-opacity="0.2"/>
<circle cx="1054.7" cy="1304.7" r="9" fill="#4DAC26" fill-opacity="0.2"/>
<circle cx="1260.1" cy="1633.5" r="9" fill="#D01C8B" fill-opacity="0.2"/>
<circle cx="1105.9" cy="1614.2" r="9" fill="#4DAC26" fill-opacity="0.2"/>
<circle cx="334.2" cy="1359.4" r="9" fill="#4DAC26" fill-opacity="0.2"/>
<circle cx="728.7" cy="1666.2" r="9" fill="#4DAC26" fill-opacity="0.2"/>
<circle cx="853.3" cy="1607.7" r="9" fill="#D01C8B" fill-opacity="0.2"/>
<circle cx="1051.1" cy="1296.5" r="9" fill="#4DAC26" fill-opacity="0.2"/>
<circle cx="899.6" cy="1684.1" r="9" fill="#D01C8B" fill-opacity="0.2"/>
<circle cx="1226.8" cy="1718.0" r="9" fill="#D01C8B" fill-opacity="0.2"/>
<circle cx="1219.7" cy="1614.2" r="9" fill="#D01C8B" fill-opacity="0.2"/>
<circle cx="504.1" cy="1595.3" r="9" fill="#D01C8B" fill-opacity="0.2"/>
<circle cx="1201.4" cy="1845.7" r="9" fill="#D01C8B" fill-opacity="0.2"/>
<circle cx="1241.3" cy="1824.4" r="9" fill="#D01C8B" fill-opacity="0.2"/>
<circle cx="848.1" cy="1626.9" r="9" fill="#D01C8B" fill-opacity="0.2"/>
<circle cx="820.6" cy="1645.4" r="9" fill="#D01C8B" fill-opacity="0.2"/>
<circle cx="1266.4" cy="1560.2" r="9" fill="#D01C8B" fill-opacity="0.2"/>
<circle cx="384.3" cy="1535.1" r="9" fill="#4DAC26" fill-opacity="0.2"/>
<circle cx="334.2" cy="1435.6" r="9" fill="#4DAC26" fill-opacity="0.2"/>
<circle cx="905.1" cy="1869.4" r="9" fill="#D01C8B" fill-opacity="0.2"/>
<circle cx="1046.4" cy="1378.9" r="9" fill="#4DAC26" fill-opacity="0.2"/>
<circle cx="702.5" cy="1607.8" r="9" fill="#4DAC26" fill-opacity="0.2"/>
<circle cx="510.9" cy="1602.7" r="9" fill="#D01C8B" fill-opacity="0.2"/>
<circle cx="302.4" cy="1654.3" r="9" fill="#4DAC26" fill-opacity="0.2"/>
<circle cx="1193.4" cy="1754.7" r="9" fill="#D01C8B" fill-opacity="0.2"/>
<circle cx="1117.3" cy="1614.2" r="9" fill="#4DAC26" fill-opacity="0.2"/>
<circle cx="1267.1" cy="1614.2" r="9" fill="#D01C8B" fill-opacity="0.2"/>
<circle cx="1227.5" cy="1735.7" r="9" fill="#D01C8B" fill-opacity="0.2"/>
<circle cx="1211.5" cy="1692.4" r="9" fill="#D01C8B" fill-opacity="0.2"/>
<circle cx="527.7" cy="1647.2" r="9" fill="#D01C8B" fill-opacity="0.2"/>
<circle cx="890.0" cy="1613.7" r="9" fill="#D01C8B" fill-opacity="0.2"/>
<circle cx="1201.6" cy="1868.4" r="9" fill="#D01C8B" fill-opacity="0.2"/>
<circle cx="752.1" cy="1602.4" r="9" fill="#4DAC26" fill-opacity="0.2"/>
<circle cx="1120.9" cy="1404.9" r="9" fill="#4DAC26" fill-opacity="0.2"/>
<circle cx="501.7" cy="1578.4" r="9" fill="#D01C8B" fill-opacity="0.2"/>
<circle cx="666.4" cy="1858.9" r="9" fill="#4DAC26" fill-opacity="0.2"/>
<circle cx="1211.4" cy="1914.7" r="9" fill="#D01C8B" fill-opacity="0.2"/>
<circle cx="369.2" cy="1747.3" r="9" fill="#4DAC26" fill-opacity="0.2"/>
<circle cx="504.5" cy="1700.5" r="9" fill="#D01C8B" fill-opacity="0.2"/>
<circle cx="1186.4" cy="1638.9" r="9" fill="#D01C8B" fill-opacity="0.2"/>
<circle cx="447.6" cy="1640.4" r="9" fill="#D01C8B" fill-opacity="0.2"/>
<circle cx="381.2" cy="1552.0" r="9" fill="#4DAC26" fill-opacity="0.2"/>
<circle cx="728.4" cy="1617.0" r="9" fill="#4DAC26" fill-opacity="0.2"/>
<circle cx="1257.5" cy="1614.2" r="9" fill="#D01C8B" fill-opacity="0.2"/>
<circle cx="1268.4" cy="1891.9" r="9" fill="#D01C8B" fill-opacity="0.2"/>
<circle cx="1202.9" cy="1657.9" r="9" fill="#D01C8B" fill-opacity="0.2"/>
<circle cx="484.6" cy="1625.8" r="9" fill="#D01C8B" fill-opacity="0.2"/>
<circle cx="1198.8" cy="1633.0" r="9" fill="#D01C8B" fill-opacity="0.2"/>
<circle cx="1107.9" cy="1580.8" r="9" fill="#4DAC26" fill-opacity="0.2"/>
<circle cx="1072.6" cy="1455.3" r="9" fill="#4DAC26" fill-opacity="0.2"/>
<circle cx="1226.1" cy="1848.3" r="9" fill="#D01C8B" fill-opacity="0.2"/>
<circle cx="366.7" cy="1818.5" r="9" fill="#4DAC26" fill-opacity="0.2"/>
<circle cx="757.8" cy="1531.3" r="9" fill="#4DAC26" fill-opacity="0.2"/>
<circle cx="721.7" cy="1578.5" r="9" fill="#4DAC26" fill-opacity="0.2"/>
<circle cx="846.3" cy="1639.9" r="9" fill="#D01C8B" fill-opacity="0.2"/>
<circle cx="746.7" cy="1578.0" r="9" fill="#4DAC26" fill-opacity="0.2"/>
<circle cx="719.7" cy="1432.4" r="9" fill="#4DAC26" fill-opacity="0.2"/>
<circle cx="1249.2" cy="1648.7" r="9" fill="#D01C8B" fill-opacity="0.2"/>
<circle cx="733.4" cy="1598.4" r="9" fill="#4DAC26" fill-opacity="0.2"/>
<circle cx="473.2" cy="1630.6" r="9" fill="#D01C8B" fill-opacity="0.2"/>
<circle cx="1253.9" cy="1634.2" r="9" fill="#D01C8B" fill-opacity="0.2"/>
<circle cx="902.8" cy="1615.2" r="9" fill="#D01C8B" fill-opacity="0.2"/>
<circle cx="354.7" cy="1620.3" r="9" fill="#4DAC26" fill-opacity="0.2"/>
<circle cx="1094.1" cy="1614.2" r="9" fill="#4DAC26" fill-opacity="0.2"/>
<circle cx="864.1" cy="1640.7" r="9" fill="#D01C8B" fill-opacity="0.2"/>
<circle cx="702.9" cy="1594.1" r="9" fill="#4DAC26" fill-opacity="0.2"/>
<circle cx="683.5" cy="1602.4" r="9" fill="#4DAC26" fill-opacity="0.2"/>
<circle cx="1046.1" cy="1614.2" r="9" fill="#4DAC26" fill-opacity="0.2"/>
<circle cx="889.4" cy="1674.7" r="9" fill="#D01C8B" fill-opacity="0.2"/>
<circle cx="677.6" cy="1619.6" r="9" fill="#4DAC26" fill-opacity="0.2"/>
<circle cx="1072.1" cy="1601.1" r="9" fill="#4DAC26" fill-opacity="0.2"/>
<circle cx="1122.5" cy="1582.8" r="9" fill="#4DAC26" fill-opacity="0.2"/>
<circle cx="1101.9" cy="1550.7" r="9" fill="#4DAC26" fill-opacity="0.2"/>
<circle cx="384.3" cy="1593.5" r="9" fill="#4DAC26" fill-opacity="0.2"/>
<circle cx="1204.5" cy="1782.4" r="9" fill="#D01C8B" fill-opacity="0.2"/>
<circle cx="1123.5" cy="1614.2" r="9" fill="#4DAC26" fill-opacity="0.2"/>
<circle cx="728.1" cy="1587.4" r="9" fill="#4DAC26" fill-opacity="0.2"/>
<circle cx="1271.9" cy="1678.4" r="9" fill="#D01C8B" fill-opacity="0.2"/>
<circle cx="734.4" cy="1639.2" r="9" fill="#4DAC26" fill-opacity="0.2"/>
<circle cx="727.3" cy="1742.3" r="9" fill="#4DAC26" fill-opacity="0.2"/>
<circle cx="690.7" cy="1673.1" r="9" fill="#4DAC26" fill-opacity="0.2"/>
<circle cx="673.0" cy="1611.4" r="9" fill="#4DAC26" fill-opacity="0.2"/>
<circle cx="1064.8" cy="1484.9" r="9" fill="#4DAC26" fill-opacity="0.2"/>
<circle cx="517.2" cy="1713.7" r="9" fill="#D01C8B" fill-opacity="0.2"/>
<circle cx="448.0" cy="1762.6" r="9" fill="#D01C8B" fill-opacity="0.2"/>
<circle cx="353.6" cy="1569.2" r="9" fill="#4DAC26" fill-opacity="0.2"/>
<circle cx="1090.7" cy="1536.3" r="9" fill="#4DAC26" fill-opacity="0.2"/>
<circle cx="1195.8" cy="1932.0" r="9" fill="#D01C8B" fill-opacity="0.2"/>
<circle cx="864.9" cy="1662.0" r="9" fill="#D01C8B" fill-opacity="0.2"/>
<circle cx="1081.7" cy="1654.4" r="9" fill="#4DAC26" fill-opacity="0.2"/>
<circle cx="386.7" cy="1630.5" r="9" fill="#4DAC26" fill-opacity="0.2"/>
<circle cx="850.4" cy="1622.9" r="9" fill="#D01C8B" fill-opacity="0.2"/>
<circle cx="1117.4" cy="1360.0" r="9" fill="#4DAC26" fill-opacity="0.2"/>
<circle cx="1269.2" cy="1614.2" r="9" fill="#D01C8B" fill-opacity="0.2"/>
<circle cx="1255.9" cy="1666.9" r="9" fill="#D01C8B" fill-opacity="0.2"/>
<circle cx="1049.3" cy="1321.2" r="9" fill="#4DAC26" fill-opacity="0.2"/>
<circle cx="1057.7" cy="1559.8" r="9" fill="#4DAC26" fill-opacity="0.2"/>
<circle cx="501.1" cy="1656.6" r="9" fill="#D01C8B" fill-opacity="0.2"/>
<circle cx="725.1" cy="1555.0" r="9" fill="#4DAC26" fill-opacity="0.2"/>
<circle cx="884.1" cy="1644.0" r="9" fill="#D01C8B" fill-opacity="0.2"/>
<circle cx="1239.4" cy="1614.2" r="9" fill="#D01C8B" fill-opacity="0.2"/>
<circle cx="1121.0" cy="1487.3" r="9" fill="#4DAC26" fill-opacity="0.2"/>
<circle cx="1228.3" cy="1674.9" r="9" fill="#D01C8B" fill-opacity="0.2"/>
<circle cx="1102.8" cy="1363.9" r="9" fill="#4DAC26" fill-opacity="0.2"/>
<circle cx="1053.2" cy="1614.2" r="9" fill="#4DAC26" fill-opacity="0.2"/>
<circle cx="878.9" cy="1676.8" r="9" fill="#D01C8B" fill-opacity="0.2"/>
<circle cx="1258.5" cy="1729.3" r="9" fill="#D01C8B" fill-opacity="0.2"/>
<circle cx="510.9" cy="1591.3" r="9" fill="#D01C8B" fill-opacity="0.2"/>
<circle cx="516.3" cy="1641.3" r="9" fill="#D01C8B" fill-opacity="0.2"/>
<circle cx="1085.0" cy="1614.2" r="9" fill="#4DAC26" fill-opacity="0.2"/>
<circle cx="1038.7" cy="1614.2" r="9" fill="#4DAC26" fill-opacity="0.2"/>
<circle cx="335.4" cy="1639.4" r="9" fill="#4DAC26" fill-opacity="0.2"/>
<circle cx="313.0" cy="1668.4" r="9" fill="#4DAC26" fill-opacity="0.2"/>
<circle cx="462.2" cy="1658.5" r="9" fill="#D01C8B" fill-opacity="0.2"/>
<circle cx="500.0" cy="1668.0" r="9" fill="#D01C8B" fill-opacity="0.2"/>
<circle cx="1264.9" cy="1618.6" r="9" fill="#D01C8B" fill-opacity="0.2"/>
<circle cx="1246.5" cy="1701.2" r="9" fill="#D01C8B" fill-opacity="0.2"/>
<circle cx="1195.3" cy="1614.2" r="9" fill="#D01C8B" fill-opacity="0.2"/>
<circle cx="1200.8" cy="1696.5" r="9" fill="#D01C8B" fill-opacity="0.2"/>
<circle cx="1072.4" cy="1580.7" r="9" fill="#4DAC26" fill-opacity="0.2"/>
<circle cx="1264.1" cy="1841.6" r="9" fill="#D01C8B" fill-opacity="0.2"/>
<circle cx="1239.1" cy="1691.1" r="9" fill="#D01C8B" fill-opacity="0.2"/>
<circle cx="1251.6" cy="1701.0" r="9" fill="#D01C8B" fill-opacity="0.2"/>
<circle cx="312.1" cy="1670.2" r="9" fill="#4DAC26" fill-opacity="0.2"/>
<circle cx="1263.0" cy="1614.2" r="9" fill="#D01C8B" fill-opacity="0.2"/>
<circle cx="1078.1" cy="1414.6" r="9" fill="#4DAC26" fill-opacity="0.2"/>
<circle cx="1206.4" cy="1740.9" r="9" fill="#D01C8B" fill-opacity="0.2"/>
<circle cx="1215.5" cy="1614.2" r="9" fill="#D01C8B" fill-opacity="0.2"/>
<circle cx="1243.9" cy="1868.5" r="9" fill="#D01C8B" fill-opacity="0.2"/>
<circle cx="503.1" cy="1692.5" r="9" fill="#D01C8B" fill-opacity="0.2"/>
<circle cx="385.4" cy="1372.7" r="9" fill="#4DAC26" fill-opacity="0.2"/>
<circle cx="526.0" cy="1699.2" r="9" fill="#D01C8B" fill-opacity="0.2"/>
<circle cx="722.4" cy="1570.9" r="9" fill="#4DAC26" fill-opacity="0.2"/>
<circle cx="1194.5" cy="1626.9" r="9" fill="#D01C8B" fill-opacity="0.2"/>
<circle cx="1208.2" cy="1625.7" r="9" fill="#D01C8B" fill-opacity="0.2"/>
<circle cx="881.1" cy="1611.5" r="9" fill="#D01C8B" fill-opacity="0.2"/>
<circle cx="739.6" cy="1626.9" r="9" fill="#4DAC26" fill-opacity="0.2"/>
<circle cx="682.8" cy="1614.1" r="9" fill="#4DAC26" fill-opacity="0.2"/>
<circle cx="1115.1" cy="1391.8" r="9" fill="#4DAC26" fill-opacity="0.2"/>
<circle cx="1193.3" cy="1902.0" r="9" fill="#D01C8B" fill-opacity="0.2"/>
<circle cx="1091.7" cy="1614.2" r="9" fill="#4DAC26" fill-opacity="0.2"/>
<circle cx="1039.9" cy="1575.5" r="9" fill="#4DAC26" fill-opacity="0.2"/>
<circle cx="1084.1" cy="1576.0" r="9" fill="#4DAC26" fill-opacity="0.2"/>
<circle cx="1086.3" cy="1575.0" r="9" fill="#4DAC26" fill-opacity="0.2"/>
<circle cx="498.2" cy="1636.5" r="9" fill="#D01C8B" fill-opacity="0.2"/>
<circle cx="1186.7" cy="1635.5" r="9" fill="#D01C8B" fill-opacity="0.2"/>
<circle cx="1051.8" cy="1309.3" r="9" fill="#4DAC26" fill-opacity="0.2"/>
<circle cx="1064.5" cy="1546.1" r="9" fill="#4DAC26" fill-opacity="0.2"/>
<circle cx="1072.1" cy="1590.5" r="9" fill="#4DAC26" fill-opacity="0.2"/>
<circle cx="1120.2" cy="1614.2" r="9" fill="#4DAC26" fill-opacity="0.2"/>
<circle cx="718.1" cy="1569.4" r="9" fill="#4DAC26" fill-opacity="0.2"/>
<circle cx="742.6" cy="1381.6" r="9" fill="#4DAC26" fill-opacity="0.2"/>
<circle cx="387.8" cy="1606.2" r="9" fill="#4DAC26" fill-opacity="0.2"/>
<circle cx="1245.6" cy="1614.2" r="9" fill="#D01C8B" fill-opacity="0.2"/>
<circle cx="1227.2" cy="1614.2" r="9" fill="#D01C8B" fill-opacity="0.2"/>
<circle cx="1189.7" cy="1774.3" r="9" fill="#D01C8B" fill-opacity="0.2"/>
<circle cx="1082.0" cy="1391.8" r="9" fill="#4DAC26" fill-opacity="0.2"/>
<circle cx="685.3" cy="1573.1" r="9" fill="#4DAC26" fill-opacity="0.2"/>
<circle cx="1246.2" cy="1645.3" r="9" fill="#D01C8B" fill-opacity="0.2"/>
<circle cx="1225.2" cy="1657.9" r="9" fill="#D01C8B" fill-opacity="0.2"/>
<circle cx="1244.1" cy="1697.0" r="9" fill="#D01C8B" fill-opacity="0.2"/>
<circle cx="1205.9" cy="1932.0" r="9" fill="#D01C8B" fill-opacity="0.2"/>
<circle cx="534.6" cy="1625.1" r="9" fill="#D01C8B" fill-opacity="0.2"/>
<circle cx="1207.1" cy="1648.1" r="9" fill="#D01C8B" fill-opacity="0.2"/>
<circle cx="1250.9" cy="1644.3" r="9" fill="#D01C8B" fill-opacity="0.2"/>
<circle cx="1255.7" cy="1614.2" r="9" fill="#D01C8B" fill-opacity="0.2"/>
<circle cx="1206.1" cy="1614.2" r="9" fill="#D01C8B" fill-opacity="0.2"/>
<circle cx="1087.2" cy="1614.2" r="9" fill="#4DAC26" fill-opacity="0.2"/>
<circle cx="1202.5" cy="1342.8" r="9" fill="#D01C8B" fill-opacity="0.2"/>
<circle cx="516.0" cy="1590.3" r="9" fill="#D01C8B" fill-opacity="0.2"/>
<circle cx="1224.7" cy="1638.9" r="9" fill="#D01C8B" fill-opacity="0.2"/>
<circle cx="1074.8" cy="1527.9" r="9" fill="#4DAC26" fill-opacity="0.2"/>
<circle cx="838.8" cy="1635.7" r="9" fill="#D01C8B" fill-opacity="0.2"/>
<circle cx="678.3" cy="1597.4" r="9" fill="#4DAC26" fill-opacity="0.2"/>
<circle cx="1248.8" cy="1614.2" r="9" fill="#D01C8B" fill-opacity="0.2"/>
<circle cx="1071.8" cy="1541.5" r="9" fill="#4DAC26" fill-opacity="0.2"/>
<circle cx="493.7" cy="1727.0" r="9" fill="#D01C8B" fill-opacity="0.2"/>
<circle cx="347.8" cy="1650.6" r="9" fill="#4DAC26" fill-opacity="0.2"/>
<circle cx="1094.8" cy="1625.8" r="9" fill="#4DAC26" fill-opacity="0.2"/>
<circle cx="1202.0" cy="1614.2" r="9" fill="#D01C8B" fill-opacity="0.2"/>
<circle cx="1117.7" cy="1614.2" r="9" fill="#4DAC26" fill-opacity="0.2"/>
<circle cx="385.7" cy="1617.7" r="9" fill="#4DAC26" fill-opacity="0.2"/>
<circle cx="1041.8" cy="1327.1" r="9" fill="#4DAC26" fill-opacity="0.2"/>
<circle cx="1064.0" cy="1588.9" r="9" fill="#4DAC26" fill-opacity="0.2"/>
<circle cx="1267.5" cy="1641.5" r="9" fill="#D01C8B" fill-opacity="0.2"/>
<circle cx="1233.3" cy="1682.8" r="9" fill="#D01C8B" fill-opacity="0.2"/>
<circle cx="1072.1" cy="1614.2" r="9" fill="#4DAC26" fill-opacity="0.2"/>
<circle cx="1251.3" cy="1773.1" r="9" fill="#D01C8B" fill-opacity="0.2"/>
<circle cx="1080.5" cy="1526.6" r="9" fill="#4DAC26" fill-opacity="0.2"/>
<circle cx="1111.6" cy="1614.2" r="9" fill="#4DAC26" fill-opacity="0.2"/>
<circle cx="1068.1" cy="1582.7" r="9" fill="#4DAC26" fill-opacity="0.2"/>
<circle cx="355.0" cy="1611.1" r="9" fill="#4DAC26" fill-opacity="0.2"/>
<circle cx="710.5" cy="1585.8" r="9" fill="#4DAC26" fill-opacity="0.2"/>
<circle cx="1065.1" cy="1614.2" r="9" fill="#4DAC26" fill-opacity="0.2"/>
<circle cx="874.7" cy="1528.7" r="9" fill="#D01C8B" fill-opacity="0.2"/>
<circle cx="712.1" cy="1343.5" r="9" fill="#4DAC26" fill-opacity="0.2"/>
<circle cx="681.3" cy="1632.9" r="9" fill="#4DAC26" fill-opacity="0.2"/>
<circle cx="1072.3" cy="1715.9" r="9" fill="#4DAC26" fill-opacity="0.2"/>
<circle cx="1189.8" cy="1868.5" r="9" fill="#D01C8B" fill-opacity="0.2"/>
<circle cx="700.7" cy="1565.2" r="9" fill="#4DAC26" fill-opacity="0.2"/>
<circle cx="1210.1" cy="1614.2" r="9" fill="#D01C8B" fill-opacity="0.2"/>
<circle cx="521.2" cy="1616.1" r="9" fill="#D01C8B" fill-opacity="0.2"/>
<circle cx="1205.5" cy="1694.9" r="9" fill="#D01C8B" fill-opacity="0.2"/>
<circle cx="822.5" cy="1598.6" r="9" fill="#D01C8B" fill-opacity="0.2"/>
<circle cx="900.8" cy="1672.4" r="9" fill="#D01C8B" fill-opacity="0.2"/>
<circle cx="1273.9" cy="1901.9" r="9" fill="#D01C8B" fill-opacity="0.2"/>
<circle cx="321.9" cy="1550.1" r="9" fill="#4DAC26" fill-opacity="0.2"/>
<circle cx="683.9" cy="1614.2" r="9" fill="#4DAC26" fill-opacity="0.2"/>
<circle cx="1114.4" cy="1614.2" r="9" fill="#4DAC26" fill-opacity="0.2"/>
<circle cx="683.9" cy="1656.3" r="9" fill="#4DAC26" fill-opacity="0.2"/>
<circle cx="469.2" cy="1659.2" r="9" fill="#D01C8B" fill-opacity="0.2"/>
<circle cx="1186.8" cy="1659.0" r="9" fill="#D01C8B" fill-opacity="0.2"/>
<circle cx="728.9" cy="1617.8" r="9" fill="#4DAC26" fill-opacity="0.2"/>
<circle cx="1213.6" cy="1932.0" r="9" fill="#D01C8B" fill-opacity="0.2"/>
<circle cx="369.2" cy="1581.4" r="9" fill="#4DAC26" fill-opacity="0.2"/>
<circle cx="1077.9" cy="1416.8" r="9" fill="#4DAC26" fill-opacity="0.2"/>
<circle cx="747.7" cy="1546.5" r="9" fill="#4DAC26" fill-opacity="0.2"/>
<circle cx="520.6" cy="1640.2" r="9" fill="#D01C8B" fill-opacity="0.2"/>
<circle cx="1107.0" cy="1521.9" r="9" fill="#4DAC26" fill-opacity="0.2"/>
<circle cx="331.6" cy="1641.0" r="9" fill="#4DAC26" fill-opacity="0.2"/>
<circle cx="1249.2" cy="1614.2" r="9" fill="#D01C8B" fill-opacity="0.2"/>
<circle cx="354.0" cy="1765.1" r="9" fill="#4DAC26" fill-opacity="0.2"/>
<circle cx="1197.6" cy="1903.7" r="9" fill="#D01C8B" fill-opacity="0.2"/>
<circle cx="472.5" cy="1349.8" r="9" fill="#D01C8B" fill-opacity="0.2"/>
<circle cx="1198.4" cy="1614.2" r="9" fill="#D01C8B" fill-opacity="0.2"/>
<circle cx="1061.6" cy="1455.3" r="9" fill="#4DAC26" fill-opacity="0.2"/>
<circle cx="1119.8" cy="1387.9" r="9" fill="#4DAC26" fill-opacity="0.2"/>
<circle cx="1091.6" cy="1614.2" r="9" fill="#4DAC26" fill-opacity="0.2"/>
<circle cx="521.7" cy="1721.2" r="9" fill="#D01C8B" fill-opacity="0.2"/>
<circle cx="480.5" cy="1677.9" r="9" fill="#D01C8B" fill-opacity="0.2"/>
<circle cx="844.9" cy="1668.0" r="9" fill="#D01C8B" fill-opacity="0.2"/>
<circle cx="1195.4" cy="1614.2" r="9" fill="#D01C8B" fill-opacity="0.2"/>
<circle cx="1265.4" cy="1895.3" r="9" fill="#D01C8B" fill-opacity="0.2"/>
<circle cx="1047.5" cy="1643.7" r="9" fill="#4DAC26" fill-opacity="0.2"/>
<circle cx="1098.6" cy="1541.5" r="9" fill="#4DAC26" fill-opacity="0.2"/>
<circle cx="681.6" cy="1295.2" r="9" fill="#4DAC26" fill-opacity="0.2"/>
<circle cx="884.8" cy="1541.4" r="9" fill="#D01C8B" fill-opacity="0.2"/>
<circle cx="839.7" cy="1600.2" r="9" fill="#D01C8B" fill-opacity="0.2"/>
<circle cx="1243.8" cy="1614.2" r="9" fill="#D01C8B" fill-opacity="0.2"/>
<circle cx="494.4" cy="1643.2" r="9" fill="#D01C8B" fill-opacity="0.2"/>
<circle cx="1117.4" cy="1736.5" r="9" fill="#4DAC26" fill-opacity="0.2"/>
<circle cx="500.7" cy="1634.6" r="9" fill="#D01C8B" fill-opacity="0.2"/>
<circle cx="1060.1" cy="1455.3" r="9" fill="#4DAC26" fill-opacity="0.2"/>
<circle cx="318.3" cy="1621.8" r="9" fill="#4DAC26" fill-opacity="0.2"/>
<circle cx="1189.0" cy="1932.0" r="9" fill="#D01C8B" fill-opacity="0.2"/>
<circle cx="318.8" cy="1570.7" r="9" fill="#4DAC26" fill-opacity="0.2"/>
<circle cx="1104.8" cy="1474.7" r="9" fill="#4DAC26" fill-opacity="0.2"/>
<circle cx="1069.6" cy="1546.9" r="9" fill="#4DAC26" fill-opacity="0.2"/>
<circle cx="1090.3" cy="1550.7" r="9" fill="#4DAC26" fill-opacity="0.2"/>
<circle cx="840.4" cy="1612.2" r="9" fill="#D01C8B" fill-opacity="0.2"/>
<circle cx="1195.2" cy="1614.2" r="9" fill="#D01C8B" fill-opacity="0.2"/>
<circle cx="1189.0" cy="1533.8" r="9" fill="#D01C8B" fill-opacity="0.2"/>
<circle cx="1224.4" cy="1700.8" r="9" fill="#D01C8B" fill-opacity="0.2"/>
<circle cx="309.2" cy="1541.1" r="9" fill="#4DAC26" fill-opacity="0.2"/>
<circle cx="1229.2" cy="1614.2" r="9" fill="#D01C8B" fill-opacity="0.2"/>
<circle cx="1120.5" cy="1467.5" r="9" fill="#4DAC26" fill-opacity="0.2"/>
<circle cx="1078.8" cy="1539.4" r="9" fill="#4DAC26" fill-opacity="0.2"/>
<circle cx="1118.7" cy="1644.5" r="9" fill="#4DAC26" fill-opacity="0.2"/>
<circle cx="476.7" cy="1614.2" r="9" fill="#D01C8B" fill-opacity="0.2"/>
<circle cx="1116.7" cy="1622.1" r="9" fill="#4DAC26" fill-opacity="0.2"/>
<circle cx="348.0" cy="1549.5" r="9" fill="#4DAC26" fill-opacity="0.2"/>
<circle cx="711.9" cy="1650.5" r="9" fill="#4DAC26" fill-opacity="0.2"/>
<circle cx="1187.9" cy="1679.0" r="9" fill="#D01C8B" fill-opacity="0.2"/>
<circle cx="904.3" cy="1624.1" r="9" fill="#D01C8B" fill-opacity="0.2"/>
<circle cx="1267.0" cy="1614.2" r="9" fill="#D01C8B" fill-opacity="0.2"/>
<circle cx="1115.8" cy="1614.2" r="9" fill="#4DAC26" fill-opacity="0.2"/>
<circle cx="702.5" cy="1582.1" r="9" fill="#4DAC26" fill-opacity="0.2"/>
<circle cx="1235.2" cy="1550.7" r="9" fill="#D01C8B" fill-opacity="0.2"/>
<circle cx="1069.9" cy="1617.4" r="9" fill="#4DAC26" fill-opacity="0.2"/>
<circle cx="1238.5" cy="1739.1" r="9" fill="#D01C8B" fill-opacity="0.2"/>
<circle cx="1253.3" cy="1679.2" r="9" fill="#D01C8B" fill-opacity="0.2"/>
<circle cx="1230.7" cy="1614.2" r="9" fill="#D01C8B" fill-opacity="0.2"/>
<circle cx="1191.9" cy="1932.0" r="9" fill="#D01C8B" fill-opacity="0.2"/>
<circle cx="1112.9" cy="1771.2" r="9" fill="#4DAC26" fill-opacity="0.2"/>
<circle cx="503.6" cy="1576.9" r="9" fill="#D01C8B" fill-opacity="0.2"/>
<circle cx="494.2" cy="1612.8" r="9" fill="#D01C8B" fill-opacity="0.2"/>
<circle cx="1244.0" cy="1773.9" r="9" fill="#D01C8B" fill-opacity="0.2"/>
<circle cx="498.7" cy="1838.8" r="9" fill="#D01C8B" fill-opacity="0.2"/>
<circle cx="519.1" cy="1596.8" r="9" fill="#D01C8B" fill-opacity="0.2"/>
<circle cx="1192.4" cy="1747.6" r="9" fill="#D01C8B" fill-opacity="0.2"/>
<circle cx="666.4" cy="1358.7" r="9" fill="#4DAC26" fill-opacity="0.2"/>
<circle cx="720.2" cy="1601.2" r="9" fill="#4DAC26" fill-opacity="0.2"/>
<circle cx="1069.5" cy="1641.7" r="9" fill="#4DAC26" fill-opacity="0.2"/>
<circle cx="1190.8" cy="1614.2" r="9" fill="#D01C8B" fill-opacity="0.2"/>
<circle cx="1229.7" cy="1614.2" r="9" fill="#D01C8B" fill-opacity="0.2"/>
<circle cx="889.9" cy="1701.6" r="9" fill="#D01C8B" fill-opacity="0.2"/>
<circle cx="483.5" cy="1813.4" r="9" fill="#D01C8B" fill-opacity="0.2"/>
<circle cx="672.1" cy="1632.2" r="9" fill="#4DAC26" fill-opacity="0.2"/>
<circle cx="1272.8" cy="1932.0" r="9" fill="#D01C8B" fill-opacity="0.2"/>
<circle cx="376.7" cy="1456.3" r="9" fill="#4DAC26" fill-opacity="0.2"/>
<circle cx="855.1" cy="1665.5" r="9" fill="#D01C8B" fill-opacity="0.2"/>
<circle cx="1087.8" cy="1391.8" r="9" fill="#4DAC26" fill-opacity="0.2"/>
<circle cx="309.8" cy="1639.2" r="9" fill="#4DAC26" fill-opacity="0.2"/>
<circle cx="715.0" cy="1620.1" r="9" fill="#4DAC26" fill-opacity="0.2"/>
<circle cx="509.5" cy="1516.3" r="9" fill="#D01C8B" fill-opacity="0.2"/>
<circle cx="1045.4" cy="1649.5" r="9" fill="#4DAC26" fill-opacity="0.2"/>
<circle cx="1117.7" cy="1617.4" r="9" fill="#4DAC26" fill-opacity="0.2"/>
<circle cx="324.4" cy="1594.6" r="9" fill="#4DAC26" fill-opacity="0.2"/>
<circle cx="1232.1" cy="1679.0" r="9" fill="#D01C8B" fill-opacity="0.2"/>
<circle cx="481.0" cy="1602.6" r="9" fill="#D01C8B" fill-opacity="0.2"/>
<circle cx="1120.0" cy="1585.7" r="9" fill="#4DAC26" fill-opacity="0.2"/>
<circle cx="671.5" cy="1660.9" r="9" fill="#4DAC26" fill-opacity="0.2"/>
<circle cx="1046.2" cy="1630.9" r="9" fill="#4DAC26" fill-opacity="0.2"/>
<circle cx="1207.6" cy="1861.5" r="9" fill="#D01C8B" fill-opacity="0.2"/>
<circle cx="679.1" cy="1599.0" r="9" fill="#4DAC26" fill-opacity="0.2"/>
<circle cx="1230.2" cy="1614.2" r="9" fill="#D01C8B" fill-opacity="0.2"/>
<circle cx="752.7" cy="1597.0" r="9" fill="#4DAC26" fill-opacity="0.2"/>
<circle cx="824.7" cy="1650.2" r="9" fill="#D01C8B" fill-opacity="0.2"/>
<circle cx="855.0" cy="1610.8" r="9" fill="#D01C8B" fill-opacity="0.2"/>
<circle cx="895.0" cy="1871.6" r="9" fill="#D01C8B" fill-opacity="0.2"/>
<circle cx="1061.9" cy="1482.6" r="9" fill="#4DAC26" fill-opacity="0.2"/>
<circle cx="860.1" cy="1647.0" r="9" fill="#D01C8B" fill-opacity="0.2"/>
<circle cx="1087.3" cy="1617.4" r="9" fill="#4DAC26" fill-opacity="0.2"/>
<circle cx="382.8" cy="1618.6" r="9" fill="#4DAC26" fill-opacity="0.2"/>
<circle cx="1207.6" cy="1798.2" r="9" fill="#D01C8B" fill-opacity="0.2"/>
<circle cx="1212.6" cy="1659.0" r="9" fill="#D01C8B" fill-opacity="0.2"/>
<circle cx="321.5" cy="1574.8" r="9" fill="#4DAC26" fill-opacity="0.2"/>
<circle cx="1120.6" cy="1579.6" r="9" fill="#4DAC26" fill-opacity="0.2"/>
<circle cx="1265.0" cy="1614.2" r="9" fill="#D01C8B" fill-opacity="0.2"/>
<circle cx="755.1" cy="1588.1" r="9" fill="#4DAC26" fill-opacity="0.2"/>
<circle cx="820.1" cy="1614.2" r="9" fill="#D01C8B" fill-opacity="0.2"/>
<circle cx="869.9" cy="1620.6" r="9" fill="#D01C8B" fill-opacity="0.2"/>
<circle cx="726.6" cy="1630.1" r="9" fill="#4DAC26" fill-opacity="0.2"/>
<circle cx="371.7" cy="1520.1" r="9" fill="#4DAC26" fill-opacity="0.2"/>
<circle cx="1225.1" cy="1719.0" r="9" fill="#D01C8B" fill-opacity="0.2"/>
<circle cx="461.6" cy="1653.8" r="9" fill="#D01C8B" fill-opacity="0.2"/>
<circle cx="480.6" cy="1592.2" r="9" fill="#D01C8B" fill-opacity="0.2"/>
<circle cx="1092.6" cy="1559.7" r="9" fill="#4DAC26" fill-opacity="0.2"/>
<circle cx="340.8" cy="1612.7" r="9" fill="#4DAC26" fill-opacity="0.2"/>
<circle cx="703.5" cy="1591.5" r="9" fill="#4DAC26" fill-opacity="0.2"/>
<circle cx="1241.0" cy="1645.0" r="9" fill="#D01C8B" fill-opacity="0.2"/>
<circle cx="330.2" cy="1661.1" r="9" fill="#4DAC26" fill-opacity="0.2"/>
<circle cx="1046.9" cy="1524.2" r="9" fill="#4DAC26" fill-opacity="0.2"/>
<circle cx="729.9" cy="1374.0" r="9" fill="#4DAC26" fill-opacity="0.2"/>
<line x1="417.70" y1="1964.70" x2="417.70" y2="1975.20" stroke="#222" stroke-width="4"/>
<line x1="787.40" y1="1964.70" x2="787.40" y2="1975.20" stroke="#222" stroke-width="4"/>
<line x1="1156.30" y1="1964.70" x2="1156.30" y2="1975.20" stroke="#222" stroke-width="4"/>
<text x="252.51" y="2008.90" font-size="32.80" fill="#4D4D4D" textLength="328.67" lengthAdjust="spacingAndGlyphs">Low–moderate (0–80)</text>
<text x="356.54" y="2045.20" font-size="32.80" fill="#4D4D4D" textLength="121.77" lengthAdjust="spacingAndGlyphs">(N=401)</text>
<text x="688.09" y="2008.90" font-size="32.80" fill="#4D4D4D" textLength="195.82" lengthAdjust="spacingAndGlyphs">High (81–99)</text>
<text x="725.44" y="2045.20" font-size="32.80" fill="#4D4D4D" textLength="121.77" lengthAdjust="spacingAndGlyphs">(N=375)</text>
<text x="1049.12" y="2008.90" font-size="32.80" fill="#4D4D4D" textLength="212.09" lengthAdjust="spacingAndGlyphs">Maximal (100)</text>
<text x="1094.54" y="2045.20" font-size="32.80" fill="#4D4D4D" textLength="121.77" lengthAdjust="spacingAndGlyphs">(N=866)</text>
<text x="600.16" y="2093.70" font-size="41.70" fill="#000" textLength="373.14" lengthAdjust="spacingAndGlyphs">Preference Strength</text>
<text transform="translate(35.50,0) rotate(-90)" x="-1793.64" y="0" font-size="41.70" fill="#000" textLength="359.30" lengthAdjust="spacingAndGlyphs">Fraud belief update</text>
<text transform="translate(79.60,0) rotate(-90)" x="-1751.69" y="0" font-size="41.70" fill="#000" textLength="274.97" lengthAdjust="spacingAndGlyphs">(after – before)</text>
<text x="369.33" y="2221.30" font-size="41.70" fill="#000" textLength="169.03" lengthAdjust="spacingAndGlyphs">Outcome</text>
<rect x="561.80" y="2173.60" width="66.10" height="66.00" fill="#A6D592" stroke="#000" stroke-width="4"/>
<circle cx="594.8" cy="2206.6" r="9" fill="#4DAC26" fill-opacity="0.25"/>
<rect x="917.50" y="2173.60" width="66.00" height="66.00" fill="#E78DC5" stroke="#000" stroke-width="4"/>
<circle cx="950.5" cy="2206.6" r="9" fill="#D01C8B" fill-opacity="0.25"/>
<text x="650.78" y="2218.00" font-size="32.80" fill="#000" textLength="244.69" lengthAdjust="spacingAndGlyphs">Undesired (loss)</text>
<text x="1006.31" y="2218.00" font-size="32.80" fill="#000" textLength="198.22" lengthAdjust="spacingAndGlyphs">Desired (win)</text>
</svg></body></html>
